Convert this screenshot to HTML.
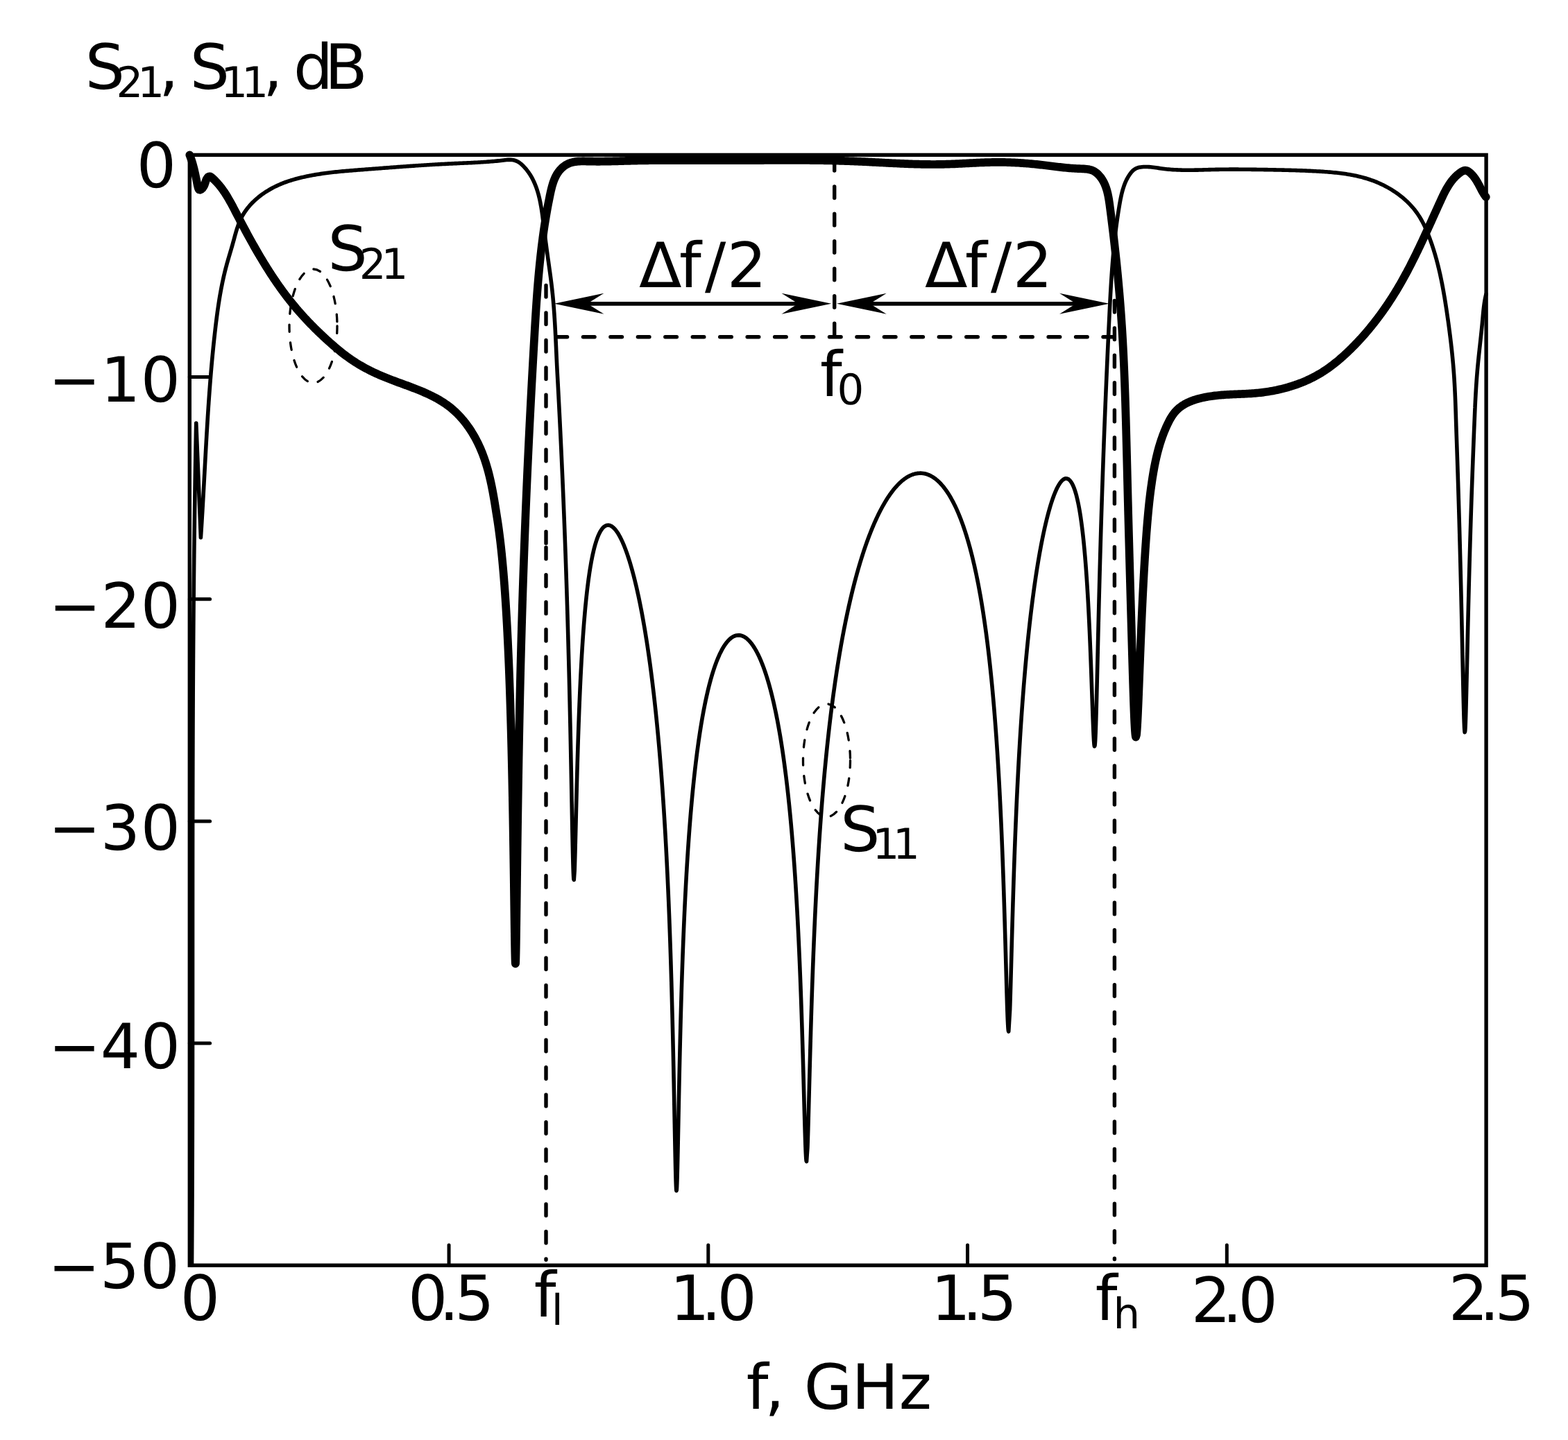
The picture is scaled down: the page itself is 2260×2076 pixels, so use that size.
<!DOCTYPE html>
<html lang="en">
<head>
<meta charset="utf-8">
<title>S21, S11 frequency response</title>
<style>
html,body{margin:0;padding:0;background:#fff;}
body{width:2260px;height:2076px;overflow:hidden;}
svg{display:block;}
</style>
</head>
<body>
<svg xmlns="http://www.w3.org/2000/svg" width="2260" height="2076" viewBox="0 0 2260 2076">
<rect width="2260" height="2076" fill="#fff"/>
<g fill="none" stroke="#000" stroke-linejoin="round" stroke-linecap="round">
<path stroke-width="5.6" d="M276.5,1824 L276.51,1822 L276.53,1820 L276.54,1818 L276.55,1816 L276.57,1814 L276.58,1812 L276.59,1810 L276.61,1808 L276.62,1806 L276.63,1804 L276.64,1802 L276.66,1800 L276.67,1798 L276.68,1796 L276.69,1794 L276.7,1792 L276.72,1790 L276.73,1788 L276.74,1786 L276.75,1784 L276.76,1782 L276.77,1780 L276.79,1778 L276.8,1776 L276.81,1774 L276.82,1772 L276.83,1770 L276.84,1768 L276.85,1766 L276.86,1764 L276.87,1762 L276.88,1760 L276.89,1758 L276.9,1756 L276.91,1754 L276.92,1752 L276.93,1750 L276.94,1748 L276.95,1746 L276.96,1744 L276.97,1742 L276.98,1740 L276.99,1738 L276.99,1736 L277,1734 L277.01,1732 L277.02,1730 L277.03,1728 L277.04,1726 L277.05,1724 L277.05,1722 L277.06,1720 L277.07,1718 L277.08,1716 L277.09,1714 L277.1,1712 L277.1,1710 L277.11,1708 L277.12,1706 L277.13,1704 L277.13,1702 L277.14,1700 L277.15,1698 L277.15,1696 L277.16,1694 L277.17,1692 L277.18,1690 L277.18,1688 L277.19,1686 L277.2,1684 L277.2,1682 L277.21,1680 L277.21,1678 L277.22,1676 L277.23,1674 L277.23,1672 L277.24,1670 L277.25,1668 L277.25,1666 L277.26,1664 L277.26,1662 L277.27,1660 L277.27,1658 L277.28,1656 L277.28,1654 L277.29,1652 L277.29,1650 L277.3,1648 L277.31,1646 L277.31,1644 L277.32,1642 L277.32,1640 L277.32,1638 L277.33,1636 L277.33,1634 L277.34,1632 L277.34,1630 L277.35,1628 L277.35,1626 L277.36,1624 L277.36,1622 L277.37,1620 L277.37,1618 L277.37,1616 L277.38,1614 L277.38,1612 L277.39,1610 L277.39,1608 L277.39,1606 L277.4,1604 L277.4,1602 L277.4,1600 L277.41,1598 L277.41,1596 L277.41,1594 L277.42,1592 L277.42,1590 L277.42,1588 L277.43,1586 L277.43,1584 L277.43,1582 L277.44,1580 L277.44,1578 L277.44,1576 L277.44,1574 L277.45,1572 L277.45,1570 L277.45,1568 L277.45,1566 L277.46,1564 L277.46,1562 L277.46,1560 L277.46,1558 L277.47,1556 L277.47,1554 L277.47,1552 L277.47,1550 L277.48,1548 L277.48,1546 L277.48,1544 L277.48,1542 L277.48,1540 L277.49,1538 L277.49,1536 L277.49,1534 L277.49,1532 L277.49,1530 L277.49,1528 L277.5,1526 L277.5,1524 L277.5,1522 L277.5,1520 L277.5,1518 L277.5,1516 L277.51,1514 L277.51,1512 L277.51,1510 L277.51,1508 L277.51,1506 L277.51,1504 L277.51,1502 L277.51,1500 L277.52,1498 L277.52,1496 L277.52,1494 L277.52,1492 L277.52,1490 L277.52,1488 L277.52,1485.99 L277.52,1483.99 L277.52,1481.99 L277.52,1479.99 L277.53,1477.99 L277.53,1475.99 L277.53,1473.99 L277.53,1471.99 L277.53,1469.99 L277.53,1467.99 L277.53,1465.99 L277.53,1463.99 L277.53,1461.99 L277.53,1459.99 L277.53,1457.99 L277.53,1455.99 L277.53,1453.99 L277.53,1451.99 L277.53,1449.99 L277.54,1447.99 L277.54,1445.99 L277.54,1443.99 L277.54,1441.99 L277.54,1439.99 L277.54,1437.99 L277.54,1435.99 L277.54,1433.99 L277.54,1431.99 L277.54,1429.99 L277.54,1427.99 L277.54,1425.99 L277.54,1423.99 L277.54,1421.99 L277.54,1419.99 L277.54,1417.99 L277.54,1415.99 L277.54,1413.99 L277.54,1411.99 L277.54,1409.99 L277.54,1407.99 L277.54,1405.99 L277.54,1403.99 L277.54,1401.99 L277.54,1399.99 L277.54,1397.99 L277.54,1395.99 L277.54,1393.99 L277.54,1391.99 L277.54,1389.99 L277.54,1387.99 L277.54,1385.99 L277.54,1383.99 L277.54,1381.99 L277.54,1379.99 L277.54,1377.99 L277.54,1375.99 L277.54,1373.99 L277.54,1371.99 L277.54,1369.99 L277.54,1367.99 L277.55,1365.99 L277.55,1363.99 L277.55,1361.99 L277.55,1359.99 L277.55,1357.99 L277.55,1355.99 L277.55,1353.99 L277.55,1351.99 L277.55,1349.99 L277.55,1347.99 L277.55,1345.99 L277.55,1343.99 L277.55,1341.99 L277.55,1339.99 L277.55,1337.99 L277.55,1335.99 L277.55,1333.99 L277.55,1331.99 L277.55,1329.99 L277.55,1327.99 L277.55,1325.99 L277.55,1323.99 L277.55,1321.99 L277.55,1319.99 L277.55,1317.99 L277.55,1315.99 L277.55,1313.99 L277.55,1311.99 L277.55,1309.99 L277.55,1307.99 L277.55,1305.99 L277.55,1303.99 L277.55,1301.99 L277.55,1299.99 L277.56,1297.99 L277.56,1295.99 L277.56,1293.99 L277.56,1291.99 L277.56,1289.99 L277.56,1287.99 L277.56,1285.99 L277.56,1283.99 L277.56,1281.99 L277.56,1279.99 L277.56,1277.99 L277.56,1275.99 L277.56,1273.99 L277.57,1271.98 L277.57,1269.98 L277.57,1267.98 L277.57,1265.98 L277.57,1263.98 L277.57,1261.98 L277.57,1259.98 L277.57,1257.98 L277.57,1255.98 L277.57,1253.98 L277.58,1251.98 L277.58,1249.98 L277.58,1247.98 L277.58,1245.98 L277.58,1243.98 L277.58,1241.98 L277.58,1239.98 L277.58,1237.98 L277.59,1235.98 L277.59,1233.98 L277.59,1231.98 L277.59,1229.98 L277.59,1227.98 L277.59,1225.98 L277.6,1223.98 L277.6,1221.98 L277.6,1219.98 L277.6,1217.98 L277.6,1215.98 L277.61,1213.98 L277.61,1211.98 L277.61,1209.98 L277.61,1207.98 L277.61,1205.98 L277.62,1203.98 L277.62,1201.98 L277.62,1199.98 L277.62,1197.98 L277.63,1195.98 L277.63,1193.98 L277.63,1191.98 L277.63,1189.98 L277.64,1187.98 L277.64,1185.98 L277.64,1183.98 L277.64,1181.98 L277.65,1179.98 L277.65,1177.98 L277.65,1175.98 L277.65,1173.98 L277.66,1171.98 L277.66,1169.98 L277.66,1167.98 L277.67,1165.98 L277.67,1163.98 L277.67,1161.98 L277.68,1159.98 L277.68,1157.98 L277.68,1155.98 L277.69,1153.98 L277.69,1151.98 L277.69,1149.98 L277.7,1147.98 L277.7,1145.98 L277.71,1143.98 L277.71,1141.98 L277.71,1139.98 L277.72,1137.98 L277.72,1135.98 L277.73,1133.98 L277.73,1131.98 L277.73,1129.98 L277.74,1127.98 L277.74,1125.98 L277.75,1123.98 L277.75,1121.98 L277.76,1119.98 L277.76,1117.98 L277.77,1115.98 L277.77,1113.98 L277.78,1111.98 L277.78,1109.98 L277.79,1107.98 L277.79,1105.98 L277.8,1103.98 L277.8,1101.98 L277.81,1099.98 L277.81,1097.98 L277.82,1095.98 L277.82,1093.98 L277.83,1091.98 L277.84,1089.98 L277.84,1087.98 L277.85,1085.98 L277.85,1083.98 L277.86,1081.98 L277.87,1079.98 L277.87,1077.98 L277.88,1075.98 L277.88,1073.98 L277.89,1071.98 L277.9,1069.98 L277.9,1067.98 L277.91,1065.98 L277.92,1063.98 L277.92,1061.98 L277.93,1059.98 L277.94,1057.98 L277.95,1055.98 L277.95,1053.98 L277.96,1051.98 L277.97,1049.98 L277.98,1047.98 L277.98,1045.98 L277.99,1043.98 L278,1041.98 L278.01,1039.98 L278.01,1037.98 L278.02,1035.98 L278.03,1033.98 L278.04,1031.98 L278.05,1029.98 L278.06,1027.98 L278.06,1025.98 L278.07,1023.98 L278.08,1021.98 L278.09,1019.98 L278.1,1017.98 L278.11,1015.98 L278.12,1013.98 L278.13,1011.98 L278.14,1009.98 L278.15,1007.98 L278.15,1005.98 L278.16,1003.98 L278.17,1001.98 L278.18,999.98 L278.19,997.98 L278.2,995.98 L278.21,993.98 L278.22,991.98 L278.23,989.98 L278.25,987.98 L278.26,985.98 L278.27,983.98 L278.28,981.98 L278.29,979.98 L278.3,977.98 L278.31,975.98 L278.32,973.98 L278.33,971.98 L278.34,969.98 L278.36,967.98 L278.37,965.98 L278.38,963.98 L278.39,961.98 L278.4,959.98 L278.42,957.98 L278.43,955.98 L278.44,953.98 L278.45,951.98 L278.46,949.98 L278.48,947.98 L278.49,945.98 L278.5,943.98 L278.52,941.98 L278.53,939.98 L278.54,937.98 L278.56,935.98 L278.57,933.98 L278.58,931.98 L278.6,929.98 L278.61,927.98 L278.63,925.98 L278.64,923.98 L278.65,921.98 L278.67,919.98 L278.68,917.98 L278.7,915.98 L278.71,913.98 L278.73,911.98 L278.74,909.98 L278.76,907.98 L278.77,905.98 L278.79,903.98 L278.8,901.98 L278.82,899.98 L278.83,897.98 L278.85,895.98 L278.87,893.98 L278.88,891.98 L278.9,889.98 L278.92,887.98 L278.93,885.98 L278.95,883.98 L278.97,881.98 L278.98,879.98 L279,877.98 L279.02,875.98 L279.03,873.98 L279.05,871.98 L279.07,869.98 L279.09,867.98 L279.11,865.98 L279.12,863.98 L279.14,861.98 L279.16,859.98 L279.18,857.98 L279.2,855.98 L279.22,853.98 L279.24,851.98 L279.25,849.98 L279.27,847.98 L279.29,845.98 L279.31,843.98 L279.33,841.98 L279.35,839.98 L279.37,837.98 L279.39,835.98 L279.41,833.98 L279.43,831.98 L279.45,829.98 L279.47,827.98 L279.49,825.98 L279.52,823.98 L279.54,821.98 L279.56,819.98 L279.58,817.98 L279.6,815.98 L279.62,813.98 L279.65,811.98 L279.67,809.98 L279.69,807.98 L279.71,805.98 L279.73,803.98 L279.76,801.98 L279.78,799.98 L279.8,797.98 L279.83,795.98 L279.85,793.98 L279.87,791.98 L279.9,789.98 L279.92,787.98 L279.94,785.98 L279.97,783.98 L279.99,781.98 L280.02,779.98 L280.04,777.98 L280.07,775.98 L280.09,773.98 L280.12,771.98 L280.14,769.98 L280.17,767.98 L280.19,765.98 L280.22,763.98 L280.24,761.98 L280.27,759.98 L280.3,757.98 L280.32,755.98 L280.35,753.98 L280.38,751.98 L280.4,749.98 L280.43,747.99 L280.46,745.99 L280.49,743.99 L280.51,741.99 L280.54,739.99 L280.57,737.99 L280.6,735.99 L280.63,733.99 L280.65,731.99 L280.68,729.99 L280.71,727.99 L280.74,725.99 L280.77,723.99 L280.8,721.99 L280.83,719.99 L280.86,717.99 L280.89,715.99 L280.92,713.99 L280.95,711.99 L280.98,709.99 L281.01,707.99 L281.04,705.99 L281.07,703.99 L281.1,701.99 L281.14,699.99 L281.17,697.99 L281.2,695.99 L281.23,693.99 L281.26,691.99 L281.3,689.99 L281.33,687.99 L281.36,685.99 L281.39,683.99 L281.43,681.99 L281.46,679.99 L281.49,677.99 L281.53,675.99 L281.56,673.99 L281.6,671.99 L281.63,669.99 L281.66,667.99 L281.7,665.99 L281.73,663.99 L281.77,661.99 L281.8,659.99 L281.84,657.99 L281.87,655.99 L281.91,653.99 L281.95,651.99 L281.98,649.99 L282.02,648 L282.06,646 L282.09,644 L282.13,642 L282.17,640 L282.2,638 L282.24,636 L282.28,634 L282.32,632 L282.36,630 L282.39,628 L282.43,626 L282.47,624 L282.51,622 L282.55,620 L282.59,618 L282.63,616 L282.67,614 L282.71,612 L282.75,610 L286,690 L289.4,775 L289.53,773 L289.66,771 L289.79,769 L289.92,767 L290.05,765 L290.18,763.01 L290.3,761.01 L290.43,759.01 L290.55,757.01 L290.68,755.01 L290.8,753.01 L290.92,751.01 L291.04,749.01 L291.16,747.01 L291.28,745.01 L291.4,743.02 L291.52,741.02 L291.64,739.02 L291.76,737.02 L291.87,735.02 L291.99,733.02 L292.1,731.02 L292.22,729.02 L292.33,727.02 L292.44,725.02 L292.56,723.03 L292.67,721.03 L292.78,719.03 L292.89,717.03 L293.01,715.03 L293.12,713.03 L293.23,711.03 L293.34,709.03 L293.45,707.04 L293.56,705.04 L293.67,703.04 L293.77,701.04 L293.88,699.04 L293.99,697.04 L294.1,695.04 L294.21,693.05 L294.32,691.05 L294.42,689.05 L294.53,687.05 L294.64,685.05 L294.75,683.05 L294.86,681.05 L294.96,679.06 L295.07,677.06 L295.18,675.06 L295.29,673.06 L295.4,671.06 L295.5,669.07 L295.61,667.07 L295.72,665.07 L295.83,663.07 L295.94,661.07 L296.05,659.07 L296.16,657.08 L296.27,655.08 L296.38,653.08 L296.49,651.08 L296.6,649.08 L296.71,647.09 L296.82,645.09 L296.93,643.09 L297.05,641.09 L297.16,639.1 L297.27,637.1 L297.39,635.1 L297.5,633.1 L297.62,631.11 L297.73,629.11 L297.85,627.11 L297.96,625.11 L298.08,623.12 L298.2,621.12 L298.32,619.12 L298.44,617.12 L298.56,615.13 L298.68,613.13 L298.8,611.13 L298.92,609.14 L299.05,607.14 L299.17,605.14 L299.3,603.15 L299.42,601.15 L299.55,599.15 L299.68,597.15 L299.8,595.16 L299.93,593.16 L300.07,591.17 L300.2,589.17 L300.33,587.17 L300.46,585.18 L300.6,583.18 L300.74,581.18 L300.87,579.19 L301.01,577.19 L301.15,575.19 L301.29,573.2 L301.43,571.2 L301.58,569.21 L301.72,567.21 L301.87,565.21 L302.02,563.22 L302.16,561.22 L302.32,559.23 L302.47,557.23 L302.62,555.24 L302.77,553.24 L302.93,551.25 L303.09,549.25 L303.25,547.25 L303.41,545.26 L303.57,543.26 L303.73,541.27 L303.9,539.27 L304.06,537.28 L304.23,535.28 L304.4,533.29 L304.57,531.29 L304.75,529.3 L304.92,527.31 L305.1,525.31 L305.28,523.32 L305.46,521.32 L305.64,519.33 L305.83,517.33 L306.01,515.34 L306.2,513.34 L306.39,511.35 L306.58,509.36 L306.78,507.36 L306.97,505.37 L307.17,503.37 L307.37,501.38 L307.57,499.39 L307.78,497.39 L307.98,495.4 L308.19,493.41 L308.4,491.41 L308.62,489.42 L308.83,487.43 L309.05,485.43 L309.27,483.44 L309.49,481.45 L309.71,479.46 L309.94,477.46 L310.17,475.47 L310.4,473.48 L310.63,471.49 L310.87,469.49 L311.11,467.5 L311.35,465.51 L311.6,463.52 L311.85,461.53 L312.1,459.54 L312.35,457.55 L312.61,455.56 L312.88,453.57 L313.14,451.58 L313.41,449.59 L313.69,447.61 L313.97,445.62 L314.26,443.64 L314.55,441.66 L314.84,439.67 L315.14,437.69 L315.45,435.71 L315.76,433.74 L316.08,431.76 L316.4,429.78 L316.73,427.81 L317.07,425.84 L317.41,423.87 L317.76,421.9 L318.11,419.93 L318.48,417.96 L318.85,416 L319.22,414.04 L319.61,412.08 L320,410.12 L320.4,408.16 L320.8,406.21 L321.22,404.26 L321.64,402.31 L322.07,400.36 L322.51,398.42 L322.96,396.48 L323.42,394.54 L323.88,392.6 L324.36,390.66 L324.84,388.73 L325.34,386.8 L325.84,384.88 L326.36,382.96 L326.88,381.04 L327.41,379.12 L327.95,377.2 L328.5,375.29 L329.05,373.37 L329.61,371.46 L330.18,369.55 L330.74,367.64 L331.31,365.72 L331.88,363.81 L332.44,361.89 L333.01,359.97 L333.57,358.04 L334.13,356.12 L334.69,354.19 L335.24,352.25 L335.78,350.31 L336.32,348.36 L336.85,346.41 L337.38,344.46 L337.91,342.5 L338.44,340.55 L338.98,338.6 L339.52,336.65 L340.08,334.71 L340.65,332.77 L341.24,330.84 L341.85,328.92 L342.49,327.02 L343.15,325.13 L343.83,323.25 L344.55,321.39 L345.3,319.55 L346.1,317.72 L346.93,315.92 L347.8,314.14 L348.72,312.39 L349.68,310.66 L350.68,308.96 L351.72,307.27 L352.81,305.62 L353.93,303.99 L355.09,302.38 L356.29,300.8 L357.52,299.24 L358.79,297.71 L360.09,296.2 L361.43,294.72 L362.8,293.26 L364.2,291.83 L365.63,290.43 L367.09,289.05 L368.57,287.69 L370.09,286.37 L371.62,285.06 L373.19,283.79 L374.78,282.54 L376.39,281.32 L378.02,280.12 L379.68,278.95 L381.35,277.81 L383.04,276.69 L384.75,275.6 L386.48,274.54 L388.23,273.5 L389.98,272.49 L391.76,271.51 L393.54,270.56 L395.34,269.63 L397.15,268.73 L398.97,267.86 L400.8,267.01 L402.63,266.2 L404.48,265.41 L406.33,264.65 L408.19,263.91 L410.05,263.19 L411.92,262.5 L413.8,261.84 L415.69,261.19 L417.58,260.57 L419.48,259.97 L421.39,259.38 L423.29,258.82 L425.21,258.28 L427.13,257.75 L429.05,257.24 L430.98,256.75 L432.91,256.27 L434.85,255.81 L436.79,255.36 L438.73,254.92 L440.68,254.5 L442.62,254.09 L444.58,253.69 L446.53,253.31 L448.49,252.94 L450.45,252.57 L452.41,252.22 L454.38,251.88 L456.34,251.55 L458.31,251.23 L460.28,250.93 L462.26,250.63 L464.24,250.33 L466.21,250.05 L468.2,249.78 L470.18,249.52 L472.16,249.26 L474.15,249.01 L476.14,248.77 L478.13,248.54 L480.12,248.31 L482.11,248.09 L484.1,247.87 L486.1,247.67 L488.09,247.46 L490.09,247.27 L492.09,247.07 L494.09,246.89 L496.09,246.7 L498.09,246.53 L500.09,246.35 L502.09,246.18 L504.1,246.01 L506.1,245.85 L508.1,245.68 L510.11,245.52 L512.11,245.37 L514.12,245.21 L516.12,245.05 L518.12,244.9 L520.13,244.75 L522.13,244.6 L524.14,244.44 L526.14,244.29 L528.14,244.14 L530.15,243.99 L532.15,243.83 L534.15,243.68 L536.15,243.53 L538.15,243.37 L540.16,243.22 L542.16,243.07 L544.16,242.92 L546.16,242.76 L548.16,242.61 L550.16,242.46 L552.16,242.31 L554.16,242.16 L556.16,242 L558.15,241.85 L560.15,241.7 L562.15,241.55 L564.15,241.4 L566.15,241.25 L568.14,241.1 L570.14,240.96 L572.14,240.81 L574.13,240.66 L576.13,240.52 L578.12,240.37 L580.12,240.23 L582.12,240.08 L584.11,239.94 L586.11,239.8 L588.1,239.66 L590.1,239.52 L592.09,239.38 L594.08,239.24 L596.08,239.1 L598.07,238.97 L600.06,238.83 L602.06,238.7 L604.05,238.56 L606.04,238.43 L608.04,238.3 L610.03,238.17 L612.02,238.05 L614.01,237.92 L616.01,237.8 L618,237.67 L619.99,237.55 L621.98,237.43 L623.97,237.31 L625.96,237.2 L627.96,237.08 L629.95,236.97 L631.94,236.86 L633.93,236.75 L635.92,236.64 L637.91,236.53 L639.9,236.43 L641.89,236.33 L643.88,236.23 L645.87,236.13 L647.86,236.03 L649.85,235.94 L651.84,235.84 L653.83,235.75 L655.82,235.66 L657.81,235.58 L659.8,235.49 L661.79,235.4 L663.78,235.32 L665.77,235.23 L667.76,235.14 L669.75,235.05 L671.75,234.97 L673.74,234.88 L675.73,234.78 L677.73,234.69 L679.72,234.59 L681.72,234.49 L683.72,234.39 L685.72,234.29 L687.72,234.18 L689.72,234.07 L691.72,233.95 L693.72,233.83 L695.73,233.7 L697.73,233.57 L699.74,233.43 L701.75,233.29 L703.76,233.14 L705.77,232.98 L707.79,232.82 L709.81,232.65 L711.82,232.48 L713.84,232.29 L715.87,232.1 L717.89,231.9 L719.92,231.69 L721.95,231.47 L723.98,231.24 L726.01,231 L728.04,230.77 L730.07,230.56 L732.09,230.4 L734.09,230.32 L736.07,230.34 L738.03,230.49 L739.95,230.79 L741.83,231.24 L743.67,231.85 L745.46,232.62 L747.18,233.55 L748.85,234.64 L750.45,235.86 L752,237.19 L753.48,238.6 L754.92,240.06 L756.3,241.56 L757.63,243.08 L758.92,244.63 L760.15,246.21 L761.34,247.81 L762.48,249.43 L763.58,251.08 L764.64,252.76 L765.65,254.45 L766.62,256.17 L767.55,257.91 L768.44,259.66 L769.29,261.44 L770.11,263.24 L770.89,265.05 L771.64,266.88 L772.35,268.73 L773.04,270.59 L773.69,272.47 L774.31,274.36 L774.9,276.26 L775.47,278.18 L776,280.11 L776.52,282.05 L777.01,284 L777.47,285.96 L777.92,287.93 L778.34,289.91 L778.75,291.9 L779.13,293.89 L779.5,295.89 L779.85,297.89 L780.19,299.9 L780.51,301.91 L780.82,303.93 L781.12,305.94 L781.41,307.96 L781.69,309.98 L781.96,312 L782.22,314.02 L782.48,316.04 L782.74,318.06 L782.99,320.07 L783.23,322.08 L783.48,324.08 L783.73,326.08 L783.97,328.08 L784.22,330.07 L784.47,332.05 L784.72,334.03 L784.96,336.01 L785.21,337.98 L785.47,339.95 L785.72,341.92 L785.97,343.89 L786.22,345.85 L786.48,347.81 L786.73,349.77 L786.99,351.73 L787.25,353.68 L787.51,355.64 L787.77,357.6 L788.03,359.55 L788.3,361.51 L788.56,363.47 L788.83,365.43 L789.1,367.39 L789.37,369.35 L789.64,371.31 L789.91,373.28 L790.19,375.25 L790.47,377.23 L790.74,379.2 L791.02,381.18 L791.3,383.16 L791.58,385.15 L791.86,387.13 L792.14,389.12 L792.42,391.11 L792.7,393.11 L792.97,395.1 L793.24,397.1 L793.51,399.09 L793.78,401.09 L794.04,403.09 L794.3,405.09 L794.55,407.09 L794.8,409.09 L795.04,411.09 L795.28,413.09 L795.51,415.09 L795.74,417.09 L795.96,419.09 L796.17,421.09 L796.38,423.09 L796.58,425.09 L796.78,427.09 L796.97,429.09 L797.16,431.08 L797.34,433.08 L797.52,435.08 L797.69,437.08 L797.86,439.08 L798.02,441.08 L798.18,443.07 L798.33,445.07 L798.48,447.07 L798.63,449.07 L798.78,451.06 L798.92,453.06 L799.05,455.06 L799.18,457.06 L799.31,459.05 L799.44,461.05 L799.56,463.05 L799.69,465.04 L799.8,467.04 L799.92,469.04 L800.03,471.03 L800.14,473.03 L800.25,475.03 L800.36,477.02 L800.46,479.02 L800.56,481.02 L800.66,483.01 L800.76,485.01 L800.86,487.01 L800.96,489 L801.05,491 L801.15,493 L801.24,494.99 L801.33,496.99 L801.43,498.99 L801.52,500.99 L801.61,502.98 L801.7,504.98 L801.79,506.98 L801.88,508.97 L801.97,510.97 L802.06,512.97 L802.15,514.96 L802.24,516.96 L802.34,518.96 L802.43,520.96 L802.52,522.95 L802.62,524.95 L802.71,526.95 L802.81,528.95 L802.91,530.95 L803.01,532.94 L803,532.94 L803.11,534.94 L803.22,536.94 L803.33,538.94 L803.44,540.94 L803.55,542.94 L803.66,544.94 L803.77,546.94 L803.87,548.94 L803.98,550.94 L804.09,552.94 L804.2,554.94 L804.3,556.94 L804.41,558.94 L804.52,560.94 L804.62,562.94 L804.73,564.94 L804.84,566.94 L804.94,568.94 L805.05,570.94 L805.15,572.94 L805.25,574.94 L805.36,576.94 L805.46,578.94 L805.57,580.94 L805.67,582.94 L805.77,584.94 L805.88,586.94 L805.98,588.94 L806.08,590.94 L806.18,592.94 L806.28,594.94 L806.39,596.94 L806.49,598.94 L806.59,600.94 L806.69,602.94 L806.79,604.94 L806.89,606.94 L806.99,608.94 L807.09,610.94 L807.19,612.95 L807.28,614.95 L807.38,616.95 L807.48,618.95 L807.58,620.95 L807.68,622.95 L807.77,624.95 L807.87,626.95 L807.97,628.95 L808.06,630.95 L808.16,632.95 L808.25,634.95 L808.35,636.95 L808.44,638.96 L808.54,640.96 L808.63,642.96 L808.73,644.96 L808.82,646.96 L808.92,648.96 L809.01,650.96 L809.1,652.96 L809.19,654.96 L809.29,656.96 L809.38,658.97 L809.47,660.97 L809.56,662.97 L809.65,664.97 L809.74,666.97 L809.83,668.97 L809.92,670.97 L810.01,672.97 L810.1,674.98 L810.19,676.98 L810.28,678.98 L810.37,680.98 L810.46,682.98 L810.55,684.98 L810.64,686.98 L810.72,688.99 L810.81,690.99 L810.9,692.99 L810.98,694.99 L811.07,696.99 L811.16,698.99 L811.24,701 L811.33,703 L811.41,705 L811.5,707 L811.58,709 L811.67,711 L811.75,713.01 L811.83,715.01 L811.92,717.01 L812,719.01 L812.08,721.01 L812.17,723.02 L812.25,725.02 L812.33,727.02 L812.41,729.02 L812.49,731.02 L812.57,733.03 L812.65,735.03 L812.73,737.03 L812.81,739.03 L812.89,741.03 L812.97,743.04 L813.05,745.04 L813.13,747.04 L813.21,749.04 L813.29,751.05 L813.36,753.05 L813.44,755.05 L813.52,757.05 L813.6,759.06 L813.67,761.06 L813.75,763.06 L813.83,765.06 L813.9,767.07 L813.98,769.07 L814.05,771.07 L814.13,773.07 L814.2,775.07 L814.28,777.08 L814.35,779.08 L814.42,781.08 L814.5,783.09 L814.57,785.09 L814.64,787.09 L814.72,789.09 L814.79,791.1 L814.86,793.1 L814.93,795.1 L815,797.1 L815.08,799.11 L815.15,801.11 L815.22,803.11 L815.29,805.12 L815.36,807.12 L815.43,809.12 L815.5,811.12 L815.57,813.13 L815.64,815.13 L815.7,817.13 L815.77,819.14 L815.84,821.14 L815.91,823.14 L815.98,825.14 L816.04,827.15 L816.11,829.15 L816.18,831.15 L816.24,833.16 L816.31,835.16 L816.38,837.16 L816.44,839.17 L816.51,841.17 L816.57,843.17 L816.64,845.17 L816.7,847.18 L816.77,849.18 L816.83,851.18 L816.89,853.19 L816.96,855.19 L817.02,857.19 L817.08,859.2 L817.15,861.2 L817.21,863.2 L817.27,865.21 L817.33,867.21 L817.39,869.21 L817.45,871.22 L817.52,873.22 L817.58,875.22 L817.64,877.23 L817.7,879.23 L817.76,881.23 L817.82,883.24 L817.88,885.24 L817.94,887.24 L818,889.25 L818.05,891.25 L818.11,893.25 L818.17,895.26 L818.23,897.26 L818.29,899.26 L818.34,901.27 L818.4,903.27 L818.46,905.27 L818.52,907.28 L818.57,909.28 L818.63,911.28 L818.68,913.29 L818.74,915.29 L818.8,917.3 L818.85,919.3 L818.91,921.3 L818.96,923.31 L819.02,925.31 L819.07,927.31 L819.12,929.32 L819.18,931.32 L819.23,933.32 L819.29,935.33 L819.34,937.33 L819.39,939.33 L819.44,941.34 L819.5,943.34 L819.55,945.35 L819.6,947.35 L819.65,949.35 L819.71,951.36 L819.76,953.36 L819.81,955.36 L819.86,957.37 L819.91,959.37 L819.96,961.37 L820.01,963.38 L820.06,965.38 L820.11,967.38 L820.16,969.39 L820.21,971.39 L820.26,973.4 L820.31,975.4 L820.36,977.4 L820.41,979.41 L820.46,981.41 L820.5,983.41 L820.55,985.42 L820.6,987.42 L820.65,989.42 L820.7,991.43 L820.74,993.43 L820.79,995.43 L820.84,997.44 L820.88,999.44 L820.93,1001.45 L820.98,1003.45 L821.02,1005.45 L821.07,1007.46 L821.11,1009.46 L821.16,1011.46 L821.21,1013.47 L821.25,1015.47 L821.3,1017.47 L821.34,1019.48 L821.39,1021.48 L821.43,1023.48 L821.47,1025.49 L821.52,1027.49 L821.56,1029.49 L821.61,1031.5 L821.65,1033.5 L821.69,1035.5 L821.74,1037.51 L821.78,1039.51 L821.82,1041.51 L821.87,1043.52 L821.91,1045.52 L821.95,1047.52 L822,1049.53 L822.04,1051.53 L822.08,1053.53 L822.12,1055.53 L822.16,1057.54 L822.21,1059.54 L822.25,1061.54 L822.29,1063.55 L822.33,1065.55 L822.37,1067.55 L822.41,1069.56 L822.45,1071.56 L822.49,1073.56 L822.53,1075.56 L822.57,1077.57 L822.61,1079.57 L822.66,1081.57 L822.7,1083.57 L822.74,1085.58 L822.78,1087.58 L822.81,1089.58 L822.85,1091.58 L822.89,1093.59 L822.93,1095.59 L822.97,1097.59 L823.01,1099.59 L823.05,1101.6 L823.09,1103.6 L823.13,1105.6 L823.17,1107.6 L823.21,1109.6 L823.25,1111.61 L823.28,1113.61 L823.32,1115.61 L823.36,1117.61 L823.4,1119.61 L823.44,1121.61 L823.48,1123.61 L823.51,1125.62 L823.55,1127.62 L823.59,1129.62 L823.63,1131.62 L823.67,1133.62 L823.7,1135.62 L823.74,1137.62 L823.78,1139.62 L823.82,1141.62 L823.86,1143.62 L823.89,1145.62 L823.93,1147.62 L823.97,1149.62 L824.01,1151.62 L824.04,1153.62 L824.08,1155.62 L824.12,1157.62 L824.16,1159.62 L824.19,1161.62 L824.23,1163.62 L824.27,1165.62 L824.31,1167.62 L824.34,1169.62 L824.38,1171.61 L824.42,1173.61 L824.46,1175.61 L824.5,1177.61 L824.53,1179.61 L824.57,1181.6 L824.61,1183.6 L824.65,1185.6 L824.69,1187.59 L824.73,1189.59 L824.76,1191.58 L824.8,1193.58 L824.84,1195.58 L824.88,1197.57 L824.92,1199.56 L824.96,1201.56 L825,1203.55 L825.04,1205.54 L825.08,1207.54 L825.12,1209.53 L825.16,1211.52 L825.2,1213.51 L825.25,1215.5 L825.29,1217.49 L825.33,1219.48 L825.37,1221.47 L825.42,1223.45 L825.46,1225.44 L825.51,1227.42 L825.55,1229.41 L825.6,1231.39 L825.65,1233.37 L825.69,1235.35 L825.74,1237.33 L825.79,1239.3 L825.84,1241.28 L825.9,1243.25 L825.95,1245.22 L826.01,1247.18 L826.06,1249.14 L826.12,1251.1 L826.19,1253.04 L826.25,1254.99 L826.32,1256.92 L826.4,1258.84 L826.48,1260.74 L826.57,1262.61 L826.68,1264.45 L826.8,1266.2 L826.96,1267.77 L827.25,1268.46 L828.1,1256.11 L828.18,1254.05 L828.26,1252 L828.33,1249.95 L828.4,1247.91 L828.46,1245.88 L828.52,1243.85 L828.58,1241.83 L828.64,1239.8 L828.7,1237.78 L828.76,1235.76 L828.81,1233.75 L828.87,1231.73 L828.92,1229.72 L828.98,1227.71 L829.03,1225.7 L829.08,1223.69 L829.13,1221.68 L829.18,1219.67 L829.23,1217.66 L829.29,1215.66 L829.34,1213.65 L829.38,1211.65 L829.43,1209.64 L829.48,1207.64 L829.53,1205.64 L829.58,1203.63 L829.63,1201.63 L829.68,1199.63 L829.73,1197.63 L829.78,1195.63 L829.82,1193.63 L829.87,1191.63 L829.92,1189.63 L829.97,1187.63 L830.02,1185.63 L830.06,1183.63 L830.11,1181.63 L830.16,1179.63 L830.21,1177.64 L830.26,1175.64 L830.31,1173.64 L830.35,1171.64 L830.4,1169.64 L830.45,1167.65 L830.5,1165.65 L830.55,1163.65 L830.6,1161.66 L830.65,1159.66 L830.7,1157.67 L830.75,1155.67 L830.8,1153.67 L830.85,1151.68 L830.9,1149.68 L830.95,1147.69 L831,1145.69 L831.05,1143.7 L831.1,1141.7 L831.15,1139.71 L831.2,1137.71 L831.25,1135.72 L831.31,1133.72 L831.36,1131.73 L831.41,1129.74 L831.46,1127.74 L831.52,1125.75 L831.57,1123.75 L831.62,1121.76 L831.68,1119.77 L831.73,1117.77 L831.79,1115.78 L831.84,1113.79 L831.9,1111.79 L831.95,1109.8 L832.01,1107.81 L832.06,1105.81 L832.12,1103.82 L832.18,1101.83 L832.24,1099.84 L832.29,1097.84 L832.35,1095.85 L832.41,1093.86 L832.47,1091.87 L832.53,1089.87 L832.59,1087.88 L832.65,1085.89 L832.71,1083.9 L832.77,1081.91 L832.83,1079.91 L832.89,1077.92 L832.95,1075.93 L833.02,1073.94 L833.08,1071.95 L833.14,1069.96 L833.21,1067.97 L833.27,1065.97 L833.34,1063.98 L833.4,1061.99 L833.47,1060 L833.54,1058.01 L833.6,1056.02 L833.67,1054.03 L833.74,1052.04 L833.81,1050.05 L833.88,1048.06 L833.95,1046.07 L834.02,1044.08 L834.09,1042.09 L834.16,1040.1 L834.24,1038.11 L834.31,1036.12 L834.38,1034.13 L834.46,1032.14 L834.53,1030.15 L834.61,1028.16 L834.69,1026.17 L834.76,1024.18 L834.84,1022.19 L834.92,1020.2 L835,1018.21 L835.08,1016.22 L835.16,1014.23 L835.24,1012.24 L835.32,1010.25 L835.41,1008.27 L835.49,1006.28 L835.57,1004.29 L835.66,1002.3 L835.75,1000.31 L835.83,998.32 L835.92,996.33 L836.01,994.35 L836.1,992.36 L836.19,990.37 L836.28,988.38 L836.38,986.39 L836.47,984.41 L836.56,982.42 L836.66,980.43 L836.76,978.44 L836.85,976.46 L836.95,974.47 L837.05,972.48 L837.15,970.5 L837.25,968.51 L837.36,966.52 L837.46,964.54 L837.56,962.55 L837.67,960.56 L837.78,958.58 L837.89,956.59 L838,954.61 L838.11,952.62 L838.22,950.64 L838.33,948.65 L838.45,946.67 L838.56,944.68 L838.68,942.7 L838.8,940.71 L838.92,938.73 L839.04,936.74 L839.17,934.76 L839.29,932.77 L839.42,930.79 L839.54,928.81 L839.67,926.82 L839.8,924.84 L839.94,922.86 L840.07,920.87 L840.21,918.89 L840.34,916.91 L840.48,914.93 L840.62,912.94 L840.77,910.96 L840.91,908.98 L841.06,907 L841.21,905.02 L841.36,903.04 L841.51,901.06 L841.67,899.08 L841.83,897.1 L841.98,895.12 L842.15,893.14 L842.31,891.16 L842.48,889.18 L842.65,887.2 L842.82,885.22 L842.99,883.25 L843.17,881.27 L843.35,879.29 L843.53,877.32 L843.71,875.34 L843.9,873.37 L844.09,871.39 L844.29,869.42 L844.48,867.44 L844.68,865.47 L844.89,863.5 L845.09,861.52 L845.3,859.55 L845.52,857.58 L845.73,855.61 L845.95,853.64 L846.18,851.67 L846.41,849.7 L846.64,847.73 L846.88,845.77 L847.12,843.8 L847.37,841.83 L847.62,839.87 L847.88,837.91 L848.14,835.94 L848.41,833.98 L848.68,832.02 L848.96,830.06 L849.24,828.1 L849.53,826.15 L849.83,824.19 L850.13,822.24 L850.44,820.28 L850.76,818.33 L851.09,816.39 L851.42,814.44 L851.76,812.49 L852.11,810.55 L852.47,808.61 L852.84,806.67 L853.22,804.74 L853.61,802.8 L854.01,800.88 L854.43,798.95 L854.86,797.03 L855.3,795.11 L855.75,793.2 L856.22,791.29 L856.71,789.39 L857.22,787.49 L857.74,785.6 L858.29,783.72 L858.86,781.85 L859.46,779.99 L860.08,778.14 L860.73,776.3 L861.42,774.48 L862.15,772.67 L862.92,770.89 L863.73,769.14 L864.61,767.42 L865.55,765.74 L866.56,764.11 L867.67,762.56 L868.88,761.09 L870.22,759.76 L871.72,758.6 L873.39,757.71 L875.24,757.18 L877.21,757.12 L879.2,757.57 L881.1,758.43 L882.84,759.59 L884.42,760.94 L885.88,762.43 L887.23,764 L888.49,765.64 L889.67,767.33 L890.78,769.05 L891.84,770.8 L892.85,772.58 L893.82,774.37 L894.75,776.19 L895.65,778.01 L896.51,779.85 L897.35,781.7 L898.17,783.56 L898.96,785.43 L899.72,787.3 L900.47,789.19 L901.2,791.07 L901.92,792.97 L902.61,794.87 L903.29,796.77 L903.96,798.68 L904.62,800.59 L905.26,802.5 L905.88,804.42 L906.5,806.34 L907.11,808.27 L907.7,810.19 L908.29,812.12 L908.87,814.06 L909.43,815.99 L909.99,817.93 L910.54,819.87 L911.08,821.81 L911.61,823.75 L912.14,825.69 L912.66,827.64 L913.17,829.59 L913.67,831.54 L914.17,833.49 L914.66,835.44 L915.15,837.39 L915.62,839.35 L916.1,841.3 L916.56,843.26 L917.03,845.22 L917.48,847.18 L917.93,849.14 L918.38,851.1 L918.82,853.06 L919.25,855.03 L919.68,856.99 L920.11,858.96 L920.53,860.92 L920.95,862.89 L921.36,864.86 L921.77,866.83 L922.17,868.8 L922.57,870.77 L922.96,872.74 L923.36,874.71 L923.74,876.68 L924.13,878.65 L924.51,880.63 L924.88,882.6 L925.26,884.58 L925.63,886.55 L925.99,888.53 L926.35,890.5 L926.71,892.48 L927.07,894.46 L927.42,896.44 L927.77,898.42 L928.11,900.39 L928.46,902.37 L928.8,904.35 L929.13,906.33 L929.47,908.32 L929.8,910.3 L930.13,912.28 L930.45,914.26 L930.77,916.24 L931.09,918.23 L931.41,920.21 L931.72,922.19 L932.04,924.18 L932.34,926.16 L932.65,928.15 L932.96,930.13 L933.26,932.12 L933.56,934.1 L933.85,936.09 L934.15,938.08 L934.44,940.06 L934.73,942.05 L935.01,944.04 L935.3,946.02 L935.58,948.01 L935.86,950 L936.14,951.99 L936.41,953.98 L936.69,955.97 L936.96,957.96 L937.23,959.95 L937.5,961.94 L937.76,963.93 L938.02,965.92 L938.29,967.91 L938.54,969.9 L938.8,971.89 L939.06,973.88 L939.31,975.87 L939.56,977.86 L939.81,979.86 L940.06,981.85 L940.3,983.84 L940.55,985.83 L940.79,987.83 L941.03,989.82 L941.27,991.81 L941.51,993.81 L941.74,995.8 L941.97,997.79 L942.21,999.79 L942.44,1001.78 L942.66,1003.78 L942.89,1005.77 L943.12,1007.77 L943.34,1009.76 L943.56,1011.75 L943.78,1013.75 L944,1015.75 L944.22,1017.74 L944.43,1019.74 L944.64,1021.73 L944.86,1023.73 L945.07,1025.72 L945.28,1027.72 L945.48,1029.72 L945.69,1031.71 L945.9,1033.71 L946.1,1035.71 L946.3,1037.7 L946.5,1039.7 L946.7,1041.7 L946.9,1043.7 L947.09,1045.69 L947.29,1047.69 L947.48,1049.69 L947.67,1051.69 L947.87,1053.68 L948.05,1055.68 L948.24,1057.68 L948.43,1059.68 L948.62,1061.68 L948.8,1063.68 L948.98,1065.67 L949.16,1067.67 L949.34,1069.67 L949.52,1071.67 L949.7,1073.67 L949.88,1075.67 L950.05,1077.67 L950.23,1079.67 L950.4,1081.67 L950.57,1083.67 L950.74,1085.67 L950.91,1087.67 L951.08,1089.67 L951.25,1091.67 L951.41,1093.67 L951.58,1095.67 L951.74,1097.67 L951.91,1099.67 L952.07,1101.67 L952.23,1103.67 L952.39,1105.67 L952.55,1107.67 L952.7,1109.67 L952.86,1111.67 L953.01,1113.67 L953.17,1115.67 L953.32,1117.67 L953.47,1119.67 L953.62,1121.67 L953.77,1123.67 L953.92,1125.68 L954.07,1127.68 L954.22,1129.68 L954.36,1131.68 L954.51,1133.68 L954.65,1135.68 L954.8,1137.69 L954.94,1139.69 L955.08,1141.69 L955.22,1143.69 L955.36,1145.69 L955.5,1147.69 L955.63,1149.7 L955.77,1151.7 L955.91,1153.7 L956.04,1155.7 L956.17,1157.71 L956.31,1159.71 L956.44,1161.71 L956.57,1163.71 L956.7,1165.71 L956.83,1167.72 L956.96,1169.72 L957.08,1171.72 L957.21,1173.73 L957.34,1175.73 L957.46,1177.73 L957.59,1179.73 L957.71,1181.74 L957.83,1183.74 L957.95,1185.74 L958.07,1187.75 L958.19,1189.75 L958.31,1191.75 L958.43,1193.75 L958.55,1195.76 L958.67,1197.76 L958.78,1199.76 L958.9,1201.77 L959.01,1203.77 L959.13,1205.77 L959.24,1207.78 L959.35,1209.78 L959.46,1211.79 L959.57,1213.79 L959.68,1215.79 L959.79,1217.8 L959.9,1219.8 L960.01,1221.8 L960.12,1223.81 L960.22,1225.81 L960.33,1227.81 L960.44,1229.82 L960.54,1231.82 L960.64,1233.83 L960.75,1235.83 L960.85,1237.83 L960.95,1239.84 L961.05,1241.84 L961.15,1243.85 L961.25,1245.85 L961.35,1247.85 L961.45,1249.86 L961.55,1251.86 L961.64,1253.87 L961.74,1255.87 L961.84,1257.88 L961.93,1259.88 L962.03,1261.88 L962.12,1263.89 L962.21,1265.89 L962.31,1267.9 L962.4,1269.9 L962.49,1271.91 L962.58,1273.91 L962.67,1275.92 L962.76,1277.92 L962.85,1279.92 L962.94,1281.93 L963.03,1283.93 L963.12,1285.94 L963.2,1287.94 L963.29,1289.95 L963.37,1291.95 L963.46,1293.96 L963.54,1295.96 L963.63,1297.97 L963.71,1299.97 L963.8,1301.98 L963.88,1303.98 L963.96,1305.99 L964.04,1307.99 L964.12,1309.99 L964.2,1312 L964.28,1314 L964.36,1316.01 L964.44,1318.01 L964.52,1320.02 L964.6,1322.02 L964.68,1324.03 L964.75,1326.03 L964.83,1328.04 L964.9,1330.04 L964.98,1332.05 L965.06,1334.05 L965.13,1336.06 L965.2,1338.06 L965.28,1340.07 L965.35,1342.07 L965.42,1344.08 L965.5,1346.08 L965.57,1348.09 L965.64,1350.09 L965.71,1352.1 L965.78,1354.1 L965.85,1356.11 L965.92,1358.11 L965.99,1360.12 L966.06,1362.12 L966.12,1364.13 L966.19,1366.13 L966.26,1368.14 L966.33,1370.14 L966.39,1372.15 L966.46,1374.15 L966.53,1376.16 L966.59,1378.17 L966.66,1380.17 L966.72,1382.18 L966.78,1384.18 L966.85,1386.19 L966.91,1388.19 L966.97,1390.2 L967.04,1392.2 L967.1,1394.21 L967.16,1396.21 L967.22,1398.22 L967.28,1400.22 L967.34,1402.23 L967.4,1404.23 L967.46,1406.24 L967.52,1408.24 L967.58,1410.25 L967.64,1412.25 L967.7,1414.26 L967.76,1416.26 L967.82,1418.27 L967.87,1420.27 L967.93,1422.28 L967.99,1424.28 L968.04,1426.29 L968.1,1428.29 L968.16,1430.3 L968.21,1432.3 L968.27,1434.31 L968.32,1436.31 L968.38,1438.32 L968.43,1440.32 L968.48,1442.33 L968.54,1444.33 L968.59,1446.34 L968.64,1448.34 L968.7,1450.35 L968.75,1452.35 L968.8,1454.36 L968.85,1456.36 L968.9,1458.37 L968.95,1460.37 L969.01,1462.38 L969.06,1464.38 L969.11,1466.39 L969.16,1468.39 L969.21,1470.4 L969.26,1472.4 L969.3,1474.41 L969.35,1476.41 L969.4,1478.42 L969.45,1480.42 L969.5,1482.43 L969.55,1484.43 L969.59,1486.44 L969.64,1488.44 L969.69,1490.45 L969.74,1492.45 L969.78,1494.46 L969.83,1496.46 L969.88,1498.46 L969.92,1500.47 L969.97,1502.47 L970.01,1504.48 L970.06,1506.48 L970.1,1508.49 L970.15,1510.49 L970.19,1512.5 L970.24,1514.5 L970.28,1516.5 L970.33,1518.51 L970.37,1520.51 L970.41,1522.52 L970.46,1524.52 L970.5,1526.52 L970.54,1528.53 L970.59,1530.53 L970.63,1532.54 L970.67,1534.54 L970.71,1536.54 L970.76,1538.55 L970.8,1540.55 L970.84,1542.56 L970.88,1544.56 L970.92,1546.56 L970.96,1548.57 L971,1550.57 L971.04,1552.57 L971.09,1554.58 L971.13,1556.58 L971.17,1558.58 L971.21,1560.59 L971.25,1562.59 L971.29,1564.59 L971.33,1566.6 L971.37,1568.6 L971.41,1570.6 L971.45,1572.6 L971.49,1574.61 L971.52,1576.61 L971.56,1578.61 L971.6,1580.61 L971.64,1582.62 L971.68,1584.62 L971.72,1586.62 L971.76,1588.62 L971.8,1590.62 L971.84,1592.63 L971.87,1594.63 L971.91,1596.63 L971.95,1598.63 L971.99,1600.63 L972.03,1602.63 L972.06,1604.63 L972.1,1606.63 L972.14,1608.63 L972.18,1610.63 L972.22,1612.63 L972.25,1614.63 L972.29,1616.63 L972.33,1618.63 L972.37,1620.63 L972.41,1622.63 L972.44,1624.63 L972.48,1626.63 L972.52,1628.63 L972.56,1630.63 L972.6,1632.63 L972.63,1634.62 L972.67,1636.62 L972.71,1638.62 L972.75,1640.62 L972.79,1642.61 L972.83,1644.61 L972.86,1646.61 L972.9,1648.6 L972.94,1650.6 L972.98,1652.59 L973.02,1654.59 L973.06,1656.58 L973.1,1658.57 L973.14,1660.56 L973.18,1662.56 L973.22,1664.55 L973.26,1666.54 L973.3,1668.53 L973.35,1670.52 L973.39,1672.51 L973.43,1674.49 L973.47,1676.48 L973.52,1678.46 L973.56,1680.45 L973.61,1682.43 L973.65,1684.41 L973.7,1686.39 L973.75,1688.37 L973.8,1690.34 L973.85,1692.31 L973.9,1694.28 L973.95,1696.25 L974.01,1698.21 L974.07,1700.16 L974.13,1702.11 L974.19,1704.05 L974.26,1705.99 L974.33,1707.9 L974.41,1709.8 L974.5,1711.67 L974.6,1713.49 L974.72,1715.21 L974.89,1716.65 L975.27,1715.88 L975.48,1713.04 L975.6,1710.81 L975.69,1708.66 L975.78,1706.56 L975.85,1704.47 L975.92,1702.41 L975.98,1700.35 L976.05,1698.31 L976.1,1696.27 L976.16,1694.23 L976.21,1692.2 L976.27,1690.17 L976.32,1688.14 L976.37,1686.12 L976.42,1684.1 L976.47,1682.08 L976.51,1680.07 L976.56,1678.05 L976.6,1676.04 L976.65,1674.02 L976.69,1672.01 L976.74,1670 L976.78,1667.99 L976.82,1665.98 L976.86,1663.98 L976.91,1661.97 L976.95,1659.96 L976.99,1657.95 L977.03,1655.95 L977.07,1653.94 L977.11,1651.94 L977.15,1649.94 L977.19,1647.93 L977.23,1645.93 L977.27,1643.93 L977.31,1641.92 L977.35,1639.92 L977.39,1637.92 L977.43,1635.92 L977.47,1633.92 L977.51,1631.92 L977.55,1629.92 L977.59,1627.92 L977.63,1625.92 L977.67,1623.92 L977.71,1621.92 L977.75,1619.92 L977.79,1617.92 L977.83,1615.92 L977.86,1613.92 L977.9,1611.92 L977.94,1609.92 L977.98,1607.92 L978.02,1605.93 L978.06,1603.93 L978.1,1601.93 L978.14,1599.93 L978.18,1597.94 L978.22,1595.94 L978.26,1593.94 L978.3,1591.94 L978.34,1589.95 L978.38,1587.95 L978.42,1585.95 L978.46,1583.96 L978.5,1581.96 L978.54,1579.96 L978.59,1577.97 L978.63,1575.97 L978.67,1573.97 L978.71,1571.98 L978.75,1569.98 L978.79,1567.99 L978.83,1565.99 L978.88,1564 L978.92,1562 L978.96,1560 L979,1558.01 L979.05,1556.01 L979.09,1554.02 L979.13,1552.02 L979.17,1550.03 L979.22,1548.03 L979.26,1546.04 L979.3,1544.04 L979.35,1542.05 L979.39,1540.05 L979.44,1538.06 L979.48,1536.06 L979.53,1534.07 L979.57,1532.07 L979.62,1530.08 L979.66,1528.09 L979.71,1526.09 L979.75,1524.1 L979.8,1522.1 L979.85,1520.11 L979.89,1518.11 L979.94,1516.12 L979.99,1514.13 L980.03,1512.13 L980.08,1510.14 L980.13,1508.14 L980.18,1506.15 L980.23,1504.16 L980.28,1502.16 L980.32,1500.17 L980.37,1498.17 L980.42,1496.18 L980.47,1494.19 L980.52,1492.19 L980.57,1490.2 L980.62,1488.21 L980.68,1486.21 L980.73,1484.22 L980.78,1482.23 L980.83,1480.23 L980.88,1478.24 L980.93,1476.25 L980.99,1474.25 L981.04,1472.26 L981.09,1470.27 L981.15,1468.27 L981.2,1466.28 L981.26,1464.29 L981.31,1462.29 L981.37,1460.3 L981.42,1458.31 L981.48,1456.32 L981.53,1454.32 L981.59,1452.33 L981.65,1450.34 L981.71,1448.34 L981.76,1446.35 L981.82,1444.36 L981.88,1442.37 L981.94,1440.37 L982,1438.38 L982.06,1436.39 L982.12,1434.4 L982.18,1432.4 L982.24,1430.41 L982.3,1428.42 L982.36,1426.43 L982.42,1424.43 L982.49,1422.44 L982.55,1420.45 L982.61,1418.46 L982.68,1416.47 L982.74,1414.47 L982.8,1412.48 L982.87,1410.49 L982.93,1408.5 L983,1406.5 L983.07,1404.51 L983.13,1402.52 L983.2,1400.53 L983.27,1398.54 L983.34,1396.54 L983.41,1394.55 L983.48,1392.56 L983.54,1390.57 L983.62,1388.58 L983.69,1386.59 L983.76,1384.59 L983.83,1382.6 L983.9,1380.61 L983.97,1378.62 L984.05,1376.63 L984.12,1374.64 L984.19,1372.65 L984.27,1370.65 L984.34,1368.66 L984.42,1366.67 L984.5,1364.68 L984.57,1362.69 L984.65,1360.7 L984.73,1358.71 L984.81,1356.71 L984.89,1354.72 L984.97,1352.73 L985.05,1350.74 L985.13,1348.75 L985.21,1346.76 L985.29,1344.77 L985.38,1342.78 L985.46,1340.79 L985.54,1338.8 L985.63,1336.81 L985.71,1334.81 L985.8,1332.82 L985.89,1330.83 L985.97,1328.84 L986.06,1326.85 L986.15,1324.86 L986.24,1322.87 L986.33,1320.88 L986.42,1318.89 L986.51,1316.9 L986.6,1314.91 L986.7,1312.92 L986.79,1310.93 L986.88,1308.94 L986.98,1306.95 L987.07,1304.96 L987.17,1302.97 L987.27,1300.98 L987.37,1298.99 L987.46,1297 L987.56,1295.01 L987.66,1293.02 L987.77,1291.03 L987.87,1289.04 L987.97,1287.05 L988.07,1285.06 L988.18,1283.07 L988.28,1281.08 L988.39,1279.09 L988.49,1277.1 L988.6,1275.12 L988.71,1273.13 L988.82,1271.14 L988.93,1269.15 L989.04,1267.16 L989.15,1265.17 L989.27,1263.18 L989.38,1261.19 L989.49,1259.2 L989.61,1257.22 L989.73,1255.23 L989.84,1253.24 L989.96,1251.25 L990.08,1249.26 L990.2,1247.27 L990.32,1245.29 L990.44,1243.3 L990.57,1241.31 L990.69,1239.32 L990.82,1237.33 L990.94,1235.35 L991.07,1233.36 L991.2,1231.37 L991.33,1229.38 L991.46,1227.4 L991.59,1225.41 L991.72,1223.42 L991.86,1221.44 L991.99,1219.45 L992.13,1217.46 L992.27,1215.47 L992.41,1213.49 L992.55,1211.5 L992.69,1209.51 L992.83,1207.53 L992.97,1205.54 L993.12,1203.56 L993.26,1201.57 L993.41,1199.58 L993.56,1197.6 L993.71,1195.61 L993.86,1193.63 L994.01,1191.64 L994.17,1189.66 L994.32,1187.67 L994.48,1185.69 L994.63,1183.7 L994.79,1181.72 L994.95,1179.73 L995.12,1177.75 L995.28,1175.76 L995.44,1173.78 L995.61,1171.79 L995.78,1169.81 L995.95,1167.83 L996.12,1165.84 L996.29,1163.86 L996.47,1161.88 L996.64,1159.89 L996.82,1157.91 L997,1155.93 L997.18,1153.94 L997.36,1151.96 L997.54,1149.98 L997.73,1148 L997.92,1146.02 L998.11,1144.03 L998.3,1142.05 L998.49,1140.07 L998.69,1138.09 L998.88,1136.11 L999.08,1134.13 L999.28,1132.15 L999.48,1130.17 L999.69,1128.19 L999.89,1126.21 L1000.1,1124.23 L1000.31,1122.25 L1000.52,1120.27 L1000.74,1118.29 L1000.95,1116.32 L1001.17,1114.34 L1001.39,1112.36 L1001.62,1110.38 L1001.84,1108.41 L1002.07,1106.43 L1002.3,1104.45 L1002.53,1102.48 L1002.77,1100.5 L1003,1098.52 L1003.24,1096.55 L1003.49,1094.57 L1003.73,1092.6 L1003.98,1090.63 L1004.23,1088.65 L1004.48,1086.68 L1004.73,1084.71 L1004.99,1082.73 L1005.25,1080.76 L1005.52,1078.79 L1005.78,1076.82 L1006.05,1074.85 L1006.33,1072.88 L1006.6,1070.91 L1006.88,1068.94 L1007.16,1066.97 L1007.45,1065 L1007.73,1063.04 L1008.03,1061.07 L1008.32,1059.1 L1008.62,1057.14 L1008.92,1055.17 L1009.23,1053.21 L1009.54,1051.24 L1009.85,1049.28 L1010.16,1047.32 L1010.49,1045.35 L1010.81,1043.39 L1011.14,1041.43 L1011.47,1039.47 L1011.81,1037.52 L1012.15,1035.56 L1012.49,1033.6 L1012.84,1031.64 L1013.2,1029.69 L1013.56,1027.74 L1013.92,1025.78 L1014.29,1023.83 L1014.66,1021.88 L1015.04,1019.93 L1015.43,1017.98 L1015.82,1016.03 L1016.21,1014.09 L1016.61,1012.14 L1017.02,1010.2 L1017.43,1008.26 L1017.85,1006.32 L1018.28,1004.38 L1018.71,1002.44 L1019.15,1000.51 L1019.59,998.57 L1020.04,996.64 L1020.5,994.71 L1020.97,992.78 L1021.45,990.86 L1021.93,988.93 L1022.42,987.01 L1022.92,985.09 L1023.43,983.18 L1023.95,981.26 L1024.47,979.35 L1025.01,977.45 L1025.56,975.54 L1026.11,973.64 L1026.68,971.75 L1027.26,969.85 L1027.85,967.96 L1028.46,966.08 L1029.08,964.2 L1029.71,962.32 L1030.35,960.46 L1031.01,958.59 L1031.69,956.73 L1032.38,954.88 L1033.09,953.04 L1033.81,951.21 L1034.56,949.38 L1035.33,947.56 L1036.12,945.76 L1036.93,943.96 L1037.76,942.18 L1038.63,940.41 L1039.52,938.65 L1040.44,936.92 L1041.39,935.2 L1042.38,933.5 L1043.41,931.83 L1044.47,930.19 L1045.59,928.58 L1046.75,927.01 L1047.96,925.48 L1049.24,924 L1050.58,922.59 L1051.99,921.25 L1053.48,920 L1055.05,918.85 L1056.72,917.84 L1058.47,917 L1060.32,916.34 L1062.24,915.92 L1064.21,915.75 L1066.21,915.85 L1068.2,916.23 L1070.14,916.85 L1072,917.7 L1073.78,918.73 L1075.46,919.91 L1077.05,921.2 L1078.56,922.59 L1080,924.06 L1081.36,925.59 L1082.66,927.17 L1083.9,928.8 L1085.08,930.46 L1086.22,932.15 L1087.32,933.87 L1088.37,935.61 L1089.39,937.38 L1090.37,939.15 L1091.33,940.95 L1092.25,942.76 L1093.14,944.58 L1094.01,946.41 L1094.86,948.25 L1095.68,950.1 L1096.49,951.96 L1097.27,953.83 L1098.03,955.71 L1098.78,957.59 L1099.51,959.47 L1100.22,961.37 L1100.91,963.26 L1101.6,965.17 L1102.27,967.07 L1102.92,968.98 L1103.56,970.9 L1104.19,972.82 L1104.81,974.74 L1105.42,976.66 L1106.01,978.59 L1106.6,980.52 L1107.17,982.46 L1107.74,984.39 L1108.29,986.33 L1108.84,988.27 L1109.38,990.21 L1109.91,992.16 L1110.43,994.11 L1110.94,996.06 L1111.45,998.01 L1111.94,999.96 L1112.43,1001.91 L1112.92,1003.87 L1113.39,1005.83 L1113.86,1007.79 L1114.32,1009.75 L1114.78,1011.71 L1115.23,1013.67 L1115.67,1015.64 L1116.11,1017.6 L1116.54,1019.57 L1116.97,1021.53 L1117.39,1023.5 L1117.8,1025.47 L1118.21,1027.44 L1118.62,1029.41 L1119.02,1031.39 L1119.41,1033.36 L1119.8,1035.34 L1120.19,1037.31 L1120.57,1039.29 L1120.94,1041.26 L1121.31,1043.24 L1121.68,1045.22 L1122.04,1047.2 L1122.4,1049.18 L1122.76,1051.16 L1123.11,1053.14 L1123.45,1055.12 L1123.79,1057.1 L1124.13,1059.08 L1124.47,1061.07 L1124.8,1063.05 L1125.13,1065.03 L1125.45,1067.02 L1125.77,1069 L1126.09,1070.99 L1126.4,1072.98 L1126.71,1074.96 L1127.02,1076.95 L1127.32,1078.94 L1127.62,1080.93 L1127.92,1082.91 L1128.21,1084.9 L1128.5,1086.89 L1128.79,1088.88 L1129.08,1090.87 L1129.36,1092.86 L1129.64,1094.85 L1129.91,1096.84 L1130.19,1098.83 L1130.46,1100.83 L1130.73,1102.82 L1130.99,1104.81 L1131.26,1106.8 L1131.52,1108.8 L1131.77,1110.79 L1132.03,1112.78 L1132.28,1114.78 L1132.53,1116.77 L1132.78,1118.76 L1133.03,1120.76 L1133.27,1122.75 L1133.51,1124.75 L1133.75,1126.74 L1133.99,1128.74 L1134.22,1130.73 L1134.46,1132.73 L1134.69,1134.73 L1134.91,1136.72 L1135.14,1138.72 L1135.36,1140.72 L1135.59,1142.71 L1135.81,1144.71 L1136.02,1146.71 L1136.24,1148.7 L1136.45,1150.7 L1136.66,1152.7 L1136.87,1154.7 L1137.08,1156.7 L1137.29,1158.69 L1137.49,1160.69 L1137.7,1162.69 L1137.9,1164.69 L1138.1,1166.69 L1138.29,1168.69 L1138.49,1170.69 L1138.68,1172.69 L1138.88,1174.69 L1139.07,1176.69 L1139.26,1178.69 L1139.44,1180.69 L1139.63,1182.69 L1139.81,1184.69 L1140,1186.69 L1140.18,1188.69 L1140.36,1190.69 L1140.53,1192.69 L1140.71,1194.69 L1140.89,1196.69 L1141.06,1198.69 L1141.23,1200.69 L1141.4,1202.69 L1141.57,1204.69 L1141.74,1206.69 L1141.9,1208.7 L1142.07,1210.7 L1142.23,1212.7 L1142.4,1214.7 L1142.56,1216.7 L1142.72,1218.7 L1142.87,1220.71 L1143.03,1222.71 L1143.19,1224.71 L1143.34,1226.71 L1143.49,1228.72 L1143.65,1230.72 L1143.8,1232.72 L1143.95,1234.72 L1144.1,1236.73 L1144.24,1238.73 L1144.39,1240.73 L1144.53,1242.73 L1144.68,1244.74 L1144.82,1246.74 L1144.96,1248.74 L1145.1,1250.75 L1145.24,1252.75 L1145.38,1254.75 L1145.51,1256.75 L1145.65,1258.76 L1145.79,1260.76 L1145.92,1262.76 L1146.05,1264.77 L1146.18,1266.77 L1146.31,1268.78 L1146.44,1270.78 L1146.57,1272.78 L1146.7,1274.79 L1146.83,1276.79 L1146.95,1278.79 L1147.08,1280.8 L1147.2,1282.8 L1147.32,1284.81 L1147.44,1286.81 L1147.57,1288.81 L1147.69,1290.82 L1147.8,1292.82 L1147.92,1294.83 L1148.04,1296.83 L1148.16,1298.83 L1148.27,1300.84 L1148.39,1302.84 L1148.5,1304.85 L1148.61,1306.85 L1148.73,1308.85 L1148.84,1310.86 L1148.95,1312.86 L1149.06,1314.87 L1149.17,1316.87 L1149.27,1318.88 L1149.38,1320.88 L1149.49,1322.89 L1149.59,1324.89 L1149.7,1326.9 L1149.8,1328.9 L1149.91,1330.9 L1150.01,1332.91 L1150.11,1334.91 L1150.21,1336.92 L1150.31,1338.92 L1150.41,1340.93 L1150.51,1342.93 L1150.61,1344.94 L1150.71,1346.94 L1150.8,1348.95 L1150.9,1350.95 L1151,1352.96 L1151.09,1354.96 L1151.18,1356.97 L1151.28,1358.97 L1151.37,1360.98 L1151.46,1362.98 L1151.55,1364.99 L1151.65,1366.99 L1151.74,1369 L1151.83,1371 L1151.91,1373.01 L1152,1375.01 L1152.09,1377.02 L1152.18,1379.02 L1152.27,1381.02 L1152.35,1383.03 L1152.44,1385.03 L1152.52,1387.04 L1152.61,1389.04 L1152.69,1391.05 L1152.77,1393.05 L1152.86,1395.06 L1152.94,1397.06 L1153.02,1399.07 L1153.1,1401.07 L1153.18,1403.08 L1153.26,1405.08 L1153.34,1407.09 L1153.42,1409.09 L1153.5,1411.1 L1153.58,1413.1 L1153.65,1415.11 L1153.73,1417.11 L1153.81,1419.12 L1153.88,1421.12 L1153.96,1423.13 L1154.03,1425.13 L1154.11,1427.14 L1154.18,1429.14 L1154.26,1431.15 L1154.33,1433.15 L1154.4,1435.16 L1154.47,1437.16 L1154.55,1439.17 L1154.62,1441.17 L1154.69,1443.18 L1154.76,1445.18 L1154.83,1447.19 L1154.9,1449.19 L1154.97,1451.2 L1155.04,1453.2 L1155.11,1455.2 L1155.17,1457.21 L1155.24,1459.21 L1155.31,1461.22 L1155.38,1463.22 L1155.44,1465.23 L1155.51,1467.23 L1155.57,1469.24 L1155.64,1471.24 L1155.7,1473.24 L1155.77,1475.25 L1155.83,1477.25 L1155.9,1479.26 L1155.96,1481.26 L1156.03,1483.27 L1156.09,1485.27 L1156.15,1487.27 L1156.21,1489.28 L1156.28,1491.28 L1156.34,1493.29 L1156.4,1495.29 L1156.46,1497.29 L1156.52,1499.3 L1156.58,1501.3 L1156.64,1503.31 L1156.7,1505.31 L1156.76,1507.31 L1156.82,1509.32 L1156.88,1511.32 L1156.94,1513.32 L1157,1515.33 L1157.06,1517.33 L1157.12,1519.33 L1157.17,1521.34 L1157.23,1523.34 L1157.29,1525.34 L1157.35,1527.35 L1157.4,1529.35 L1157.46,1531.35 L1157.52,1533.35 L1157.57,1535.36 L1157.63,1537.36 L1157.69,1539.36 L1157.74,1541.36 L1157.8,1543.37 L1157.85,1545.37 L1157.91,1547.37 L1157.97,1549.37 L1158.02,1551.37 L1158.08,1553.38 L1158.13,1555.38 L1158.19,1557.38 L1158.24,1559.38 L1158.29,1561.38 L1158.35,1563.38 L1158.4,1565.38 L1158.46,1567.38 L1158.51,1569.38 L1158.57,1571.38 L1158.62,1573.38 L1158.67,1575.38 L1158.73,1577.38 L1158.78,1579.38 L1158.84,1581.38 L1158.89,1583.38 L1158.94,1585.38 L1159,1587.38 L1159.05,1589.38 L1159.11,1591.38 L1159.16,1593.37 L1159.22,1595.37 L1159.27,1597.37 L1159.32,1599.37 L1159.38,1601.36 L1159.43,1603.36 L1159.49,1605.36 L1159.54,1607.35 L1159.6,1609.35 L1159.65,1611.34 L1159.71,1613.33 L1159.77,1615.33 L1159.82,1617.32 L1159.88,1619.31 L1159.94,1621.31 L1159.99,1623.3 L1160.05,1625.29 L1160.11,1627.28 L1160.17,1629.26 L1160.23,1631.25 L1160.29,1633.24 L1160.35,1635.22 L1160.41,1637.21 L1160.48,1639.19 L1160.54,1641.17 L1160.61,1643.15 L1160.67,1645.13 L1160.74,1647.11 L1160.81,1649.08 L1160.88,1651.05 L1160.95,1653.02 L1161.03,1654.98 L1161.11,1656.94 L1161.19,1658.89 L1161.28,1660.83 L1161.37,1662.77 L1161.47,1664.69 L1161.57,1666.6 L1161.69,1668.48 L1161.82,1670.32 L1161.98,1672.08 L1162.18,1673.67 L1162.52,1674.48 L1163.88,1655.09 L1163.96,1653.05 L1164.04,1651.02 L1164.11,1648.99 L1164.18,1646.96 L1164.25,1644.94 L1164.32,1642.92 L1164.38,1640.9 L1164.44,1638.88 L1164.51,1636.86 L1164.57,1634.85 L1164.63,1632.83 L1164.69,1630.82 L1164.75,1628.81 L1164.81,1626.8 L1164.86,1624.79 L1164.92,1622.78 L1164.98,1620.77 L1165.03,1618.76 L1165.09,1616.76 L1165.14,1614.75 L1165.2,1612.75 L1165.25,1610.74 L1165.31,1608.74 L1165.36,1606.73 L1165.41,1604.73 L1165.47,1602.72 L1165.52,1600.72 L1165.57,1598.72 L1165.63,1596.72 L1165.68,1594.72 L1165.73,1592.71 L1165.78,1590.71 L1165.84,1588.71 L1165.89,1586.71 L1165.94,1584.71 L1165.99,1582.71 L1166.05,1580.71 L1166.1,1578.71 L1166.15,1576.71 L1166.2,1574.71 L1166.25,1572.71 L1166.31,1570.71 L1166.36,1568.71 L1166.41,1566.72 L1166.46,1564.72 L1166.51,1562.72 L1166.57,1560.72 L1166.62,1558.72 L1166.67,1556.73 L1166.72,1554.73 L1166.78,1552.73 L1166.83,1550.73 L1166.88,1548.74 L1166.93,1546.74 L1166.99,1544.74 L1167.04,1542.74 L1167.09,1540.75 L1167.15,1538.75 L1167.2,1536.75 L1167.25,1534.76 L1167.31,1532.76 L1167.36,1530.76 L1167.41,1528.77 L1167.47,1526.77 L1167.52,1524.78 L1167.58,1522.78 L1167.63,1520.78 L1167.69,1518.79 L1167.74,1516.79 L1167.8,1514.8 L1167.85,1512.8 L1167.91,1510.81 L1167.96,1508.81 L1168.02,1506.81 L1168.08,1504.82 L1168.13,1502.82 L1168.19,1500.83 L1168.25,1498.83 L1168.3,1496.84 L1168.36,1494.84 L1168.42,1492.85 L1168.48,1490.85 L1168.54,1488.86 L1168.59,1486.86 L1168.65,1484.87 L1168.71,1482.87 L1168.77,1480.88 L1168.83,1478.89 L1168.89,1476.89 L1168.95,1474.9 L1169.01,1472.9 L1169.07,1470.91 L1169.13,1468.91 L1169.19,1466.92 L1169.25,1464.93 L1169.32,1462.93 L1169.38,1460.94 L1169.44,1458.94 L1169.5,1456.95 L1169.57,1454.95 L1169.63,1452.96 L1169.69,1450.97 L1169.76,1448.97 L1169.82,1446.98 L1169.89,1444.99 L1169.95,1442.99 L1170.02,1441 L1170.08,1439 L1170.15,1437.01 L1170.21,1435.02 L1170.28,1433.02 L1170.35,1431.03 L1170.41,1429.04 L1170.48,1427.04 L1170.55,1425.05 L1170.62,1423.06 L1170.69,1421.06 L1170.76,1419.07 L1170.83,1417.08 L1170.9,1415.08 L1170.97,1413.09 L1171.04,1411.1 L1171.11,1409.1 L1171.18,1407.11 L1171.25,1405.12 L1171.33,1403.12 L1171.4,1401.13 L1171.47,1399.14 L1171.55,1397.15 L1171.62,1395.15 L1171.69,1393.16 L1171.77,1391.17 L1171.84,1389.17 L1171.92,1387.18 L1172,1385.19 L1172.07,1383.2 L1172.15,1381.2 L1172.23,1379.21 L1172.31,1377.22 L1172.38,1375.23 L1172.46,1373.23 L1172.54,1371.24 L1172.62,1369.25 L1172.7,1367.26 L1172.78,1365.26 L1172.87,1363.27 L1172.95,1361.28 L1173.03,1359.29 L1173.11,1357.29 L1173.2,1355.3 L1173.28,1353.31 L1173.36,1351.32 L1173.45,1349.33 L1173.53,1347.33 L1173.62,1345.34 L1173.71,1343.35 L1173.79,1341.36 L1173.88,1339.37 L1173.97,1337.37 L1174.06,1335.38 L1174.15,1333.39 L1174.24,1331.4 L1174.33,1329.41 L1174.42,1327.42 L1174.51,1325.42 L1174.6,1323.43 L1174.69,1321.44 L1174.79,1319.45 L1174.88,1317.46 L1174.98,1315.47 L1175.07,1313.47 L1175.17,1311.48 L1175.26,1309.49 L1175.36,1307.5 L1175.46,1305.51 L1175.55,1303.52 L1175.65,1301.53 L1175.75,1299.53 L1175.85,1297.54 L1175.95,1295.55 L1176.05,1293.56 L1176.15,1291.57 L1176.26,1289.58 L1176.36,1287.59 L1176.46,1285.6 L1176.57,1283.61 L1176.67,1281.62 L1176.78,1279.62 L1176.89,1277.63 L1176.99,1275.64 L1177.1,1273.65 L1177.21,1271.66 L1177.32,1269.67 L1177.43,1267.68 L1177.54,1265.69 L1177.65,1263.7 L1177.76,1261.71 L1177.87,1259.72 L1177.99,1257.73 L1178.1,1255.74 L1178.22,1253.75 L1178.33,1251.76 L1178.45,1249.77 L1178.56,1247.78 L1178.68,1245.79 L1178.8,1243.8 L1178.92,1241.81 L1179.04,1239.82 L1179.16,1237.83 L1179.28,1235.84 L1179.41,1233.85 L1179.53,1231.86 L1179.65,1229.87 L1179.78,1227.88 L1179.9,1225.89 L1180.03,1223.9 L1180.16,1221.91 L1180.29,1219.92 L1180.41,1217.93 L1180.54,1215.94 L1180.67,1213.95 L1180.81,1211.96 L1180.94,1209.97 L1181.07,1207.99 L1181.21,1206 L1181.34,1204.01 L1181.48,1202.02 L1181.61,1200.03 L1181.75,1198.04 L1181.89,1196.05 L1182.03,1194.06 L1182.17,1192.08 L1182.31,1190.09 L1182.45,1188.1 L1182.6,1186.11 L1182.74,1184.12 L1182.89,1182.13 L1183.03,1180.15 L1183.18,1178.16 L1183.33,1176.17 L1183.48,1174.18 L1183.63,1172.19 L1183.78,1170.21 L1183.93,1168.22 L1184.08,1166.23 L1184.24,1164.24 L1184.39,1162.26 L1184.55,1160.27 L1184.7,1158.28 L1184.86,1156.3 L1185.02,1154.31 L1185.18,1152.32 L1185.34,1150.33 L1185.51,1148.35 L1185.67,1146.36 L1185.83,1144.37 L1186,1142.39 L1186.17,1140.4 L1186.33,1138.42 L1186.5,1136.43 L1186.67,1134.44 L1186.84,1132.46 L1187.02,1130.47 L1187.19,1128.49 L1187.36,1126.5 L1187.54,1124.51 L1187.72,1122.53 L1187.9,1120.54 L1188.08,1118.56 L1188.26,1116.57 L1188.44,1114.59 L1188.62,1112.6 L1188.8,1110.62 L1188.99,1108.63 L1189.18,1106.65 L1189.36,1104.66 L1189.55,1102.68 L1189.74,1100.7 L1189.94,1098.71 L1190.13,1096.73 L1190.32,1094.74 L1190.52,1092.76 L1190.72,1090.78 L1190.91,1088.79 L1191.11,1086.81 L1191.32,1084.83 L1191.52,1082.84 L1191.72,1080.86 L1191.93,1078.88 L1192.13,1076.9 L1192.34,1074.91 L1192.55,1072.93 L1192.76,1070.95 L1192.97,1068.97 L1193.19,1066.99 L1193.4,1065 L1193.62,1063.02 L1193.84,1061.04 L1194.06,1059.06 L1194.28,1057.08 L1194.5,1055.1 L1194.72,1053.12 L1194.95,1051.14 L1195.18,1049.16 L1195.4,1047.18 L1195.63,1045.2 L1195.87,1043.22 L1196.1,1041.24 L1196.33,1039.26 L1196.57,1037.28 L1196.81,1035.3 L1197.05,1033.32 L1197.29,1031.34 L1197.53,1029.37 L1197.78,1027.39 L1198.03,1025.41 L1198.27,1023.43 L1198.52,1021.46 L1198.77,1019.48 L1199.03,1017.5 L1199.28,1015.52 L1199.54,1013.55 L1199.8,1011.57 L1200.06,1009.6 L1200.32,1007.62 L1200.59,1005.64 L1200.85,1003.67 L1201.12,1001.69 L1201.39,999.72 L1201.66,997.75 L1201.93,995.77 L1202.21,993.8 L1202.49,991.82 L1202.77,989.85 L1203.05,987.88 L1203.33,985.9 L1203.62,983.93 L1203.9,981.96 L1204.19,979.99 L1204.48,978.02 L1204.78,976.05 L1205.07,974.07 L1205.37,972.1 L1205.67,970.13 L1205.97,968.16 L1206.27,966.19 L1206.58,964.22 L1206.89,962.26 L1207.2,960.29 L1207.51,958.32 L1207.83,956.35 L1208.14,954.38 L1208.46,952.42 L1208.79,950.45 L1209.11,948.48 L1209.44,946.52 L1209.77,944.55 L1210.1,942.59 L1210.43,940.62 L1210.77,938.66 L1211.11,936.7 L1211.45,934.73 L1211.79,932.77 L1212.14,930.81 L1212.49,928.85 L1212.84,926.88 L1213.19,924.92 L1213.55,922.96 L1213.91,921 L1214.27,919.04 L1214.63,917.08 L1215,915.13 L1215.37,913.17 L1215.74,911.21 L1216.12,909.25 L1216.5,907.3 L1216.88,905.34 L1217.26,903.39 L1217.65,901.43 L1218.04,899.48 L1218.44,897.53 L1218.83,895.57 L1219.23,893.62 L1219.63,891.67 L1220.04,889.72 L1220.45,887.77 L1220.86,885.82 L1221.28,883.87 L1221.69,881.93 L1222.12,879.98 L1222.54,878.03 L1222.97,876.09 L1223.4,874.14 L1223.84,872.2 L1224.28,870.26 L1224.72,868.31 L1225.17,866.37 L1225.61,864.43 L1226.07,862.49 L1226.53,860.55 L1226.99,858.62 L1227.45,856.68 L1227.92,854.74 L1228.39,852.81 L1228.87,850.88 L1229.35,848.94 L1229.83,847.01 L1230.32,845.08 L1230.82,843.15 L1231.31,841.22 L1231.81,839.29 L1232.32,837.37 L1232.83,835.44 L1233.35,833.52 L1233.86,831.6 L1234.39,829.68 L1234.92,827.76 L1235.45,825.84 L1235.99,823.92 L1236.53,822.01 L1237.08,820.09 L1237.63,818.18 L1238.19,816.27 L1238.75,814.36 L1239.32,812.45 L1239.9,810.55 L1240.48,808.64 L1241.06,806.74 L1241.65,804.84 L1242.25,802.94 L1242.85,801.04 L1243.46,799.15 L1244.07,797.25 L1244.69,795.36 L1245.32,793.47 L1245.95,791.59 L1246.59,789.7 L1247.23,787.82 L1247.89,785.94 L1248.55,784.07 L1249.21,782.19 L1249.89,780.32 L1250.57,778.45 L1251.25,776.58 L1251.95,774.72 L1252.65,772.86 L1253.36,771 L1254.08,769.15 L1254.81,767.3 L1255.55,765.45 L1256.29,763.61 L1257.05,761.77 L1257.81,759.93 L1258.58,758.1 L1259.36,756.27 L1260.15,754.45 L1260.95,752.63 L1261.76,750.81 L1262.58,749.01 L1263.42,747.2 L1264.26,745.4 L1265.11,743.61 L1265.98,741.82 L1266.86,740.04 L1267.75,738.26 L1268.65,736.5 L1269.57,734.74 L1270.5,732.98 L1271.44,731.23 L1272.4,729.5 L1273.37,727.77 L1274.36,726.05 L1275.37,724.34 L1276.39,722.63 L1277.42,720.94 L1278.48,719.26 L1279.55,717.6 L1280.64,715.94 L1281.76,714.3 L1282.89,712.68 L1284.04,711.07 L1285.22,709.47 L1286.41,707.89 L1287.64,706.34 L1288.88,704.8 L1290.16,703.28 L1291.46,701.79 L1292.78,700.33 L1294.14,698.89 L1295.53,697.48 L1296.95,696.1 L1298.4,694.76 L1299.89,693.46 L1301.41,692.2 L1302.98,690.99 L1304.57,689.83 L1306.21,688.73 L1307.89,687.69 L1309.61,686.71 L1311.37,685.81 L1313.17,684.99 L1315.01,684.26 L1316.89,683.63 L1318.8,683.1 L1320.74,682.68 L1322.71,682.39 L1324.7,682.21 L1326.69,682.17 L1328.69,682.25 L1330.69,682.47 L1332.67,682.82 L1334.62,683.3 L1336.55,683.89 L1338.44,684.6 L1340.3,685.42 L1342.1,686.34 L1343.86,687.34 L1345.58,688.43 L1347.24,689.59 L1348.86,690.82 L1350.43,692.11 L1351.95,693.45 L1353.43,694.84 L1354.86,696.27 L1356.25,697.75 L1357.61,699.26 L1358.92,700.8 L1360.2,702.38 L1361.45,703.97 L1362.66,705.6 L1363.84,707.25 L1364.99,708.91 L1366.11,710.6 L1367.21,712.3 L1368.28,714.02 L1369.32,715.75 L1370.34,717.5 L1371.34,719.26 L1372.31,721.03 L1373.27,722.81 L1374.2,724.61 L1375.11,726.41 L1376.01,728.22 L1376.89,730.04 L1377.75,731.87 L1378.59,733.7 L1379.42,735.54 L1380.23,737.39 L1381.03,739.24 L1381.81,741.1 L1382.58,742.97 L1383.33,744.84 L1384.08,746.72 L1384.8,748.6 L1385.52,750.48 L1386.23,752.37 L1386.92,754.27 L1387.6,756.16 L1388.28,758.06 L1388.94,759.97 L1389.59,761.87 L1390.23,763.79 L1390.86,765.7 L1391.48,767.62 L1392.09,769.54 L1392.7,771.46 L1393.29,773.38 L1393.88,775.31 L1394.46,777.24 L1395.03,779.17 L1395.59,781.1 L1396.14,783.04 L1396.69,784.98 L1397.23,786.92 L1397.76,788.86 L1398.29,790.8 L1398.8,792.75 L1399.32,794.7 L1399.82,796.64 L1400.32,798.59 L1400.81,800.55 L1401.3,802.5 L1401.78,804.45 L1402.25,806.41 L1402.72,808.37 L1403.18,810.32 L1403.64,812.28 L1404.09,814.24 L1404.54,816.21 L1404.98,818.17 L1405.41,820.13 L1405.84,822.1 L1406.27,824.06 L1406.69,826.03 L1407.1,828 L1407.52,829.97 L1407.92,831.94 L1408.32,833.91 L1408.72,835.88 L1409.11,837.85 L1409.5,839.83 L1409.89,841.8 L1410.27,843.78 L1410.64,845.75 L1411.02,847.73 L1411.38,849.7 L1411.75,851.68 L1412.11,853.66 L1412.46,855.64 L1412.82,857.62 L1413.17,859.6 L1413.51,861.58 L1413.85,863.56 L1414.19,865.54 L1414.53,867.52 L1414.86,869.51 L1415.19,871.49 L1415.51,873.47 L1415.83,875.46 L1416.15,877.44 L1416.46,879.43 L1416.78,881.41 L1417.09,883.4 L1417.39,885.38 L1417.69,887.37 L1417.99,889.36 L1418.29,891.35 L1418.58,893.33 L1418.88,895.32 L1419.16,897.31 L1419.45,899.3 L1419.73,901.29 L1420.01,903.28 L1420.29,905.27 L1420.57,907.26 L1420.84,909.25 L1421.11,911.24 L1421.38,913.23 L1421.64,915.23 L1421.9,917.22 L1422.16,919.21 L1422.42,921.2 L1422.68,923.2 L1422.93,925.19 L1423.18,927.18 L1423.43,929.18 L1423.67,931.17 L1423.92,933.17 L1424.16,935.16 L1424.4,937.15 L1424.64,939.15 L1424.87,941.14 L1425.1,943.14 L1425.33,945.14 L1425.56,947.13 L1425.79,949.13 L1426.02,951.12 L1426.24,953.12 L1426.46,955.12 L1426.68,957.11 L1426.9,959.11 L1427.11,961.11 L1427.32,963.1 L1427.54,965.1 L1427.75,967.1 L1427.95,969.1 L1428.16,971.1 L1428.36,973.09 L1428.57,975.09 L1428.77,977.09 L1428.97,979.09 L1429.16,981.09 L1429.36,983.09 L1429.55,985.09 L1429.75,987.08 L1429.94,989.08 L1430.13,991.08 L1430.32,993.08 L1430.5,995.08 L1430.69,997.08 L1430.87,999.08 L1431.05,1001.08 L1431.23,1003.08 L1431.41,1005.08 L1431.59,1007.08 L1431.76,1009.08 L1431.94,1011.08 L1432.11,1013.09 L1432.28,1015.09 L1432.45,1017.09 L1432.62,1019.09 L1432.79,1021.09 L1432.95,1023.09 L1433.12,1025.09 L1433.28,1027.09 L1433.44,1029.1 L1433.6,1031.1 L1433.76,1033.1 L1433.92,1035.1 L1434.08,1037.1 L1434.23,1039.1 L1434.39,1041.11 L1434.54,1043.11 L1434.69,1045.11 L1434.85,1047.11 L1434.99,1049.11 L1435.14,1051.12 L1435.29,1053.12 L1435.44,1055.12 L1435.58,1057.12 L1435.73,1059.13 L1435.87,1061.13 L1436.01,1063.13 L1436.15,1065.14 L1436.29,1067.14 L1436.43,1069.14 L1436.57,1071.14 L1436.7,1073.15 L1436.84,1075.15 L1436.97,1077.15 L1437.1,1079.16 L1437.24,1081.16 L1437.37,1083.16 L1437.5,1085.17 L1437.63,1087.17 L1437.75,1089.17 L1437.88,1091.18 L1438.01,1093.18 L1438.13,1095.19 L1438.26,1097.19 L1438.38,1099.19 L1438.5,1101.2 L1438.63,1103.2 L1438.75,1105.2 L1438.87,1107.21 L1438.98,1109.21 L1439.1,1111.22 L1439.22,1113.22 L1439.34,1115.22 L1439.45,1117.23 L1439.57,1119.23 L1439.68,1121.24 L1439.79,1123.24 L1439.9,1125.24 L1440.02,1127.25 L1440.13,1129.25 L1440.24,1131.26 L1440.35,1133.26 L1440.45,1135.27 L1440.56,1137.27 L1440.67,1139.27 L1440.77,1141.28 L1440.88,1143.28 L1440.98,1145.29 L1441.09,1147.29 L1441.19,1149.3 L1441.29,1151.3 L1441.39,1153.31 L1441.49,1155.31 L1441.59,1157.31 L1441.69,1159.32 L1441.79,1161.32 L1441.89,1163.33 L1441.98,1165.33 L1442.08,1167.34 L1442.18,1169.34 L1442.27,1171.35 L1442.37,1173.35 L1442.46,1175.36 L1442.55,1177.36 L1442.65,1179.37 L1442.74,1181.37 L1442.83,1183.38 L1442.92,1185.38 L1443.01,1187.38 L1443.1,1189.39 L1443.19,1191.39 L1443.28,1193.4 L1443.36,1195.4 L1443.45,1197.41 L1443.54,1199.41 L1443.62,1201.42 L1443.71,1203.42 L1443.79,1205.43 L1443.88,1207.43 L1443.96,1209.44 L1444.05,1211.44 L1444.13,1213.45 L1444.21,1215.45 L1444.29,1217.46 L1444.37,1219.46 L1444.45,1221.47 L1444.53,1223.47 L1444.61,1225.48 L1444.69,1227.48 L1444.77,1229.49 L1444.85,1231.49 L1444.93,1233.49 L1445,1235.5 L1445.08,1237.5 L1445.16,1239.51 L1445.23,1241.51 L1445.31,1243.52 L1445.38,1245.52 L1445.45,1247.53 L1445.53,1249.53 L1445.6,1251.54 L1445.67,1253.54 L1445.75,1255.55 L1445.82,1257.55 L1445.89,1259.56 L1445.96,1261.56 L1446.03,1263.56 L1446.1,1265.57 L1446.17,1267.57 L1446.24,1269.58 L1446.31,1271.58 L1446.38,1273.59 L1446.45,1275.59 L1446.52,1277.6 L1446.59,1279.6 L1446.65,1281.6 L1446.72,1283.61 L1446.79,1285.61 L1446.85,1287.62 L1446.92,1289.62 L1446.98,1291.63 L1447.05,1293.63 L1447.11,1295.63 L1447.18,1297.64 L1447.24,1299.64 L1447.31,1301.65 L1447.37,1303.65 L1447.43,1305.65 L1447.5,1307.66 L1447.56,1309.66 L1447.62,1311.66 L1447.68,1313.67 L1447.74,1315.67 L1447.81,1317.68 L1447.87,1319.68 L1447.93,1321.68 L1447.99,1323.69 L1448.05,1325.69 L1448.11,1327.69 L1448.17,1329.7 L1448.23,1331.7 L1448.29,1333.7 L1448.35,1335.7 L1448.41,1337.71 L1448.47,1339.71 L1448.52,1341.71 L1448.58,1343.72 L1448.64,1345.72 L1448.7,1347.72 L1448.76,1349.72 L1448.81,1351.73 L1448.87,1353.73 L1448.93,1355.73 L1448.99,1357.73 L1449.04,1359.73 L1449.1,1361.74 L1449.16,1363.74 L1449.21,1365.74 L1449.27,1367.74 L1449.32,1369.74 L1449.38,1371.74 L1449.44,1373.74 L1449.49,1375.75 L1449.55,1377.75 L1449.6,1379.75 L1449.66,1381.75 L1449.71,1383.75 L1449.77,1385.75 L1449.83,1387.75 L1449.88,1389.75 L1449.94,1391.75 L1449.99,1393.75 L1450.05,1395.75 L1450.1,1397.74 L1450.16,1399.74 L1450.21,1401.74 L1450.27,1403.74 L1450.32,1405.74 L1450.38,1407.73 L1450.44,1409.73 L1450.49,1411.73 L1450.55,1413.72 L1450.6,1415.72 L1450.66,1417.72 L1450.72,1419.71 L1450.77,1421.71 L1450.83,1423.7 L1450.89,1425.7 L1450.94,1427.69 L1451,1429.68 L1451.06,1431.67 L1451.12,1433.67 L1451.18,1435.66 L1451.24,1437.65 L1451.3,1439.64 L1451.36,1441.63 L1451.42,1443.61 L1451.48,1445.6 L1451.54,1447.59 L1451.61,1449.57 L1451.67,1451.55 L1451.74,1453.53 L1451.81,1455.51 L1451.87,1457.49 L1451.94,1459.47 L1452.02,1461.44 L1452.09,1463.41 L1452.16,1465.38 L1452.24,1467.34 L1452.32,1469.3 L1452.41,1471.25 L1452.5,1473.19 L1452.59,1475.13 L1452.69,1477.05 L1452.8,1478.96 L1452.92,1480.84 L1453.05,1482.69 L1453.21,1484.46 L1453.41,1486.06 L1453.74,1487 L1455.63,1455.47 L1455.69,1453.45 L1455.76,1451.44 L1455.83,1449.42 L1455.89,1447.41 L1455.95,1445.39 L1456.01,1443.38 L1456.07,1441.37 L1456.13,1439.36 L1456.19,1437.35 L1456.25,1435.34 L1456.31,1433.33 L1456.37,1431.32 L1456.43,1429.32 L1456.48,1427.31 L1456.54,1425.31 L1456.6,1423.3 L1456.65,1421.3 L1456.71,1419.29 L1456.76,1417.29 L1456.82,1415.29 L1456.87,1413.28 L1456.93,1411.28 L1456.98,1409.28 L1457.04,1407.28 L1457.09,1405.28 L1457.15,1403.27 L1457.2,1401.27 L1457.25,1399.27 L1457.31,1397.27 L1457.36,1395.27 L1457.42,1393.27 L1457.47,1391.27 L1457.52,1389.27 L1457.58,1387.27 L1457.63,1385.27 L1457.68,1383.28 L1457.74,1381.28 L1457.79,1379.28 L1457.85,1377.28 L1457.9,1375.28 L1457.95,1373.28 L1458.01,1371.29 L1458.06,1369.29 L1458.12,1367.29 L1458.17,1365.29 L1458.23,1363.3 L1458.28,1361.3 L1458.33,1359.3 L1458.39,1357.3 L1458.44,1355.31 L1458.5,1353.31 L1458.55,1351.31 L1458.61,1349.32 L1458.66,1347.32 L1458.72,1345.33 L1458.78,1343.33 L1458.83,1341.33 L1458.89,1339.34 L1458.94,1337.34 L1459,1335.35 L1459.06,1333.35 L1459.11,1331.35 L1459.17,1329.36 L1459.23,1327.36 L1459.29,1325.37 L1459.34,1323.37 L1459.4,1321.38 L1459.46,1319.38 L1459.52,1317.39 L1459.58,1315.39 L1459.64,1313.4 L1459.7,1311.4 L1459.75,1309.41 L1459.81,1307.41 L1459.87,1305.42 L1459.93,1303.42 L1459.99,1301.43 L1460.06,1299.43 L1460.12,1297.44 L1460.18,1295.44 L1460.24,1293.45 L1460.3,1291.45 L1460.36,1289.46 L1460.42,1287.47 L1460.49,1285.47 L1460.55,1283.48 L1460.61,1281.48 L1460.68,1279.49 L1460.74,1277.49 L1460.81,1275.5 L1460.87,1273.51 L1460.93,1271.51 L1461,1269.52 L1461.07,1267.53 L1461.13,1265.53 L1461.2,1263.54 L1461.26,1261.54 L1461.33,1259.55 L1461.4,1257.56 L1461.47,1255.56 L1461.53,1253.57 L1461.6,1251.58 L1461.67,1249.58 L1461.74,1247.59 L1461.81,1245.6 L1461.88,1243.6 L1461.95,1241.61 L1462.02,1239.62 L1462.09,1237.62 L1462.16,1235.63 L1462.23,1233.64 L1462.3,1231.64 L1462.38,1229.65 L1462.45,1227.66 L1462.52,1225.67 L1462.6,1223.67 L1462.67,1221.68 L1462.75,1219.69 L1462.82,1217.69 L1462.9,1215.7 L1462.97,1213.71 L1463.05,1211.72 L1463.13,1209.72 L1463.2,1207.73 L1463.28,1205.74 L1463.36,1203.75 L1463.44,1201.75 L1463.52,1199.76 L1463.6,1197.77 L1463.68,1195.78 L1463.76,1193.78 L1463.84,1191.79 L1463.92,1189.8 L1464,1187.81 L1464.08,1185.81 L1464.17,1183.82 L1464.25,1181.83 L1464.34,1179.84 L1464.42,1177.85 L1464.51,1175.85 L1464.59,1173.86 L1464.68,1171.87 L1464.76,1169.88 L1464.85,1167.89 L1464.94,1165.89 L1465.03,1163.9 L1465.12,1161.91 L1465.21,1159.92 L1465.3,1157.93 L1465.39,1155.94 L1465.48,1153.94 L1465.57,1151.95 L1465.66,1149.96 L1465.75,1147.97 L1465.85,1145.98 L1465.94,1143.99 L1466.04,1141.99 L1466.13,1140 L1466.23,1138.01 L1466.32,1136.02 L1466.42,1134.03 L1466.52,1132.04 L1466.62,1130.05 L1466.72,1128.06 L1466.82,1126.06 L1466.92,1124.07 L1467.02,1122.08 L1467.12,1120.09 L1467.22,1118.1 L1467.32,1116.11 L1467.43,1114.12 L1467.53,1112.13 L1467.64,1110.14 L1467.74,1108.15 L1467.85,1106.16 L1467.96,1104.17 L1468.06,1102.18 L1468.17,1100.18 L1468.28,1098.19 L1468.39,1096.2 L1468.5,1094.21 L1468.61,1092.22 L1468.72,1090.23 L1468.84,1088.24 L1468.95,1086.25 L1469.07,1084.26 L1469.18,1082.27 L1469.3,1080.28 L1469.41,1078.29 L1469.53,1076.3 L1469.65,1074.31 L1469.77,1072.32 L1469.89,1070.33 L1470.01,1068.34 L1470.13,1066.35 L1470.25,1064.37 L1470.37,1062.38 L1470.5,1060.39 L1470.62,1058.4 L1470.75,1056.41 L1470.88,1054.42 L1471,1052.43 L1471.13,1050.44 L1471.26,1048.45 L1471.39,1046.46 L1471.52,1044.47 L1471.65,1042.48 L1471.78,1040.5 L1471.92,1038.51 L1472.05,1036.52 L1472.19,1034.53 L1472.32,1032.54 L1472.46,1030.55 L1472.6,1028.56 L1472.74,1026.58 L1472.88,1024.59 L1473.02,1022.6 L1473.16,1020.61 L1473.31,1018.62 L1473.45,1016.64 L1473.59,1014.65 L1473.74,1012.66 L1473.89,1010.67 L1474.04,1008.69 L1474.18,1006.7 L1474.33,1004.71 L1474.49,1002.72 L1474.64,1000.74 L1474.79,998.75 L1474.95,996.76 L1475.1,994.78 L1475.26,992.79 L1475.42,990.8 L1475.57,988.82 L1475.73,986.83 L1475.9,984.84 L1476.06,982.86 L1476.22,980.87 L1476.39,978.88 L1476.55,976.9 L1476.72,974.91 L1476.89,972.93 L1477.06,970.94 L1477.23,968.96 L1477.4,966.97 L1477.57,964.98 L1477.75,963 L1477.92,961.01 L1478.1,959.03 L1478.28,957.04 L1478.46,955.06 L1478.64,953.08 L1478.82,951.09 L1479,949.11 L1479.19,947.12 L1479.37,945.14 L1479.56,943.16 L1479.75,941.17 L1479.94,939.19 L1480.13,937.2 L1480.32,935.22 L1480.52,933.24 L1480.71,931.26 L1480.91,929.27 L1481.11,927.29 L1481.31,925.31 L1481.51,923.33 L1481.72,921.34 L1481.92,919.36 L1482.13,917.38 L1482.34,915.4 L1482.55,913.42 L1482.76,911.44 L1482.97,909.45 L1483.18,907.47 L1483.4,905.49 L1483.62,903.51 L1483.84,901.53 L1484.06,899.55 L1484.28,897.57 L1484.51,895.59 L1484.73,893.61 L1484.96,891.64 L1485.19,889.66 L1485.42,887.68 L1485.66,885.7 L1485.89,883.72 L1486.13,881.74 L1486.37,879.77 L1486.61,877.79 L1486.85,875.81 L1487.1,873.84 L1487.35,871.86 L1487.6,869.88 L1487.85,867.91 L1488.1,865.93 L1488.36,863.96 L1488.61,861.98 L1488.87,860.01 L1489.14,858.03 L1489.4,856.06 L1489.67,854.08 L1489.93,852.11 L1490.21,850.14 L1490.48,848.17 L1490.76,846.19 L1491.03,844.22 L1491.31,842.25 L1491.6,840.28 L1491.88,838.31 L1492.17,836.34 L1492.46,834.37 L1492.75,832.4 L1493.05,830.43 L1493.35,828.46 L1493.65,826.5 L1493.95,824.53 L1494.26,822.56 L1494.57,820.59 L1494.88,818.63 L1495.2,816.66 L1495.52,814.7 L1495.84,812.73 L1496.17,810.77 L1496.5,808.81 L1496.83,806.85 L1497.16,804.88 L1497.5,802.92 L1497.84,800.96 L1498.19,799 L1498.54,797.05 L1498.89,795.09 L1499.25,793.13 L1499.61,791.17 L1499.97,789.22 L1500.34,787.26 L1500.71,785.31 L1501.09,783.36 L1501.47,781.41 L1501.85,779.46 L1502.24,777.51 L1502.64,775.56 L1503.04,773.61 L1503.44,771.66 L1503.85,769.72 L1504.26,767.77 L1504.68,765.83 L1505.11,763.89 L1505.54,761.95 L1505.97,760.01 L1506.42,758.08 L1506.87,756.14 L1507.32,754.21 L1507.78,752.28 L1508.25,750.35 L1508.73,748.43 L1509.21,746.5 L1509.7,744.58 L1510.2,742.66 L1510.71,740.74 L1511.23,738.83 L1511.75,736.92 L1512.29,735.01 L1512.83,733.11 L1513.39,731.21 L1513.96,729.31 L1514.54,727.42 L1515.13,725.53 L1515.73,723.65 L1516.35,721.77 L1516.99,719.9 L1517.64,718.04 L1518.31,716.18 L1519,714.34 L1519.71,712.5 L1520.44,710.68 L1521.2,708.86 L1521.98,707.07 L1522.8,705.29 L1523.65,703.52 L1524.54,701.79 L1525.48,700.08 L1526.47,698.41 L1527.52,696.79 L1528.64,695.23 L1529.86,693.75 L1531.19,692.39 L1532.67,691.21 L1534.32,690.3 L1536.16,689.84 L1538.16,690.01 L1540.08,690.91 L1541.75,692.3 L1543.16,693.95 L1544.36,695.72 L1545.41,697.57 L1546.34,699.45 L1547.18,701.36 L1547.96,703.3 L1548.67,705.24 L1549.34,707.2 L1549.96,709.16 L1550.55,711.13 L1551.11,713.11 L1551.64,715.09 L1552.14,717.08 L1552.62,719.06 L1553.08,721.05 L1553.52,723.04 L1553.94,725.04 L1554.35,727.03 L1554.74,729.03 L1555.12,731.03 L1555.49,733.03 L1555.85,735.03 L1556.19,737.03 L1556.53,739.03 L1556.85,741.03 L1557.17,743.04 L1557.47,745.04 L1557.77,747.04 L1558.06,749.05 L1558.35,751.05 L1558.63,753.06 L1558.9,755.06 L1559.16,757.07 L1559.42,759.08 L1559.67,761.08 L1559.92,763.09 L1560.16,765.1 L1560.4,767.1 L1560.63,769.11 L1560.86,771.12 L1561.08,773.13 L1561.3,775.13 L1561.51,777.14 L1561.72,779.15 L1561.93,781.16 L1562.13,783.17 L1562.33,785.17 L1562.52,787.18 L1562.71,789.19 L1562.9,791.2 L1563.09,793.21 L1563.27,795.22 L1563.45,797.22 L1563.62,799.23 L1563.8,801.24 L1563.97,803.25 L1564.13,805.26 L1564.3,807.27 L1564.46,809.28 L1564.62,811.28 L1564.78,813.29 L1564.94,815.3 L1565.09,817.31 L1565.24,819.32 L1565.39,821.33 L1565.54,823.34 L1565.68,825.35 L1565.82,827.35 L1565.96,829.36 L1566.1,831.37 L1566.24,833.38 L1566.38,835.39 L1566.51,837.4 L1566.64,839.41 L1566.77,841.41 L1566.9,843.42 L1567.03,845.43 L1567.15,847.44 L1567.28,849.45 L1567.4,851.46 L1567.52,853.47 L1567.64,855.47 L1567.76,857.48 L1567.87,859.49 L1567.99,861.5 L1568.1,863.51 L1568.21,865.51 L1568.33,867.52 L1568.44,869.53 L1568.55,871.54 L1568.65,873.55 L1568.76,875.55 L1568.87,877.56 L1568.97,879.57 L1569.07,881.58 L1569.18,883.59 L1569.28,885.59 L1569.38,887.6 L1569.48,889.61 L1569.57,891.62 L1569.67,893.62 L1569.77,895.63 L1569.86,897.64 L1569.96,899.64 L1570.05,901.65 L1570.14,903.66 L1570.24,905.67 L1570.33,907.67 L1570.42,909.68 L1570.51,911.69 L1570.6,913.69 L1570.68,915.7 L1570.77,917.71 L1570.86,919.71 L1570.94,921.72 L1571.03,923.72 L1571.11,925.73 L1571.2,927.74 L1571.28,929.74 L1571.36,931.75 L1571.44,933.75 L1571.53,935.76 L1571.61,937.77 L1571.69,939.77 L1571.77,941.78 L1571.84,943.78 L1571.92,945.79 L1572,947.79 L1572.08,949.8 L1572.15,951.8 L1572.23,953.81 L1572.31,955.81 L1572.38,957.82 L1572.46,959.82 L1572.53,961.82 L1572.61,963.83 L1572.68,965.83 L1572.75,967.83 L1572.83,969.84 L1572.9,971.84 L1572.97,973.84 L1573.04,975.85 L1573.12,977.85 L1573.19,979.85 L1573.26,981.85 L1573.33,983.86 L1573.4,985.86 L1573.47,987.86 L1573.54,989.86 L1573.61,991.86 L1573.68,993.86 L1573.75,995.86 L1573.82,997.86 L1573.89,999.86 L1573.96,1001.86 L1574.03,1003.86 L1574.1,1005.86 L1574.17,1007.86 L1574.24,1009.86 L1574.31,1011.86 L1574.38,1013.85 L1574.45,1015.85 L1574.52,1017.85 L1574.59,1019.84 L1574.66,1021.84 L1574.73,1023.83 L1574.8,1025.82 L1574.87,1027.82 L1574.95,1029.81 L1575.02,1031.8 L1575.09,1033.79 L1575.16,1035.78 L1575.24,1037.77 L1575.31,1039.75 L1575.39,1041.74 L1575.47,1043.72 L1575.55,1045.7 L1575.63,1047.68 L1575.71,1049.66 L1575.79,1051.64 L1575.87,1053.61 L1575.96,1055.58 L1576.05,1057.54 L1576.14,1059.5 L1576.24,1061.45 L1576.34,1063.4 L1576.45,1065.33 L1576.56,1067.25 L1576.69,1069.15 L1576.83,1071.02 L1576.98,1072.84 L1577.17,1074.56 L1577.44,1075.97 L1578.04,1074.69 L1578.31,1072.08 L1578.47,1069.85 L1578.6,1067.71 L1578.72,1065.6 L1578.82,1063.52 L1578.92,1061.45 L1579,1059.39 L1579.09,1057.34 L1579.17,1055.3 L1579.25,1053.26 L1579.32,1051.22 L1579.39,1049.19 L1579.46,1047.16 L1579.53,1045.14 L1579.59,1043.12 L1579.65,1041.09 L1579.72,1039.07 L1579.78,1037.06 L1579.84,1035.04 L1579.9,1033.02 L1579.95,1031.01 L1580.01,1029 L1580.07,1026.98 L1580.12,1024.97 L1580.18,1022.96 L1580.23,1020.95 L1580.29,1018.94 L1580.34,1016.93 L1580.39,1014.93 L1580.44,1012.92 L1580.5,1010.91 L1580.55,1008.91 L1580.6,1006.9 L1580.65,1004.89 L1580.7,1002.89 L1580.75,1000.88 L1580.8,998.88 L1580.85,996.88 L1580.9,994.87 L1580.95,992.87 L1581,990.86 L1581.05,988.86 L1581.1,986.86 L1581.14,984.86 L1581.19,982.85 L1581.24,980.85 L1581.29,978.85 L1581.34,976.85 L1581.38,974.85 L1581.43,972.85 L1581.48,970.85 L1581.53,968.84 L1581.57,966.84 L1581.62,964.84 L1581.67,962.84 L1581.72,960.84 L1581.76,958.84 L1581.81,956.84 L1581.86,954.84 L1581.91,952.84 L1581.95,950.84 L1582,948.84 L1582.05,946.85 L1582.1,944.85 L1582.14,942.85 L1582.19,940.85 L1582.24,938.85 L1582.29,936.85 L1582.33,934.85 L1582.38,932.85 L1582.43,930.86 L1582.48,928.86 L1582.52,926.86 L1582.57,924.86 L1582.62,922.86 L1582.67,920.86 L1582.71,918.87 L1582.76,916.87 L1582.81,914.87 L1582.86,912.87 L1582.91,910.87 L1582.96,908.88 L1583,906.88 L1583.05,904.88 L1583.1,902.88 L1583.15,900.89 L1583.2,898.89 L1583.25,896.89 L1583.3,894.9 L1583.34,892.9 L1583.39,890.9 L1583.44,888.9 L1583.49,886.91 L1583.54,884.91 L1583.59,882.91 L1583.64,880.92 L1583.69,878.92 L1583.74,876.92 L1583.79,874.93 L1583.84,872.93 L1583.89,870.93 L1583.94,868.94 L1583.99,866.94 L1584.04,864.94 L1584.09,862.95 L1584.15,860.95 L1584.2,858.95 L1584.25,856.96 L1584.3,854.96 L1584.35,852.96 L1584.4,850.97 L1584.45,848.97 L1584.51,846.97 L1584.56,844.98 L1584.61,842.98 L1584.66,840.99 L1584.72,838.99 L1584.77,836.99 L1584.82,835 L1584.88,833 L1584.93,831 L1584.98,829.01 L1585.04,827.01 L1585.09,825.02 L1585.14,823.02 L1585.2,821.02 L1585.25,819.03 L1585.31,817.03 L1585.36,815.04 L1585.42,813.04 L1585.47,811.04 L1585.53,809.05 L1585.58,807.05 L1585.64,805.06 L1585.7,803.06 L1585.75,801.06 L1585.81,799.07 L1585.86,797.07 L1585.92,795.08 L1585.98,793.08 L1586.03,791.09 L1586.09,789.09 L1586.15,787.09 L1586.21,785.1 L1586.26,783.1 L1586.32,781.11 L1586.38,779.11 L1586.44,777.12 L1586.5,775.12 L1586.56,773.12 L1586.62,771.13 L1586.67,769.13 L1586.73,767.14 L1586.79,765.14 L1586.85,763.15 L1586.91,761.15 L1586.97,759.16 L1587.03,757.16 L1587.1,755.16 L1587.16,753.17 L1587.22,751.17 L1587.28,749.18 L1587.34,747.18 L1587.4,745.19 L1587.46,743.19 L1587.53,741.2 L1587.59,739.2 L1587.65,737.2 L1587.71,735.21 L1587.78,733.21 L1587.84,731.22 L1587.9,729.22 L1587.97,727.23 L1588.03,725.23 L1588.1,723.24 L1588.16,721.24 L1588.23,719.25 L1588.29,717.25 L1588.36,715.25 L1588.42,713.26 L1588.49,711.26 L1588.55,709.27 L1588.62,707.27 L1588.68,705.28 L1588.75,703.28 L1588.82,701.29 L1588.89,699.29 L1588.95,697.3 L1589.02,695.3 L1589.09,693.31 L1589.16,691.31 L1589.22,689.31 L1589.29,687.32 L1589.36,685.32 L1589.43,683.33 L1589.5,681.33 L1589.57,679.34 L1589.64,677.34 L1589.71,675.35 L1589.78,673.35 L1589.85,671.36 L1589.92,669.36 L1589.99,667.37 L1590.06,665.37 L1590.13,663.38 L1590.2,661.38 L1590.28,659.39 L1590.35,657.39 L1590.42,655.39 L1590.49,653.4 L1590.57,651.4 L1590.64,649.41 L1590.71,647.41 L1590.79,645.42 L1590.86,643.42 L1590.93,641.43 L1591.01,639.43 L1591.08,637.44 L1591.16,635.44 L1591.23,633.45 L1591.31,631.45 L1591.38,629.46 L1591.46,627.46 L1591.53,625.47 L1591.61,623.47 L1591.69,621.48 L1591.76,619.48 L1591.84,617.48 L1591.92,615.49 L1592,613.49 L1592.07,611.5 L1592.15,609.5 L1592.23,607.51 L1592.31,605.51 L1592.39,603.52 L1592.47,601.52 L1592.55,599.53 L1592.63,597.53 L1592.71,595.54 L1592.79,593.54 L1592.87,591.55 L1592.95,589.55 L1593.03,587.56 L1593.11,585.56 L1593.19,583.57 L1593.27,581.57 L1593.35,579.58 L1593.44,577.58 L1593.52,575.59 L1593.6,573.59 L1593.68,571.59 L1593.77,569.6 L1593.85,567.6 L1593.94,565.61 L1594.02,563.61 L1594.1,561.62 L1594.19,559.62 L1594.27,557.63 L1594.36,555.63 L1594.44,553.64 L1594.53,551.64 L1594.61,549.65 L1594.7,547.65 L1594.79,545.66 L1594.87,543.66 L1594.96,541.67 L1595.05,539.67 L1595.13,537.68 L1595.22,535.68 L1595.31,533.69 L1595.4,531.69 L1595.49,529.7 L1595.57,527.7 L1595.66,525.71 L1595.75,523.71 L1595.84,521.71 L1595.93,519.72 L1596.02,517.72 L1596.11,515.73 L1596.2,513.73 L1596.29,511.74 L1596.38,509.74 L1596.47,507.75 L1596.56,505.75 L1596.66,503.76 L1596.75,501.76 L1596.84,499.77 L1596.93,497.77 L1597.02,495.78 L1597.12,493.78 L1597.21,491.79 L1597.3,489.79 L1597.4,487.8 L1597.49,485.8 L1597.59,483.81 L1597.68,481.81 L1597.77,479.82 L1597.87,477.82 L1597.96,475.83 L1598.06,473.83 L1598.15,471.84 L1598.25,469.84 L1598.35,467.85 L1598.44,465.85 L1598.54,463.85 L1598.64,461.86 L1598.73,459.86 L1598.83,457.87 L1598.93,455.87 L1599.03,453.88 L1599.12,451.88 L1599.22,449.89 L1599.32,447.89 L1599.42,445.9 L1599.52,443.9 L1599.62,441.91 L1599.72,439.91 L1599.82,437.92 L1599.91,435.92 L1600,434.23 L1600,434.23 L1600.11,432.23 L1600.22,430.23 L1600.32,428.23 L1600.43,426.23 L1600.54,424.24 L1600.65,422.24 L1600.77,420.24 L1600.88,418.25 L1601,416.25 L1601.11,414.25 L1601.23,412.26 L1601.36,410.26 L1601.48,408.26 L1601.6,406.27 L1601.73,404.27 L1601.86,402.28 L1601.99,400.28 L1602.12,398.29 L1602.26,396.29 L1602.39,394.3 L1602.53,392.31 L1602.68,390.31 L1602.82,388.32 L1602.97,386.33 L1603.12,384.34 L1603.27,382.34 L1603.42,380.35 L1603.58,378.36 L1603.74,376.37 L1603.9,374.38 L1604.07,372.39 L1604.24,370.4 L1604.41,368.41 L1604.59,366.42 L1604.76,364.44 L1604.94,362.45 L1605.13,360.46 L1605.32,358.47 L1605.51,356.49 L1605.7,354.5 L1605.9,352.52 L1606.1,350.53 L1606.31,348.55 L1606.52,346.56 L1606.73,344.58 L1606.95,342.59 L1607.18,340.61 L1607.4,338.62 L1607.63,336.64 L1607.87,334.65 L1608.11,332.67 L1608.35,330.68 L1608.6,328.69 L1608.86,326.71 L1609.12,324.72 L1609.38,322.73 L1609.65,320.75 L1609.92,318.76 L1610.2,316.77 L1610.49,314.78 L1610.78,312.79 L1611.07,310.8 L1611.38,308.81 L1611.68,306.82 L1612,304.82 L1612.32,302.83 L1612.64,300.83 L1612.97,298.84 L1613.31,296.84 L1613.66,294.84 L1614.01,292.84 L1614.37,290.84 L1614.74,288.85 L1615.12,286.85 L1615.52,284.87 L1615.94,282.88 L1616.38,280.91 L1616.84,278.94 L1617.33,276.99 L1617.85,275.04 L1618.4,273.11 L1618.98,271.2 L1619.6,269.3 L1620.25,267.42 L1620.94,265.56 L1621.68,263.72 L1622.46,261.9 L1623.29,260.1 L1624.17,258.33 L1625.1,256.59 L1626.08,254.87 L1627.13,253.19 L1628.23,251.53 L1629.39,249.91 L1630.63,248.36 L1631.95,246.89 L1633.36,245.54 L1634.87,244.32 L1636.5,243.28 L1638.24,242.43 L1640.09,241.78 L1642.03,241.29 L1644.01,240.94 L1646.01,240.7 L1648.02,240.54 L1650.03,240.45 L1652.04,240.45 L1654.05,240.5 L1656.07,240.61 L1658.09,240.78 L1660.11,240.98 L1662.13,241.22 L1664.15,241.48 L1666.18,241.77 L1668.2,242.07 L1670.22,242.37 L1672.24,242.67 L1674.26,242.95 L1676.28,243.23 L1678.3,243.48 L1680.31,243.71 L1682.32,243.92 L1684.34,244.11 L1686.35,244.29 L1688.36,244.45 L1690.36,244.59 L1692.37,244.71 L1694.37,244.82 L1696.38,244.92 L1698.38,245 L1700.38,245.07 L1702.38,245.13 L1704.38,245.18 L1706.38,245.21 L1708.38,245.23 L1710.37,245.25 L1712.37,245.25 L1714.37,245.25 L1716.36,245.23 L1718.36,245.22 L1720.35,245.19 L1722.34,245.16 L1724.34,245.12 L1726.33,245.08 L1728.32,245.03 L1730.32,244.98 L1732.31,244.93 L1734.3,244.88 L1736.3,244.82 L1738.29,244.77 L1740.28,244.71 L1742.28,244.66 L1744.27,244.6 L1746.26,244.55 L1748.26,244.5 L1750.25,244.45 L1752.25,244.41 L1754.25,244.37 L1756.24,244.34 L1758.24,244.3 L1760.24,244.28 L1762.24,244.25 L1764.24,244.23 L1766.23,244.21 L1768.23,244.2 L1770.23,244.18 L1772.23,244.17 L1774.24,244.17 L1776.24,244.16 L1778.24,244.16 L1780.24,244.16 L1782.24,244.17 L1784.24,244.17 L1786.25,244.18 L1788.25,244.19 L1790.25,244.2 L1792.25,244.22 L1794.26,244.23 L1796.26,244.25 L1798.26,244.27 L1800.27,244.29 L1802.27,244.31 L1804.27,244.34 L1806.27,244.36 L1808.28,244.39 L1810.28,244.42 L1812.28,244.45 L1814.29,244.48 L1816.29,244.51 L1818.29,244.54 L1820.29,244.57 L1822.3,244.61 L1824.3,244.64 L1826.3,244.67 L1828.3,244.71 L1830.3,244.74 L1832.3,244.78 L1834.31,244.81 L1836.31,244.85 L1838.31,244.89 L1840.31,244.93 L1842.31,244.97 L1844.31,245.01 L1846.31,245.05 L1848.31,245.1 L1850.31,245.14 L1852.31,245.19 L1854.31,245.24 L1856.31,245.29 L1858.31,245.34 L1860.31,245.4 L1862.31,245.45 L1864.31,245.51 L1866.3,245.57 L1868.3,245.64 L1870.3,245.7 L1872.3,245.77 L1874.3,245.84 L1876.3,245.92 L1878.3,245.99 L1880.3,246.07 L1882.3,246.15 L1884.3,246.24 L1886.3,246.33 L1888.3,246.42 L1890.3,246.52 L1892.3,246.61 L1894.3,246.72 L1896.3,246.82 L1898.31,246.93 L1900.31,247.04 L1902.31,247.16 L1904.31,247.28 L1906.31,247.41 L1908.31,247.54 L1910.31,247.68 L1912.31,247.83 L1914.31,247.98 L1916.31,248.14 L1918.31,248.31 L1920.3,248.48 L1922.3,248.67 L1924.29,248.87 L1926.28,249.07 L1928.27,249.29 L1930.26,249.52 L1932.24,249.76 L1934.22,250.01 L1936.2,250.28 L1938.18,250.56 L1940.16,250.85 L1942.13,251.16 L1944.1,251.48 L1946.06,251.82 L1948.02,252.18 L1949.98,252.55 L1951.94,252.94 L1953.89,253.34 L1955.84,253.77 L1957.78,254.21 L1959.72,254.67 L1961.65,255.16 L1963.58,255.66 L1965.5,256.18 L1967.42,256.73 L1969.33,257.3 L1971.24,257.89 L1973.15,258.5 L1975.04,259.14 L1976.94,259.8 L1978.82,260.48 L1980.7,261.19 L1982.57,261.93 L1984.44,262.68 L1986.29,263.47 L1988.14,264.28 L1989.98,265.11 L1991.81,265.97 L1993.63,266.85 L1995.43,267.75 L1997.23,268.68 L1999.01,269.64 L2000.78,270.61 L2002.54,271.62 L2004.28,272.64 L2006.01,273.69 L2007.72,274.76 L2009.41,275.86 L2011.09,276.98 L2012.75,278.12 L2014.4,279.29 L2016.02,280.48 L2017.63,281.69 L2019.21,282.93 L2020.78,284.18 L2022.32,285.47 L2023.85,286.77 L2025.35,288.1 L2026.83,289.45 L2028.28,290.82 L2029.71,292.22 L2031.12,293.63 L2032.5,295.07 L2033.85,296.53 L2035.18,298.02 L2036.49,299.53 L2037.76,301.05 L2039,302.6 L2040.22,304.18 L2041.41,305.77 L2042.57,307.39 L2043.69,309.02 L2044.79,310.68 L2045.86,312.36 L2046.9,314.05 L2047.91,315.77 L2048.9,317.5 L2049.87,319.25 L2050.8,321.01 L2051.72,322.79 L2052.61,324.58 L2053.48,326.38 L2054.33,328.2 L2055.16,330.03 L2055.97,331.86 L2056.76,333.71 L2057.53,335.57 L2058.29,337.43 L2059.03,339.3 L2059.76,341.18 L2060.47,343.06 L2061.16,344.95 L2061.85,346.84 L2062.52,348.73 L2063.18,350.63 L2063.83,352.53 L2064.47,354.43 L2065.1,356.33 L2065.71,358.24 L2066.32,360.15 L2066.91,362.07 L2067.49,363.98 L2068.07,365.9 L2068.63,367.82 L2069.18,369.74 L2069.73,371.67 L2070.26,373.6 L2070.78,375.53 L2071.3,377.46 L2071.8,379.4 L2072.3,381.33 L2072.78,383.27 L2073.26,385.22 L2073.73,387.16 L2074.19,389.1 L2074.65,391.05 L2075.09,393 L2075.53,394.95 L2075.96,396.9 L2076.38,398.86 L2076.8,400.82 L2077.21,402.77 L2077.61,404.73 L2078.01,406.69 L2078.4,408.66 L2078.78,410.62 L2079.15,412.58 L2079.53,414.55 L2079.89,416.52 L2080.25,418.49 L2080.6,420.45 L2080.95,422.43 L2081.3,424.4 L2081.63,426.37 L2081.97,428.34 L2082.3,430.32 L2082.62,432.29 L2082.95,434.27 L2083.26,436.25 L2083.58,438.22 L2083.89,440.2 L2084.19,442.18 L2084.5,444.16 L2084.8,446.14 L2085.09,448.12 L2085.39,450.1 L2085.68,452.08 L2085.97,454.06 L2086.26,456.04 L2086.54,458.02 L2086.83,460 L2087.11,461.98 L2087.39,463.96 L2087.66,465.95 L2087.93,467.93 L2088.2,469.91 L2088.47,471.89 L2088.74,473.88 L2089,475.86 L2089.26,477.84 L2089.52,479.83 L2089.77,481.81 L2090.02,483.8 L2090.27,485.78 L2090.51,487.77 L2090.75,489.75 L2090.99,491.74 L2091.22,493.73 L2091.46,495.71 L2091.68,497.7 L2091.91,499.69 L2092.13,501.68 L2092.35,503.67 L2092.56,505.66 L2092.77,507.65 L2092.98,509.64 L2093.18,511.63 L2093.38,513.62 L2093.57,515.61 L2093.76,517.6 L2093.95,519.6 L2094.13,521.59 L2094.31,523.58 L2094.49,525.58 L2094.66,527.57 L2094.82,529.57 L2094.98,531.56 L2095.14,533.56 L2095.29,535.55 L2095.44,537.55 L2095.59,539.54 L2095.73,541.54 L2095.86,543.54 L2095.99,545.53 L2096.12,547.53 L2096.24,549.53 L2096.36,551.53 L2096.47,553.52 L2096.59,555.52 L2096.69,557.52 L2096.8,559.52 L2096.9,561.52 L2096.99,563.52 L2097.09,565.51 L2097.18,567.51 L2097.27,569.51 L2097.36,571.51 L2097.44,573.51 L2097.52,575.51 L2097.6,577.51 L2097.68,579.51 L2097.75,581.51 L2097.83,583.51 L2097.9,585.51 L2097.97,587.51 L2098.04,589.51 L2098.1,591.51 L2098.17,593.51 L2098.24,595.51 L2098.3,597.51 L2098.37,599.51 L2098.43,601.51 L2098.49,603.51 L2098.56,605.51 L2098.62,607.51 L2098.68,609.51 L2098.75,611.51 L2098.81,613.51 L2098.88,615.51 L2098.94,617.51 L2099.01,619.51 L2099,619.51 L2099.07,621.51 L2099.14,623.51 L2099.21,625.51 L2099.28,627.51 L2099.35,629.52 L2099.42,631.52 L2099.49,633.52 L2099.56,635.52 L2099.63,637.52 L2099.7,639.52 L2099.77,641.53 L2099.84,643.53 L2099.91,645.53 L2099.98,647.53 L2100.04,649.53 L2100.11,651.53 L2100.18,653.54 L2100.25,655.54 L2100.31,657.54 L2100.38,659.54 L2100.45,661.54 L2100.52,663.55 L2100.58,665.55 L2100.65,667.55 L2100.71,669.55 L2100.78,671.55 L2100.85,673.56 L2100.91,675.56 L2100.98,677.56 L2101.04,679.56 L2101.11,681.56 L2101.17,683.57 L2101.24,685.57 L2101.3,687.57 L2101.36,689.57 L2101.43,691.58 L2101.49,693.58 L2101.56,695.58 L2101.62,697.58 L2101.68,699.59 L2101.74,701.59 L2101.81,703.59 L2101.87,705.59 L2101.93,707.6 L2101.99,709.6 L2102.05,711.6 L2102.12,713.6 L2102.18,715.61 L2102.24,717.61 L2102.3,719.61 L2102.36,721.61 L2102.42,723.62 L2102.48,725.62 L2102.54,727.62 L2102.6,729.63 L2102.66,731.63 L2102.72,733.63 L2102.78,735.63 L2102.84,737.64 L2102.9,739.64 L2102.95,741.64 L2103.01,743.64 L2103.07,745.65 L2103.13,747.65 L2103.19,749.65 L2103.24,751.66 L2103.3,753.66 L2103.36,755.66 L2103.41,757.67 L2103.47,759.67 L2103.53,761.67 L2103.58,763.67 L2103.64,765.68 L2103.69,767.68 L2103.75,769.68 L2103.8,771.69 L2103.86,773.69 L2103.91,775.69 L2103.97,777.7 L2104.02,779.7 L2104.08,781.7 L2104.13,783.7 L2104.19,785.71 L2104.24,787.71 L2104.29,789.71 L2104.35,791.72 L2104.4,793.72 L2104.45,795.72 L2104.5,797.73 L2104.56,799.73 L2104.61,801.73 L2104.66,803.74 L2104.71,805.74 L2104.76,807.74 L2104.81,809.74 L2104.87,811.75 L2104.92,813.75 L2104.97,815.75 L2105.02,817.76 L2105.07,819.76 L2105.12,821.76 L2105.17,823.77 L2105.22,825.77 L2105.27,827.77 L2105.32,829.78 L2105.37,831.78 L2105.42,833.78 L2105.47,835.78 L2105.51,837.79 L2105.56,839.79 L2105.61,841.79 L2105.66,843.8 L2105.71,845.8 L2105.76,847.8 L2105.8,849.81 L2105.85,851.81 L2105.9,853.81 L2105.95,855.81 L2105.99,857.82 L2106.04,859.82 L2106.09,861.82 L2106.13,863.83 L2106.18,865.83 L2106.23,867.83 L2106.27,869.83 L2106.32,871.84 L2106.36,873.84 L2106.41,875.84 L2106.46,877.84 L2106.5,879.85 L2106.55,881.85 L2106.59,883.85 L2106.64,885.85 L2106.68,887.86 L2106.73,889.86 L2106.77,891.86 L2106.82,893.86 L2106.86,895.86 L2106.9,897.87 L2106.95,899.87 L2106.99,901.87 L2107.04,903.87 L2107.08,905.87 L2107.12,907.88 L2107.17,909.88 L2107.21,911.88 L2107.25,913.88 L2107.3,915.88 L2107.34,917.88 L2107.39,919.88 L2107.43,921.89 L2107.47,923.89 L2107.51,925.89 L2107.56,927.89 L2107.6,929.89 L2107.64,931.89 L2107.69,933.89 L2107.73,935.89 L2107.77,937.89 L2107.81,939.89 L2107.86,941.89 L2107.9,943.89 L2107.94,945.89 L2107.98,947.89 L2108.03,949.89 L2108.07,951.89 L2108.11,953.89 L2108.16,955.89 L2108.2,957.89 L2108.24,959.89 L2108.28,961.89 L2108.33,963.88 L2108.37,965.88 L2108.41,967.88 L2108.46,969.88 L2108.5,971.87 L2108.54,973.87 L2108.58,975.87 L2108.63,977.86 L2108.67,979.86 L2108.72,981.86 L2108.76,983.85 L2108.8,985.85 L2108.85,987.84 L2108.89,989.84 L2108.94,991.83 L2108.98,993.82 L2109.03,995.82 L2109.07,997.81 L2109.12,999.8 L2109.16,1001.79 L2109.21,1003.78 L2109.26,1005.77 L2109.31,1007.76 L2109.35,1009.75 L2109.4,1011.74 L2109.45,1013.72 L2109.5,1015.71 L2109.55,1017.69 L2109.6,1019.68 L2109.66,1021.66 L2109.71,1023.64 L2109.76,1025.61 L2109.82,1027.59 L2109.87,1029.56 L2109.93,1031.53 L2109.99,1033.5 L2110.05,1035.47 L2110.12,1037.43 L2110.19,1039.38 L2110.26,1041.33 L2110.33,1043.27 L2110.41,1045.2 L2110.49,1047.11 L2110.58,1049.01 L2110.69,1050.87 L2110.81,1052.68 L2110.95,1054.38 L2111.16,1055.77 L2111.67,1054.01 L2111.86,1051.54 L2111.99,1049.34 L2112.09,1047.21 L2112.19,1045.11 L2112.27,1043.03 L2112.35,1040.97 L2112.42,1038.92 L2112.5,1036.87 L2112.56,1034.83 L2112.63,1032.8 L2112.69,1030.77 L2112.75,1028.74 L2112.81,1026.71 L2112.87,1024.69 L2112.92,1022.67 L2112.98,1020.65 L2113.03,1018.64 L2113.09,1016.62 L2113.14,1014.61 L2113.19,1012.59 L2113.24,1010.58 L2113.29,1008.57 L2113.34,1006.56 L2113.39,1004.55 L2113.44,1002.54 L2113.49,1000.54 L2113.54,998.53 L2113.58,996.52 L2113.63,994.52 L2113.68,992.51 L2113.72,990.51 L2113.77,988.5 L2113.82,986.5 L2113.86,984.5 L2113.91,982.49 L2113.96,980.49 L2114,978.49 L2114.05,976.49 L2114.09,974.48 L2114.14,972.48 L2114.18,970.48 L2114.23,968.48 L2114.27,966.48 L2114.32,964.48 L2114.36,962.48 L2114.41,960.48 L2114.45,958.48 L2114.5,956.48 L2114.54,954.48 L2114.59,952.48 L2114.63,950.48 L2114.68,948.48 L2114.72,946.48 L2114.77,944.49 L2114.81,942.49 L2114.86,940.49 L2114.9,938.49 L2114.95,936.49 L2114.99,934.49 L2115.04,932.5 L2115.08,930.5 L2115.13,928.5 L2115.17,926.5 L2115.22,924.51 L2115.27,922.51 L2115.31,920.51 L2115.36,918.51 L2115.4,916.52 L2115.45,914.52 L2115.5,912.52 L2115.54,910.53 L2115.59,908.53 L2115.64,906.53 L2115.68,904.54 L2115.73,902.54 L2115.78,900.54 L2115.82,898.55 L2115.87,896.55 L2115.92,894.56 L2115.97,892.56 L2116.01,890.56 L2116.06,888.57 L2116.11,886.57 L2116.16,884.57 L2116.21,882.58 L2116.26,880.58 L2116.31,878.59 L2116.35,876.59 L2116.4,874.6 L2116.45,872.6 L2116.5,870.6 L2116.55,868.61 L2116.6,866.61 L2116.65,864.62 L2116.7,862.62 L2116.75,860.63 L2116.8,858.63 L2116.85,856.64 L2116.91,854.64 L2116.96,852.64 L2117.01,850.65 L2117.06,848.65 L2117.11,846.66 L2117.16,844.66 L2117.22,842.67 L2117.27,840.67 L2117.32,838.68 L2117.37,836.68 L2117.43,834.69 L2117.48,832.69 L2117.53,830.7 L2117.59,828.7 L2117.64,826.71 L2117.7,824.71 L2117.75,822.72 L2117.81,820.72 L2117.86,818.73 L2117.92,816.73 L2117.97,814.74 L2118.03,812.74 L2118.08,810.75 L2118.14,808.75 L2118.2,806.76 L2118.25,804.76 L2118.31,802.77 L2118.37,800.77 L2118.43,798.78 L2118.48,796.78 L2118.54,794.79 L2118.6,792.79 L2118.66,790.8 L2118.72,788.8 L2118.78,786.81 L2118.83,784.82 L2118.89,782.82 L2118.95,780.83 L2119.01,778.83 L2119.07,776.84 L2119.13,774.84 L2119.2,772.85 L2119.26,770.85 L2119.32,768.86 L2119.38,766.86 L2119.44,764.87 L2119.5,762.87 L2119.57,760.88 L2119.63,758.88 L2119.69,756.89 L2119.75,754.89 L2119.82,752.9 L2119.88,750.9 L2119.95,748.91 L2120.01,746.91 L2120.07,744.92 L2120.14,742.92 L2120.2,740.93 L2120.27,738.94 L2120.33,736.94 L2120.4,734.95 L2120.47,732.95 L2120.53,730.96 L2120.6,728.96 L2120.67,726.97 L2120.73,724.97 L2120.8,722.98 L2120.87,720.98 L2120.94,718.99 L2121.01,716.99 L2121.07,715 L2121.14,713 L2121.21,711.01 L2121.28,709.01 L2121.35,707.02 L2121.42,705.02 L2121.49,703.03 L2121.56,701.03 L2121.63,699.04 L2121.7,697.04 L2121.78,695.05 L2121.85,693.05 L2121.92,691.06 L2121.99,689.06 L2122.06,687.07 L2122.14,685.07 L2122.21,683.08 L2122.28,681.08 L2122.35,679.09 L2122.43,677.09 L2122.5,675.1 L2122.58,673.1 L2122.65,671.11 L2122.73,669.11 L2122.8,667.12 L2122.88,665.12 L2122.95,663.13 L2123.03,661.13 L2123.1,659.14 L2123.18,657.14 L2123.26,655.15 L2123.33,653.15 L2123.41,651.16 L2123.49,649.16 L2123.56,647.16 L2123.64,645.17 L2123.72,643.17 L2123.8,641.18 L2123.88,639.18 L2123.96,637.19 L2124.03,635.19 L2124.11,633.2 L2124.19,631.2 L2124.27,629.21 L2124.35,627.21 L2124.43,625.21 L2124.51,623.22 L2124.59,621.22 L2124.67,619.23 L2124.76,617.23 L2124.84,615.24 L2124.92,613.24 L2125,611.25 L2125.08,609.25 L2125.16,607.25 L2125.25,605.26 L2125.33,603.26 L2125.41,601.27 L2125.5,599.27 L2125.58,597.28 L2125.66,595.28 L2125.75,593.28 L2125.83,591.29 L2125.91,589.29 L2126,587.3 L2126,587.23 L2126.01,587.23 L2126.1,585.23 L2126.2,583.23 L2126.3,581.24 L2126.39,579.24 L2126.49,577.24 L2126.6,575.24 L2126.7,573.24 L2126.81,571.24 L2126.92,569.24 L2127.03,567.25 L2127.15,565.25 L2127.27,563.25 L2127.39,561.25 L2127.51,559.25 L2127.64,557.26 L2127.77,555.26 L2127.9,553.26 L2128.04,551.27 L2128.18,549.27 L2128.32,547.28 L2128.47,545.28 L2128.62,543.28 L2128.78,541.29 L2128.94,539.29 L2129.1,537.3 L2129.27,535.3 L2129.44,533.31 L2129.62,531.32 L2129.8,529.32 L2129.99,527.33 L2130.17,525.34 L2130.37,523.34 L2130.56,521.35 L2130.76,519.36 L2130.97,517.37 L2131.17,515.37 L2131.38,513.38 L2131.59,511.39 L2131.8,509.4 L2132.02,507.41 L2132.23,505.42 L2132.45,503.42 L2132.67,501.43 L2132.89,499.44 L2133.11,497.45 L2133.32,495.46 L2133.54,493.47 L2133.76,491.48 L2133.98,489.48 L2134.19,487.49 L2134.41,485.5 L2134.62,483.51 L2134.83,481.52 L2135.04,479.52 L2135.25,477.53 L2135.46,475.54 L2135.66,473.55 L2135.86,471.55 L2136.05,469.56 L2136.25,467.57 L2136.44,465.57 L2136.62,463.58 L2136.8,461.58 L2136.98,459.59 L2137.15,457.59 L2137.33,455.6 L2137.51,453.61 L2137.7,451.61 L2137.89,449.62 L2138.09,447.63 L2138.3,445.64 L2138.53,443.66 L2138.77,441.68 L2139.03,439.7 L2139.31,437.72 L2139.62,435.75 L2139.94,433.78 L2140.29,431.81 L2140.67,429.85 L2141.08,427.9 L2141.52,425.95 L2142,424"/>
<path stroke-width="11.7" d="M273.3,223.4 L274.08,225.4 L274.81,227.37 L275.5,229.31 L276.15,231.24 L276.77,233.15 L277.35,235.04 L277.9,236.92 L278.43,238.8 L278.93,240.67 L279.41,242.54 L279.87,244.42 L280.32,246.3 L280.75,248.19 L281.17,250.09 L281.59,252.01 L282.01,253.95 L282.42,255.92 L282.83,257.91 L283.25,259.92 L283.68,261.98 L284.12,264.06 L284.57,266.19 L285.04,268.36 L285.55,270.53 L286.2,272.39 L287.12,273.59 L288.41,273.79 L289.99,273.03 L291.52,271.7 L292.83,270.08 L293.93,268.26 L294.83,266.32 L295.54,264.36 L296.13,262.41 L296.74,260.47 L297.54,258.54 L298.68,256.62 L300.11,255.02 L301.69,254.25 L303.29,254.58 L304.88,255.65 L306.43,257.01 L307.94,258.41 L309.41,259.83 L310.85,261.28 L312.25,262.76 L313.61,264.25 L314.93,265.77 L316.23,267.31 L317.49,268.87 L318.72,270.44 L319.92,272.04 L321.1,273.65 L322.25,275.28 L323.38,276.93 L324.48,278.59 L325.56,280.27 L326.62,281.95 L327.66,283.65 L328.68,285.37 L329.69,287.09 L330.69,288.82 L331.67,290.56 L332.63,292.31 L333.59,294.07 L334.54,295.83 L335.48,297.6 L336.42,299.37 L337.35,301.14 L338.27,302.92 L339.2,304.7 L340.12,306.48 L341.05,308.26 L341.97,310.04 L342.9,311.82 L343.83,313.6 L344.76,315.38 L345.7,317.16 L346.63,318.94 L347.57,320.72 L348.51,322.49 L349.45,324.27 L350.39,326.04 L351.33,327.82 L352.28,329.59 L353.23,331.36 L354.18,333.13 L355.14,334.9 L356.09,336.67 L357.05,338.43 L358.01,340.2 L358.98,341.96 L359.95,343.72 L360.92,345.48 L361.89,347.24 L362.87,349 L363.85,350.75 L364.83,352.5 L365.82,354.25 L366.81,356 L367.8,357.75 L368.8,359.49 L369.8,361.23 L370.81,362.97 L371.82,364.7 L372.83,366.44 L373.84,368.17 L374.87,369.9 L375.89,371.62 L376.92,373.34 L377.95,375.06 L378.99,376.78 L380.03,378.49 L381.08,380.2 L382.13,381.91 L383.19,383.61 L384.25,385.31 L385.31,387.01 L386.38,388.7 L387.46,390.39 L388.54,392.07 L389.63,393.76 L390.72,395.43 L391.81,397.11 L392.92,398.78 L394.02,400.45 L395.14,402.11 L396.25,403.77 L397.38,405.42 L398.51,407.07 L399.64,408.71 L400.79,410.35 L401.93,411.99 L403.09,413.62 L404.25,415.25 L405.41,416.87 L406.59,418.49 L407.77,420.1 L408.95,421.71 L410.14,423.31 L411.34,424.9 L412.55,426.5 L413.76,428.08 L414.98,429.66 L416.21,431.24 L417.44,432.81 L418.68,434.37 L419.93,435.93 L421.18,437.49 L422.45,439.03 L423.72,440.58 L424.99,442.11 L426.28,443.64 L427.57,445.17 L428.87,446.68 L430.18,448.2 L431.49,449.7 L432.82,451.2 L434.15,452.7 L435.48,454.19 L436.82,455.67 L438.17,457.15 L439.53,458.62 L440.9,460.09 L442.27,461.55 L443.64,463.01 L445.03,464.46 L446.42,465.9 L447.81,467.34 L449.22,468.78 L450.63,470.2 L452.04,471.63 L453.46,473.05 L454.89,474.46 L456.32,475.87 L457.76,477.27 L459.21,478.67 L460.66,480.07 L462.11,481.46 L463.58,482.84 L465.04,484.22 L466.52,485.6 L467.99,486.97 L469.48,488.33 L470.96,489.69 L472.46,491.05 L473.96,492.4 L475.46,493.75 L476.97,495.09 L478.48,496.43 L480,497.76 L481.52,499.09 L483.05,500.4 L484.59,501.71 L486.13,503.01 L487.68,504.3 L489.23,505.58 L490.79,506.85 L492.36,508.1 L493.94,509.35 L495.52,510.58 L497.12,511.79 L498.72,512.99 L500.32,514.18 L501.94,515.34 L503.57,516.5 L505.2,517.63 L506.84,518.75 L508.49,519.86 L510.15,520.94 L511.82,522.02 L513.5,523.08 L515.18,524.12 L516.87,525.15 L518.57,526.16 L520.28,527.16 L522,528.15 L523.72,529.12 L525.46,530.07 L527.2,531.02 L528.95,531.95 L530.71,532.87 L532.48,533.77 L534.25,534.66 L536.03,535.54 L537.82,536.41 L539.62,537.26 L541.43,538.11 L543.24,538.94 L545.07,539.76 L546.9,540.56 L548.74,541.36 L550.58,542.15 L552.44,542.92 L554.3,543.69 L556.17,544.44 L558.04,545.19 L559.92,545.93 L561.81,546.66 L563.7,547.39 L565.59,548.11 L567.49,548.82 L569.39,549.53 L571.3,550.24 L573.2,550.94 L575.11,551.65 L577.02,552.35 L578.93,553.05 L580.84,553.75 L582.75,554.45 L584.66,555.15 L586.57,555.85 L588.47,556.56 L590.38,557.27 L592.28,557.98 L594.18,558.7 L596.07,559.43 L597.96,560.16 L599.85,560.89 L601.73,561.64 L603.61,562.39 L605.47,563.15 L607.34,563.93 L609.19,564.71 L611.04,565.5 L612.88,566.31 L614.71,567.12 L616.53,567.95 L618.34,568.8 L620.15,569.66 L621.94,570.53 L623.72,571.42 L625.49,572.33 L627.25,573.25 L628.99,574.2 L630.72,575.16 L632.44,576.14 L634.14,577.14 L635.83,578.16 L637.51,579.2 L639.16,580.27 L640.81,581.36 L642.43,582.47 L644.04,583.61 L645.63,584.77 L647.21,585.95 L648.76,587.17 L650.3,588.41 L651.82,589.68 L653.31,590.97 L654.79,592.29 L656.25,593.64 L657.69,595.01 L659.11,596.41 L660.51,597.83 L661.89,599.27 L663.25,600.73 L664.59,602.22 L665.91,603.73 L667.22,605.26 L668.5,606.81 L669.76,608.37 L671,609.96 L672.22,611.56 L673.42,613.19 L674.6,614.83 L675.76,616.48 L676.9,618.15 L678.02,619.84 L679.12,621.54 L680.2,623.25 L681.26,624.98 L682.3,626.72 L683.32,628.47 L684.32,630.23 L685.29,632.01 L686.25,633.79 L687.18,635.58 L688.1,637.38 L688.99,639.19 L689.86,641.01 L690.71,642.84 L691.54,644.67 L692.36,646.5 L693.15,648.35 L693.92,650.2 L694.67,652.06 L695.41,653.92 L696.12,655.79 L696.82,657.67 L697.51,659.55 L698.17,661.43 L698.82,663.33 L699.45,665.22 L700.07,667.13 L700.67,669.04 L701.25,670.95 L701.83,672.86 L702.38,674.79 L702.93,676.71 L703.46,678.64 L703.98,680.58 L704.48,682.52 L704.97,684.46 L705.45,686.4 L705.92,688.35 L706.38,690.3 L706.83,692.26 L707.27,694.22 L707.69,696.18 L708.11,698.14 L708.52,700.11 L708.92,702.08 L709.31,704.05 L709.7,706.02 L710.07,708 L710.44,709.97 L710.8,711.95 L711.16,713.93 L711.51,715.91 L711.86,717.9 L712.19,719.88 L712.53,721.86 L712.86,723.85 L713.19,725.83 L713.51,727.82 L713.83,729.8 L714.14,731.79 L714.46,733.78 L714.77,735.76 L715.08,737.75 L715.39,739.73 L715.7,741.72 L716.01,743.7 L716,743.7 L716.32,745.7 L716.64,747.69 L716.96,749.68 L717.26,751.68 L717.56,753.68 L717.86,755.67 L718.15,757.67 L718.43,759.67 L718.71,761.67 L718.99,763.67 L719.26,765.67 L719.52,767.67 L719.78,769.67 L720.04,771.67 L720.29,773.67 L720.54,775.67 L720.78,777.67 L721.02,779.67 L721.26,781.68 L721.49,783.68 L721.72,785.68 L721.94,787.69 L722.16,789.69 L722.38,791.69 L722.59,793.7 L722.8,795.7 L723.01,797.71 L723.22,799.71 L723.42,801.71 L723.62,803.72 L723.81,805.72 L724.01,807.73 L724.2,809.73 L724.38,811.74 L724.57,813.75 L724.75,815.75 L724.93,817.76 L725.11,819.76 L725.28,821.77 L725.46,823.77 L725.63,825.78 L725.8,827.79 L725.96,829.79 L726.13,831.8 L726.29,833.81 L726.45,835.81 L726.6,837.82 L726.76,839.82 L726.91,841.83 L727.07,843.84 L727.22,845.84 L727.36,847.85 L727.51,849.86 L727.66,851.87 L727.8,853.87 L727.94,855.88 L728.08,857.89 L728.22,859.89 L728.35,861.9 L728.49,863.91 L728.62,865.91 L728.75,867.92 L728.88,869.93 L729.01,871.94 L729.14,873.94 L729.26,875.95 L729.39,877.96 L729.51,879.96 L729.63,881.97 L729.75,883.98 L729.87,885.99 L729.99,887.99 L730.11,890 L730.22,892.01 L730.34,894.02 L730.45,896.02 L730.56,898.03 L730.67,900.04 L730.78,902.05 L730.89,904.05 L730.99,906.06 L731.1,908.07 L731.21,910.08 L731.31,912.08 L731.41,914.09 L731.51,916.1 L731.61,918.11 L731.71,920.11 L731.81,922.12 L731.91,924.13 L732.01,926.14 L732.1,928.15 L732.2,930.15 L732.29,932.16 L732.38,934.17 L732.48,936.18 L732.57,938.18 L732.66,940.19 L732.75,942.2 L732.84,944.21 L732.92,946.21 L733.01,948.22 L733.1,950.23 L733.18,952.24 L733.27,954.24 L733.35,956.25 L733.43,958.26 L733.51,960.27 L733.6,962.27 L733.68,964.28 L733.76,966.29 L733.84,968.3 L733.91,970.31 L733.99,972.31 L734.07,974.32 L734.14,976.33 L734.22,978.34 L734.3,980.34 L734.37,982.35 L734.44,984.36 L734.52,986.37 L734.59,988.37 L734.66,990.38 L734.73,992.39 L734.8,994.4 L734.87,996.4 L734.94,998.41 L735.01,1000.42 L735.08,1002.43 L735.14,1004.43 L735.21,1006.44 L735.28,1008.45 L735.34,1010.46 L735.41,1012.46 L735.47,1014.47 L735.54,1016.48 L735.6,1018.49 L735.66,1020.49 L735.73,1022.5 L735.79,1024.51 L735.85,1026.52 L735.91,1028.52 L735.97,1030.53 L736.03,1032.54 L736.09,1034.55 L736.15,1036.55 L736.21,1038.56 L736.26,1040.57 L736.32,1042.58 L736.38,1044.58 L736.43,1046.59 L736.49,1048.6 L736.55,1050.61 L736.6,1052.61 L736.66,1054.62 L736.71,1056.63 L736.76,1058.63 L736.82,1060.64 L736.87,1062.65 L736.92,1064.66 L736.98,1066.66 L737.03,1068.67 L737.08,1070.68 L737.13,1072.68 L737.18,1074.69 L737.23,1076.7 L737.28,1078.71 L737.33,1080.71 L737.38,1082.72 L737.43,1084.73 L737.47,1086.73 L737.52,1088.74 L737.57,1090.75 L737.62,1092.76 L737.66,1094.76 L737.71,1096.77 L737.76,1098.78 L737.8,1100.78 L737.85,1102.79 L737.89,1104.8 L737.94,1106.8 L737.98,1108.81 L738.03,1110.82 L738.07,1112.82 L738.11,1114.83 L738.16,1116.84 L738.2,1118.84 L738.24,1120.85 L738.28,1122.86 L738.33,1124.86 L738.37,1126.87 L738.41,1128.88 L738.45,1130.88 L738.49,1132.89 L738.53,1134.9 L738.57,1136.9 L738.61,1138.91 L738.65,1140.92 L738.69,1142.92 L738.73,1144.93 L738.77,1146.94 L738.81,1148.94 L738.85,1150.95 L738.88,1152.96 L738.92,1154.96 L738.96,1156.97 L739,1158.97 L739.03,1160.98 L739.07,1162.99 L739.11,1164.99 L739.14,1167 L739.18,1169 L739.22,1171.01 L739.25,1173.02 L739.29,1175.02 L739.32,1177.03 L739.36,1179.03 L739.39,1181.04 L739.43,1183.05 L739.46,1185.05 L739.49,1187.06 L739.53,1189.06 L739.56,1191.07 L739.6,1193.07 L739.63,1195.08 L739.66,1197.09 L739.7,1199.09 L739.73,1201.1 L739.76,1203.1 L739.79,1205.11 L739.83,1207.11 L739.86,1209.12 L739.89,1211.12 L739.92,1213.13 L739.95,1215.13 L739.98,1217.14 L740.02,1219.14 L740.05,1221.15 L740.08,1223.15 L740.11,1225.16 L740.14,1227.16 L740.17,1229.17 L740.2,1231.17 L740.23,1233.17 L740.26,1235.18 L740.29,1237.18 L740.32,1239.19 L740.35,1241.19 L740.38,1243.19 L740.41,1245.2 L740.44,1247.2 L740.47,1249.21 L740.5,1251.21 L740.53,1253.21 L740.55,1255.22 L740.58,1257.22 L740.61,1259.22 L740.64,1261.23 L740.67,1263.23 L740.7,1265.23 L740.73,1267.24 L740.75,1269.24 L740.78,1271.24 L740.81,1273.24 L740.84,1275.24 L740.87,1277.25 L740.89,1279.25 L740.92,1281.25 L740.95,1283.25 L740.98,1285.25 L741,1287.26 L741.03,1289.26 L741.06,1291.26 L741.09,1293.26 L741.11,1295.26 L741.14,1297.26 L741.17,1299.26 L741.2,1301.26 L741.22,1303.26 L741.25,1305.26 L741.28,1307.26 L741.31,1309.26 L741.33,1311.25 L741.36,1313.25 L741.39,1315.25 L741.42,1317.25 L741.45,1319.25 L741.47,1321.24 L741.5,1323.24 L741.53,1325.23 L741.56,1327.23 L741.59,1329.22 L741.61,1331.22 L741.64,1333.21 L741.67,1335.21 L741.7,1337.2 L741.73,1339.19 L741.76,1341.18 L741.79,1343.17 L741.82,1345.16 L741.85,1347.15 L741.88,1349.14 L741.91,1351.13 L741.94,1353.11 L741.97,1355.09 L742.01,1357.08 L742.04,1359.06 L742.07,1361.04 L742.11,1363.01 L742.14,1364.99 L742.18,1366.96 L742.21,1368.92 L742.25,1370.89 L742.29,1372.85 L742.34,1374.8 L742.38,1376.74 L742.43,1378.68 L742.48,1380.6 L742.53,1382.5 L742.59,1384.37 L742.66,1386.2 L742.74,1387.93 L742.85,1389.41 L743.09,1389.07 L743.27,1385.81 L743.34,1383.57 L743.41,1381.42 L743.46,1379.32 L743.51,1377.23 L743.56,1375.16 L743.6,1373.11 L743.64,1371.06 L743.68,1369.01 L743.72,1366.98 L743.75,1364.94 L743.79,1362.91 L743.82,1360.89 L743.85,1358.86 L743.88,1356.84 L743.92,1354.82 L743.95,1352.8 L743.98,1350.79 L744.01,1348.77 L744.04,1346.76 L744.06,1344.74 L744.09,1342.73 L744.12,1340.72 L744.15,1338.71 L744.18,1336.7 L744.2,1334.69 L744.23,1332.68 L744.26,1330.68 L744.28,1328.67 L744.31,1326.66 L744.34,1324.66 L744.36,1322.65 L744.39,1320.65 L744.41,1318.64 L744.44,1316.64 L744.46,1314.63 L744.49,1312.63 L744.51,1310.63 L744.54,1308.62 L744.57,1306.62 L744.59,1304.62 L744.62,1302.62 L744.64,1300.62 L744.67,1298.62 L744.69,1296.61 L744.72,1294.61 L744.74,1292.61 L744.77,1290.61 L744.79,1288.61 L744.82,1286.61 L744.84,1284.61 L744.86,1282.61 L744.89,1280.61 L744.91,1278.61 L744.94,1276.61 L744.96,1274.62 L744.99,1272.62 L745.01,1270.62 L745.04,1268.62 L745.06,1266.62 L745.09,1264.62 L745.11,1262.62 L745.14,1260.63 L745.16,1258.63 L745.19,1256.63 L745.22,1254.63 L745.24,1252.63 L745.27,1250.64 L745.29,1248.64 L745.32,1246.64 L745.34,1244.64 L745.37,1242.65 L745.39,1240.65 L745.42,1238.65 L745.45,1236.66 L745.47,1234.66 L745.5,1232.66 L745.52,1230.67 L745.55,1228.67 L745.58,1226.67 L745.6,1224.68 L745.63,1222.68 L745.65,1220.68 L745.68,1218.69 L745.71,1216.69 L745.73,1214.69 L745.76,1212.7 L745.79,1210.7 L745.82,1208.7 L745.84,1206.71 L745.87,1204.71 L745.9,1202.72 L745.92,1200.72 L745.95,1198.72 L745.98,1196.73 L746.01,1194.73 L746.04,1192.74 L746.06,1190.74 L746.09,1188.75 L746.12,1186.75 L746.15,1184.75 L746.18,1182.76 L746.21,1180.76 L746.23,1178.77 L746.26,1176.77 L746.29,1174.78 L746.32,1172.78 L746.35,1170.79 L746.38,1168.79 L746.41,1166.8 L746.44,1164.8 L746.47,1162.8 L746.5,1160.81 L746.53,1158.81 L746.56,1156.82 L746.59,1154.82 L746.62,1152.83 L746.65,1150.83 L746.68,1148.84 L746.71,1146.84 L746.74,1144.85 L746.77,1142.85 L746.8,1140.86 L746.84,1138.86 L746.87,1136.87 L746.9,1134.87 L746.93,1132.88 L746.96,1130.88 L747,1128.89 L747.03,1126.89 L747.06,1124.9 L747.09,1122.9 L747.13,1120.91 L747.16,1118.92 L747.19,1116.92 L747.23,1114.93 L747.26,1112.93 L747.29,1110.94 L747.33,1108.94 L747.36,1106.95 L747.4,1104.95 L747.43,1102.96 L747.46,1100.96 L747.5,1098.97 L747.53,1096.97 L747.57,1094.98 L747.6,1092.98 L747.64,1090.99 L747.68,1089 L747.71,1087 L747.75,1085.01 L747.78,1083.01 L747.82,1081.02 L747.86,1079.02 L747.89,1077.03 L747.93,1075.03 L747.97,1073.04 L748,1071.05 L748.04,1069.05 L748.08,1067.06 L748.12,1065.06 L748.16,1063.07 L748.19,1061.07 L748.23,1059.08 L748.27,1057.08 L748.31,1055.09 L748.35,1053.1 L748.39,1051.1 L748.43,1049.11 L748.47,1047.11 L748.51,1045.12 L748.55,1043.12 L748.59,1041.13 L748.63,1039.14 L748.67,1037.14 L748.71,1035.15 L748.75,1033.15 L748.79,1031.16 L748.83,1029.16 L748.88,1027.17 L748.92,1025.17 L748.96,1023.18 L749,1021.19 L749.05,1019.19 L749.09,1017.2 L749.13,1015.2 L749.18,1013.21 L749.22,1011.21 L749.26,1009.22 L749.31,1007.23 L749.35,1005.23 L749.4,1003.24 L749.44,1001.24 L749.49,999.25 L749.53,997.25 L749.58,995.26 L749.62,993.27 L749.67,991.27 L749.72,989.28 L749.76,987.28 L749.81,985.29 L749.86,983.29 L749.9,981.3 L749.95,979.31 L750,977.31 L750.05,975.32 L750.09,973.32 L750.14,971.33 L750.19,969.33 L750.24,967.34 L750.29,965.35 L750.34,963.35 L750.39,961.36 L750.44,959.36 L750.49,957.37 L750.54,955.37 L750.59,953.38 L750.64,951.39 L750.69,949.39 L750.74,947.4 L750.8,945.4 L750.85,943.41 L750.9,941.41 L750.95,939.42 L751,937.43 L751.06,935.43 L751.11,933.44 L751.16,931.44 L751.22,929.45 L751.27,927.45 L751.33,925.46 L751.38,923.47 L751.44,921.47 L751.49,919.48 L751.55,917.48 L751.6,915.49 L751.66,913.49 L751.72,911.5 L751.77,909.51 L751.83,907.51 L751.89,905.52 L751.94,903.52 L752,901.53 L752.06,899.53 L752.12,897.54 L752.18,895.54 L752.23,893.55 L752.29,891.56 L752.35,889.56 L752.41,887.57 L752.47,885.57 L752.53,883.58 L752.59,881.58 L752.65,879.59 L752.71,877.59 L752.78,875.6 L752.84,873.61 L752.9,871.61 L752.96,869.62 L753.02,867.62 L753.09,865.63 L753.15,863.63 L753.21,861.64 L753.28,859.64 L753.34,857.65 L753.4,855.66 L753.47,853.66 L753.53,851.67 L753.6,849.67 L753.66,847.68 L753.73,845.68 L753.8,843.69 L753.86,841.69 L753.93,839.7 L753.99,837.7 L754.06,835.71 L754.13,833.71 L754.2,831.72 L754.26,829.73 L754.33,827.73 L754.4,825.74 L754.47,823.74 L754.54,821.75 L754.61,819.75 L754.68,817.76 L754.75,815.76 L754.82,813.77 L754.89,811.77 L754.96,809.78 L755.03,807.78 L755.1,805.79 L755.17,803.79 L755.24,801.8 L755.32,799.8 L755.39,797.81 L755.46,795.81 L755.53,793.82 L755.61,791.82 L755.68,789.83 L755.75,787.83 L755.83,785.84 L755.9,783.84 L755.98,781.85 L756.05,779.85 L756.13,777.86 L756.2,775.86 L756.28,773.87 L756.35,771.87 L756.43,769.88 L756.5,767.88 L756.58,765.89 L756.66,763.89 L756.74,761.9 L756.81,759.9 L756.89,757.91 L756.97,755.91 L757.05,753.92 L757.13,751.92 L757.2,749.93 L757.28,747.93 L757.36,745.94 L757.44,743.94 L757.52,741.95 L757.6,739.95 L757.68,737.96 L757.76,735.96 L757.84,733.96 L757.92,731.97 L758,730.08 L758,730.07 L758.09,728.07 L758.17,726.07 L758.25,724.07 L758.34,722.07 L758.42,720.07 L758.5,718.07 L758.59,716.07 L758.67,714.07 L758.76,712.07 L758.84,710.07 L758.93,708.07 L759.02,706.06 L759.1,704.06 L759.19,702.06 L759.28,700.06 L759.36,698.06 L759.45,696.06 L759.54,694.06 L759.63,692.06 L759.72,690.06 L759.8,688.06 L759.89,686.05 L759.98,684.05 L760.07,682.05 L760.16,680.05 L760.25,678.05 L760.34,676.05 L760.43,674.05 L760.53,672.05 L760.62,670.05 L760.71,668.04 L760.8,666.04 L760.89,664.04 L760.99,662.04 L761.08,660.04 L761.17,658.04 L761.27,656.04 L761.36,654.04 L761.45,652.04 L761.55,650.04 L761.64,648.03 L761.74,646.03 L761.83,644.03 L761.93,642.03 L762.02,640.03 L762.12,638.03 L762.22,636.03 L762.31,634.03 L762.41,632.03 L762.51,630.03 L762.61,628.03 L762.7,626.03 L762.8,624.03 L762.9,622.03 L763,620.03 L763.1,618.03 L763.2,616.03 L763.3,614.03 L763.39,612.03 L763.49,610.03 L763.59,608.03 L763.7,606.03 L763.8,604.03 L763.9,602.03 L764,600.03 L764.1,598.03 L764.2,596.03 L764.3,594.03 L764.41,592.03 L764.51,590.03 L764.61,588.03 L764.71,586.03 L764.82,584.03 L764.92,582.03 L765.02,580.03 L765.13,578.04 L765.23,576.04 L765.34,574.04 L765.44,572.04 L765.55,570.04 L765.65,568.04 L765.76,566.05 L765.86,564.05 L765.97,562.05 L766.08,560.05 L766.18,558.05 L766.29,556.06 L766.4,554.06 L766.5,552.06 L766.61,550.06 L766.72,548.07 L766.83,546.07 L766.93,544.07 L767.04,542.08 L767.15,540.08 L767.26,538.08 L767.37,536.09 L767.48,534.09 L767.59,532.09 L767.7,530.1 L767.81,528.1 L767.92,526.11 L768.03,524.11 L768.14,522.11 L768.25,520.12 L768.36,518.12 L768.47,516.13 L768.58,514.13 L768.7,512.14 L768.81,510.14 L768.92,508.15 L769.03,506.16 L769.15,504.16 L769.26,502.17 L769.37,500.17 L769.49,498.18 L769.6,496.19 L769.71,494.19 L769.83,492.2 L769.94,490.21 L770.06,488.21 L770.17,486.22 L770.29,484.23 L770.4,482.24 L770.52,480.24 L770.63,478.25 L770.75,476.26 L770.87,474.27 L770.98,472.28 L771.1,470.29 L771.22,468.29 L771.34,466.3 L771.46,464.31 L771.58,462.32 L771.7,460.33 L771.83,458.34 L771.95,456.35 L772.07,454.36 L772.2,452.37 L772.33,450.38 L772.46,448.39 L772.58,446.4 L772.72,444.41 L772.85,442.42 L772.98,440.43 L773.12,438.44 L773.25,436.45 L773.39,434.46 L773.53,432.47 L773.67,430.48 L773.81,428.49 L773.96,426.5 L774.1,424.51 L774.25,422.52 L774.4,420.53 L774.56,418.54 L774.71,416.55 L774.87,414.56 L775.02,412.57 L775.19,410.58 L775.35,408.59 L775.51,406.61 L775.68,404.62 L775.85,402.63 L776.02,400.64 L776.2,398.65 L776.37,396.66 L776.55,394.67 L776.74,392.68 L776.92,390.69 L777.11,388.7 L777.3,386.71 L777.49,384.72 L777.69,382.73 L777.89,380.74 L778.09,378.75 L778.3,376.76 L778.51,374.77 L778.72,372.78 L778.93,370.79 L779.15,368.8 L779.37,366.8 L779.6,364.81 L779.82,362.82 L780.06,360.83 L780.29,358.84 L780.53,356.85 L780.77,354.86 L781.02,352.87 L781.27,350.87 L781.52,348.88 L781.78,346.89 L782.04,344.9 L782.31,342.9 L782.58,340.91 L782.85,338.92 L783.13,336.93 L783.41,334.93 L783.69,332.94 L783.98,330.95 L784.28,328.95 L784.58,326.96 L784.88,324.96 L785.19,322.97 L785.5,320.98 L785.82,318.98 L786.14,316.99 L786.46,314.99 L786.79,312.99 L787.13,311 L787.47,309 L787.82,307.01 L788.17,305.01 L788.52,303.01 L788.88,301.02 L789.25,299.02 L789.62,297.02 L789.99,295.02 L790.37,293.02 L790.76,291.03 L791.15,289.03 L791.55,287.03 L791.95,285.03 L792.36,283.03 L792.77,281.03 L793.19,279.03 L793.62,277.03 L794.07,275.05 L794.53,273.07 L795.02,271.1 L795.53,269.14 L796.07,267.21 L796.64,265.29 L797.25,263.39 L797.9,261.52 L798.59,259.68 L799.33,257.87 L800.12,256.09 L800.96,254.35 L801.86,252.65 L802.82,250.98 L803.85,249.36 L804.95,247.79 L806.11,246.27 L807.36,244.79 L808.68,243.38 L810.08,242.02 L811.57,240.72 L813.14,239.49 L814.78,238.35 L816.48,237.31 L818.22,236.38 L820.01,235.57 L821.84,234.88 L823.71,234.29 L825.6,233.8 L827.53,233.41 L829.48,233.09 L831.46,232.85 L833.45,232.67 L835.47,232.56 L837.5,232.49 L839.54,232.46 L841.59,232.46 L843.65,232.49 L845.71,232.54 L847.78,232.59 L849.84,232.64 L851.89,232.68 L853.94,232.72 L855.98,232.75 L858.02,232.76 L860.06,232.78 L862.09,232.78 L864.11,232.78 L866.13,232.77 L868.15,232.75 L870.16,232.73 L872.17,232.71 L874.18,232.68 L876.18,232.64 L878.19,232.6 L880.19,232.56 L882.18,232.51 L884.18,232.46 L886.17,232.41 L888.16,232.36 L890.15,232.3 L892.14,232.25 L894.12,232.19 L896.11,232.13 L898.1,232.07 L900.08,232.02 L902.07,231.96 L904.05,231.9 L906.04,231.85 L908.02,231.8 L910.01,231.74 L912,231.7 L913.98,231.65 L915.97,231.61 L917.96,231.56 L919.95,231.52 L921.94,231.49 L923.93,231.45 L925.92,231.42 L927.92,231.38 L929.91,231.35 L931.9,231.33 L933.9,231.3 L935.89,231.27 L937.89,231.25 L939.88,231.23 L941.88,231.21 L943.87,231.19 L945.87,231.17 L947.87,231.16 L949.87,231.14 L951.87,231.13 L953.86,231.12 L955.86,231.1 L957.86,231.1 L959.86,231.09 L961.86,231.08 L963.86,231.07 L965.87,231.07 L967.87,231.06 L969.87,231.06 L971.87,231.06 L973.87,231.06 L975.88,231.06 L977.88,231.06 L979.88,231.06 L981.89,231.06 L983.89,231.06 L985.89,231.07 L987.9,231.07 L989.9,231.07 L991.91,231.08 L993.91,231.08 L995.92,231.09 L997.92,231.09 L999.93,231.1 L1001.93,231.11 L1003.94,231.11 L1005.94,231.12 L1007.95,231.12 L1009.96,231.13 L1011.96,231.14 L1013.97,231.15 L1015.97,231.15 L1017.98,231.16 L1019.98,231.17 L1021.99,231.17 L1024,231.18 L1026,231.18 L1028.01,231.19 L1030.01,231.19 L1032.02,231.2 L1034.03,231.2 L1036.03,231.21 L1038.04,231.21 L1040.04,231.21 L1042.05,231.22 L1044.05,231.22 L1046.06,231.22 L1048.06,231.22 L1050.07,231.22 L1052.07,231.22 L1054.08,231.21 L1056.08,231.21 L1058.09,231.21 L1060.09,231.2 L1062.09,231.2 L1064.1,231.19 L1066.1,231.18 L1068.1,231.18 L1070.11,231.17 L1072.11,231.16 L1074.11,231.15 L1076.11,231.15 L1078.12,231.14 L1080.12,231.13 L1082.12,231.12 L1084.12,231.11 L1086.12,231.1 L1088.13,231.09 L1090.13,231.08 L1092.13,231.07 L1094.13,231.06 L1096.13,231.05 L1098.13,231.04 L1100.13,231.03 L1102.13,231.02 L1104.14,231.01 L1106.14,231 L1108.14,230.99 L1110.14,230.98 L1112.14,230.98 L1114.14,230.97 L1116.14,230.96 L1118.14,230.95 L1120.14,230.95 L1122.14,230.94 L1124.14,230.93 L1126.14,230.93 L1128.14,230.93 L1130.14,230.92 L1132.14,230.92 L1134.14,230.92 L1136.14,230.92 L1138.13,230.91 L1140.13,230.92 L1142.13,230.92 L1144.13,230.92 L1146.13,230.92 L1148.13,230.93 L1150.13,230.93 L1152.13,230.94 L1154.13,230.95 L1156.13,230.95 L1158.13,230.96 L1160.13,230.98 L1162.12,230.99 L1164.12,231 L1166.12,231.02 L1168.12,231.03 L1170.12,231.05 L1172.12,231.07 L1174.12,231.09 L1176.12,231.12 L1178.11,231.14 L1180.11,231.17 L1182.11,231.19 L1184.11,231.22 L1186.11,231.25 L1188.11,231.29 L1190.11,231.32 L1192.11,231.36 L1194.11,231.4 L1196.1,231.44 L1198.1,231.48 L1200.1,231.53 L1202.1,231.57 L1204.1,231.62 L1206.1,231.67 L1208.1,231.73 L1210.1,231.78 L1212.1,231.84 L1214.1,231.9 L1216.1,231.96 L1218.1,232.03 L1220.09,232.09 L1222.09,232.16 L1224.09,232.23 L1226.09,232.31 L1228.09,232.39 L1230.09,232.47 L1232.09,232.55 L1234.09,232.63 L1236.09,232.72 L1238.09,232.81 L1240.09,232.9 L1242.09,233 L1244.09,233.09 L1246.09,233.19 L1248.09,233.28 L1250.09,233.38 L1252.1,233.48 L1254.1,233.59 L1256.1,233.69 L1258.1,233.79 L1260.1,233.89 L1262.1,234 L1264.1,234.1 L1266.1,234.21 L1268.1,234.31 L1270.1,234.42 L1272.1,234.52 L1274.1,234.63 L1276.1,234.73 L1278.1,234.83 L1280.1,234.94 L1282.11,235.04 L1284.11,235.14 L1286.11,235.24 L1288.11,235.34 L1290.11,235.43 L1292.11,235.53 L1294.11,235.62 L1296.11,235.71 L1298.11,235.8 L1300.11,235.89 L1302.11,235.97 L1304.11,236.06 L1306.11,236.14 L1308.11,236.21 L1310.12,236.29 L1312.12,236.36 L1314.12,236.43 L1316.12,236.49 L1318.12,236.55 L1320.12,236.61 L1322.12,236.67 L1324.12,236.72 L1326.12,236.76 L1328.12,236.81 L1330.12,236.84 L1332.12,236.88 L1334.12,236.91 L1336.12,236.93 L1338.12,236.95 L1340.12,236.97 L1342.12,236.98 L1344.11,236.98 L1346.11,236.98 L1348.11,236.98 L1350.11,236.97 L1352.11,236.95 L1354.11,236.93 L1356.11,236.9 L1358.11,236.86 L1360.11,236.82 L1362.1,236.77 L1364.1,236.72 L1366.1,236.66 L1368.1,236.59 L1370.1,236.52 L1372.1,236.44 L1374.09,236.36 L1376.09,236.28 L1378.09,236.19 L1380.09,236.1 L1382.08,236 L1384.08,235.9 L1386.08,235.81 L1388.08,235.7 L1390.08,235.6 L1392.07,235.5 L1394.07,235.4 L1396.07,235.29 L1398.07,235.19 L1400.07,235.09 L1402.07,234.99 L1404.07,234.89 L1406.06,234.79 L1408.06,234.7 L1410.06,234.61 L1412.06,234.52 L1414.06,234.44 L1416.06,234.36 L1418.06,234.28 L1420.06,234.21 L1422.06,234.15 L1424.07,234.09 L1426.07,234.04 L1428.07,233.99 L1430.07,233.95 L1432.07,233.92 L1434.08,233.9 L1436.08,233.88 L1438.08,233.87 L1440.09,233.88 L1442.09,233.89 L1444.1,233.91 L1446.1,233.94 L1448.11,233.97 L1450.11,234.02 L1452.12,234.07 L1454.12,234.13 L1456.12,234.2 L1458.13,234.28 L1460.13,234.36 L1462.13,234.46 L1464.14,234.56 L1466.14,234.67 L1468.14,234.78 L1470.14,234.91 L1472.14,235.04 L1474.14,235.17 L1476.13,235.32 L1478.13,235.47 L1480.12,235.63 L1482.12,235.79 L1484.11,235.97 L1486.1,236.14 L1488.09,236.33 L1490.07,236.52 L1492.06,236.72 L1494.04,236.92 L1496.03,237.13 L1498.01,237.35 L1499.98,237.57 L1501.96,237.8 L1503.93,238.03 L1505.91,238.27 L1507.88,238.51 L1509.85,238.75 L1511.82,239 L1513.79,239.24 L1515.76,239.49 L1517.74,239.73 L1519.71,239.98 L1521.68,240.22 L1523.66,240.45 L1525.64,240.69 L1527.62,240.92 L1529.6,241.14 L1531.59,241.36 L1533.58,241.57 L1535.58,241.77 L1537.58,241.97 L1539.58,242.15 L1541.59,242.33 L1543.6,242.49 L1545.62,242.64 L1547.65,242.78 L1549.68,242.9 L1551.72,243.01 L1553.77,243.11 L1555.83,243.19 L1557.88,243.26 L1559.94,243.33 L1561.99,243.43 L1564.02,243.56 L1566.03,243.76 L1568,244.03 L1569.94,244.38 L1571.83,244.85 L1573.67,245.44 L1575.44,246.17 L1577.15,247.05 L1578.79,248.09 L1580.35,249.25 L1581.84,250.53 L1583.25,251.91 L1584.59,253.36 L1585.84,254.87 L1587.03,256.42 L1588.13,258.01 L1589.16,259.65 L1590.13,261.32 L1591.03,263.02 L1591.87,264.76 L1592.64,266.53 L1593.37,268.34 L1594.04,270.17 L1594.66,272.02 L1595.23,273.9 L1595.76,275.81 L1596.26,277.73 L1596.71,279.67 L1597.13,281.63 L1597.53,283.61 L1597.89,285.6 L1598.23,287.59 L1598.55,289.6 L1598.86,291.62 L1599.15,293.64 L1599.43,295.67 L1599.7,297.7 L1599.96,299.73 L1600.23,301.76 L1600.49,303.78 L1600.75,305.81 L1601.01,307.83 L1601.27,309.85 L1601.53,311.87 L1601.79,313.89 L1602.04,315.91 L1602.29,317.93 L1602.54,319.94 L1602.79,321.96 L1603.04,323.97 L1603.29,325.98 L1603.53,327.99 L1603.78,330 L1604.02,332.01 L1604.26,334.02 L1604.5,336.02 L1604.74,338.03 L1604.97,340.03 L1605.21,342.04 L1605.44,344.04 L1605.67,346.04 L1605.9,348.04 L1606.13,350.04 L1606.36,352.04 L1606.59,354.03 L1606.81,356.03 L1607.03,358.03 L1607.25,360.02 L1607.47,362.02 L1607.69,364.01 L1607.91,366 L1608.12,367.99 L1608.33,369.99 L1608.54,371.98 L1608.75,373.97 L1608.96,375.96 L1609.17,377.94 L1609.37,379.93 L1609.58,381.92 L1609.78,383.91 L1609.98,385.9 L1610.18,387.88 L1610.37,389.87 L1610.57,391.85 L1610.76,393.84 L1610.96,395.82 L1611.15,397.81 L1611.33,399.79 L1611.52,401.78 L1611.71,403.76 L1611.89,405.75 L1612.07,407.73 L1612.25,409.71 L1612.43,411.69 L1612.61,413.68 L1612.79,415.66 L1612.96,417.64 L1613.13,419.63 L1613.3,421.61 L1613.47,423.59 L1613.64,425.57 L1613.81,427.56 L1613.97,429.54 L1614.13,431.52 L1614.29,433.51 L1614.45,435.49 L1614.61,437.47 L1614.77,439.46 L1614.92,441.44 L1615.07,443.42 L1615.22,445.41 L1615.37,447.39 L1615.52,449.38 L1615.66,451.36 L1615.81,453.35 L1615.95,455.33 L1616.09,457.32 L1616.23,459.31 L1616.36,461.29 L1616.5,463.28 L1616.63,465.27 L1616.76,467.26 L1616.89,469.25 L1617.02,471.24 L1617.15,473.23 L1617.27,475.22 L1617.4,477.21 L1617.52,479.2 L1617.64,481.19 L1617.76,483.19 L1617.87,485.18 L1617.99,487.17 L1618.1,489.16 L1618.22,491.16 L1618.33,493.15 L1618.44,495.15 L1618.54,497.14 L1618.65,499.14 L1618.76,501.13 L1618.86,503.13 L1618.96,505.13 L1619.06,507.12 L1619.16,509.12 L1619.26,511.12 L1619.36,513.12 L1619.45,515.11 L1619.55,517.11 L1619.64,519.11 L1619.74,521.11 L1619.83,523.11 L1619.92,525.11 L1620,527.11 L1620.09,529.11 L1620.18,531.11 L1620.26,533.11 L1620.35,535.11 L1620.43,537.11 L1620.51,539.11 L1620.59,541.12 L1620.67,543.12 L1620.75,545.12 L1620.83,547.12 L1620.91,549.12 L1620.98,551.13 L1621.06,553.13 L1621.13,555.13 L1621.2,557.14 L1621.28,559.14 L1621.35,561.14 L1621.42,563.15 L1621.49,565.15 L1621.56,567.15 L1621.63,569.16 L1621.69,571.16 L1621.76,573.16 L1621.83,575.17 L1621.89,577.17 L1621.96,579.18 L1622.02,581.18 L1622.08,583.19 L1622.14,585.19 L1622.21,587.2 L1622.27,589.2 L1622.33,591.2 L1622.39,593.21 L1622.45,595.21 L1622.51,597.22 L1622.56,599.22 L1622.62,601.23 L1622.68,603.23 L1622.74,605.24 L1622.79,607.24 L1622.85,609.25 L1622.9,611.25 L1622.96,613.26 L1623.01,615.26 L1623.07,617.26 L1623.12,619.27 L1623.18,621.27 L1623.23,623.28 L1623.28,625.28 L1623.34,627.28 L1623.39,629.29 L1623.44,631.29 L1623.49,633.3 L1623.54,635.3 L1623.6,637.3 L1623.65,639.31 L1623.7,641.31 L1623.75,643.31 L1623.8,645.31 L1623.85,647.32 L1623.9,649.32 L1623.95,651.32 L1624,653.32 L1624.05,655.33 L1624.11,657.33 L1624.16,659.33 L1624.21,661.33 L1624.26,663.33 L1624.31,665.33 L1624.36,667.34 L1624.41,669.34 L1624.46,671.34 L1624.51,673.34 L1624.56,675.34 L1624.61,677.34 L1624.66,679.34 L1624.71,681.34 L1624.75,683.34 L1624.8,685.34 L1624.85,687.34 L1624.9,689.35 L1624.95,691.35 L1625,693.35 L1625.05,695.35 L1625.1,697.35 L1625.15,699.35 L1625.2,701.35 L1625.25,703.35 L1625.3,705.35 L1625.35,707.35 L1625.4,709.35 L1625.45,711.35 L1625.5,713.35 L1625.55,715.35 L1625.6,717.35 L1625.65,719.35 L1625.7,721.35 L1625.76,723.35 L1625.81,725.35 L1625.86,727.35 L1625.91,729.34 L1625.96,731.34 L1626.01,733.34 L1626,733.34 L1626.05,735.34 L1626.11,737.34 L1626.16,739.34 L1626.21,741.33 L1626.27,743.33 L1626.32,745.33 L1626.38,747.33 L1626.43,749.33 L1626.48,751.32 L1626.54,753.32 L1626.59,755.32 L1626.65,757.32 L1626.7,759.32 L1626.75,761.31 L1626.81,763.31 L1626.86,765.31 L1626.92,767.31 L1626.97,769.31 L1627.03,771.31 L1627.08,773.3 L1627.14,775.3 L1627.19,777.3 L1627.25,779.3 L1627.3,781.3 L1627.36,783.3 L1627.41,785.29 L1627.47,787.29 L1627.52,789.29 L1627.58,791.29 L1627.63,793.29 L1627.69,795.29 L1627.74,797.28 L1627.8,799.28 L1627.85,801.28 L1627.91,803.28 L1627.96,805.28 L1628.02,807.28 L1628.07,809.28 L1628.13,811.27 L1628.18,813.27 L1628.24,815.27 L1628.3,817.27 L1628.35,819.27 L1628.41,821.27 L1628.46,823.27 L1628.52,825.26 L1628.57,827.26 L1628.63,829.26 L1628.69,831.26 L1628.74,833.26 L1628.8,835.26 L1628.85,837.26 L1628.91,839.25 L1628.97,841.25 L1629.02,843.25 L1629.08,845.25 L1629.13,847.25 L1629.19,849.25 L1629.25,851.25 L1629.3,853.25 L1629.36,855.24 L1629.42,857.24 L1629.47,859.24 L1629.53,861.24 L1629.58,863.24 L1629.64,865.24 L1629.7,867.24 L1629.75,869.23 L1629.81,871.23 L1629.87,873.23 L1629.92,875.23 L1629.98,877.23 L1630.04,879.23 L1630.09,881.23 L1630.15,883.23 L1630.21,885.22 L1630.26,887.22 L1630.32,889.22 L1630.38,891.22 L1630.43,893.22 L1630.49,895.22 L1630.55,897.21 L1630.6,899.21 L1630.66,901.21 L1630.72,903.21 L1630.78,905.21 L1630.83,907.21 L1630.89,909.2 L1630.95,911.2 L1631,913.2 L1631.06,915.2 L1631.12,917.2 L1631.18,919.2 L1631.23,921.19 L1631.29,923.19 L1631.35,925.19 L1631.41,927.19 L1631.47,929.18 L1631.52,931.18 L1631.58,933.18 L1631.64,935.18 L1631.7,937.17 L1631.76,939.17 L1631.81,941.17 L1631.87,943.17 L1631.93,945.16 L1631.99,947.16 L1632.05,949.16 L1632.11,951.15 L1632.17,953.15 L1632.23,955.15 L1632.29,957.14 L1632.35,959.14 L1632.41,961.13 L1632.47,963.13 L1632.53,965.13 L1632.59,967.12 L1632.65,969.12 L1632.71,971.11 L1632.77,973.11 L1632.83,975.1 L1632.89,977.1 L1632.96,979.09 L1633.02,981.08 L1633.08,983.08 L1633.14,985.07 L1633.21,987.06 L1633.27,989.06 L1633.33,991.05 L1633.4,993.04 L1633.46,995.03 L1633.53,997.02 L1633.6,999.02 L1633.66,1001.01 L1633.73,1003 L1633.8,1004.98 L1633.87,1006.97 L1633.93,1008.96 L1634,1010.95 L1634.08,1012.94 L1634.15,1014.92 L1634.22,1016.91 L1634.29,1018.89 L1634.37,1020.87 L1634.44,1022.86 L1634.52,1024.84 L1634.6,1026.82 L1634.68,1028.79 L1634.76,1030.77 L1634.84,1032.74 L1634.93,1034.72 L1635.02,1036.69 L1635.11,1038.65 L1635.2,1040.62 L1635.3,1042.58 L1635.4,1044.53 L1635.5,1046.48 L1635.61,1048.42 L1635.73,1050.36 L1635.85,1052.28 L1635.99,1054.19 L1636.14,1056.07 L1636.3,1057.92 L1636.49,1059.72 L1636.73,1061.39 L1637.08,1062.7 L1638.04,1059.61 L1638.28,1057.34 L1638.47,1055.18 L1638.63,1053.08 L1638.78,1050.99 L1638.92,1048.93 L1639.05,1046.88 L1639.17,1044.83 L1639.28,1042.79 L1639.39,1040.76 L1639.5,1038.73 L1639.6,1036.7 L1639.7,1034.68 L1639.8,1032.66 L1639.89,1030.64 L1639.99,1028.62 L1640.08,1026.61 L1640.17,1024.59 L1640.26,1022.58 L1640.34,1020.57 L1640.43,1018.56 L1640.52,1016.55 L1640.6,1014.54 L1640.68,1012.53 L1640.77,1010.53 L1640.85,1008.52 L1640.93,1006.52 L1641.01,1004.51 L1641.09,1002.51 L1641.17,1000.5 L1641.25,998.5 L1641.33,996.5 L1641.41,994.5 L1641.49,992.5 L1641.57,990.49 L1641.65,988.49 L1641.73,986.49 L1641.8,984.49 L1641.88,982.49 L1641.96,980.49 L1642.04,978.49 L1642.11,976.49 L1642.19,974.49 L1642.27,972.5 L1642.35,970.5 L1642.42,968.5 L1642.5,966.5 L1642.58,964.5 L1642.66,962.51 L1642.73,960.51 L1642.81,958.51 L1642.89,956.51 L1642.97,954.52 L1643.05,952.52 L1643.13,950.53 L1643.2,948.53 L1643.28,946.53 L1643.36,944.54 L1643.44,942.54 L1643.52,940.55 L1643.6,938.55 L1643.68,936.55 L1643.76,934.56 L1643.84,932.56 L1643.92,930.57 L1644,928.57 L1644.08,926.58 L1644.16,924.59 L1644.24,922.59 L1644.33,920.6 L1644.41,918.6 L1644.49,916.61 L1644.58,914.61 L1644.66,912.62 L1644.74,910.63 L1644.83,908.63 L1644.91,906.64 L1645,904.65 L1645.08,902.65 L1645.17,900.66 L1645.25,898.67 L1645.34,896.67 L1645.43,894.68 L1645.52,892.69 L1645.6,890.7 L1645.69,888.7 L1645.78,886.71 L1645.87,884.72 L1645.96,882.73 L1646.05,880.73 L1646.14,878.74 L1646.23,876.75 L1646.33,874.76 L1646.42,872.77 L1646.51,870.78 L1646.61,868.79 L1646.7,866.79 L1646.8,864.8 L1646.89,862.81 L1646.99,860.82 L1647.09,858.83 L1647.18,856.84 L1647.28,854.85 L1647.38,852.86 L1647.48,850.87 L1647.58,848.88 L1647.68,846.89 L1647.79,844.9 L1647.89,842.91 L1647.99,840.92 L1648.1,838.93 L1648.2,836.94 L1648.31,834.95 L1648.42,832.96 L1648.52,830.97 L1648.63,828.98 L1648.74,826.99 L1648.85,825.01 L1648.96,823.02 L1649.08,821.03 L1649.19,819.04 L1649.3,817.05 L1649.42,815.07 L1649.54,813.08 L1649.65,811.09 L1649.77,809.1 L1649.89,807.12 L1650.01,805.13 L1650.14,803.14 L1650.26,801.16 L1650.38,799.17 L1650.51,797.19 L1650.64,795.2 L1650.76,793.22 L1650.89,791.23 L1651.03,789.25 L1651.16,787.26 L1651.29,785.28 L1651.43,783.29 L1651.57,781.31 L1651.7,779.32 L1651.84,777.34 L1651.99,775.36 L1652.13,773.38 L1652.28,771.39 L1652.42,769.41 L1652.57,767.43 L1652.72,765.45 L1652.88,763.47 L1653.03,761.49 L1653.19,759.51 L1653.35,757.53 L1653.51,755.55 L1653.67,753.57 L1653.84,751.59 L1654.01,749.61 L1654.18,747.64 L1654.35,745.66 L1654.53,743.68 L1654.71,741.71 L1654.89,739.73 L1655.08,737.76 L1655.27,735.78 L1655.46,733.81 L1655.66,731.84 L1655.85,729.87 L1656.06,727.9 L1656.26,725.93 L1656.48,723.96 L1656.69,721.99 L1656.91,720.02 L1657.14,718.06 L1657.36,716.09 L1657.6,714.13 L1657.84,712.17 L1658.08,710.21 L1658.34,708.25 L1658.59,706.29 L1658.86,704.33 L1659.13,702.38 L1659.41,700.42 L1659.69,698.47 L1659.98,696.52 L1660,696.42 L1659.98,696.42 L1660.27,694.43 L1660.57,692.45 L1660.87,690.47 L1661.17,688.49 L1661.49,686.51 L1661.81,684.54 L1662.14,682.56 L1662.47,680.58 L1662.82,678.61 L1663.17,676.64 L1663.53,674.67 L1663.9,672.7 L1664.28,670.74 L1664.67,668.77 L1665.07,666.81 L1665.48,664.85 L1665.9,662.9 L1666.34,660.94 L1666.78,658.99 L1667.24,657.04 L1667.71,655.1 L1668.19,653.16 L1668.69,651.22 L1669.2,649.28 L1669.73,647.35 L1670.26,645.43 L1670.82,643.5 L1671.39,641.58 L1671.97,639.67 L1672.57,637.76 L1673.19,635.85 L1673.82,633.95 L1674.47,632.05 L1675.14,630.16 L1675.82,628.27 L1676.53,626.39 L1677.25,624.51 L1677.99,622.64 L1678.75,620.77 L1679.53,618.91 L1680.33,617.05 L1681.15,615.2 L1681.99,613.36 L1682.86,611.52 L1683.74,609.69 L1684.65,607.87 L1685.6,606.08 L1686.57,604.3 L1687.58,602.56 L1688.63,600.84 L1689.72,599.16 L1690.85,597.53 L1692.03,595.94 L1693.26,594.4 L1694.55,592.91 L1695.89,591.49 L1697.29,590.12 L1698.74,588.82 L1700.25,587.57 L1701.8,586.39 L1703.4,585.25 L1705.05,584.17 L1706.74,583.15 L1708.46,582.17 L1710.23,581.24 L1712.02,580.36 L1713.85,579.53 L1715.71,578.74 L1717.6,577.99 L1719.51,577.29 L1721.44,576.62 L1723.39,576 L1725.35,575.41 L1727.33,574.85 L1729.32,574.33 L1731.32,573.84 L1733.32,573.39 L1735.33,572.96 L1737.34,572.56 L1739.35,572.18 L1741.35,571.83 L1743.36,571.5 L1745.36,571.2 L1747.36,570.92 L1749.36,570.65 L1751.36,570.41 L1753.35,570.19 L1755.35,569.98 L1757.34,569.79 L1759.33,569.61 L1761.33,569.45 L1763.32,569.3 L1765.3,569.16 L1767.29,569.03 L1769.28,568.91 L1771.27,568.8 L1773.25,568.7 L1775.24,568.6 L1777.22,568.51 L1779.2,568.43 L1781.19,568.34 L1783.17,568.26 L1785.15,568.18 L1787.14,568.09 L1789.12,568.01 L1791.1,567.92 L1793.09,567.83 L1795.07,567.74 L1797.05,567.64 L1799.03,567.53 L1801.02,567.41 L1803,567.29 L1804.99,567.15 L1806.97,567.01 L1808.96,566.85 L1810.94,566.67 L1812.93,566.49 L1814.92,566.28 L1816.91,566.07 L1818.9,565.83 L1820.89,565.58 L1822.87,565.32 L1824.86,565.04 L1826.85,564.74 L1828.83,564.42 L1830.82,564.09 L1832.8,563.75 L1834.78,563.39 L1836.76,563.01 L1838.73,562.61 L1840.71,562.2 L1842.67,561.77 L1844.64,561.33 L1846.6,560.86 L1848.56,560.38 L1850.51,559.89 L1852.46,559.37 L1854.41,558.84 L1856.34,558.29 L1858.28,557.73 L1860.2,557.15 L1862.13,556.54 L1864.04,555.93 L1865.95,555.29 L1867.85,554.64 L1869.75,553.96 L1871.63,553.27 L1873.51,552.56 L1875.38,551.84 L1877.25,551.09 L1879.1,550.33 L1880.95,549.55 L1882.78,548.74 L1884.61,547.92 L1886.43,547.09 L1888.23,546.23 L1890.03,545.35 L1891.82,544.46 L1893.59,543.54 L1895.35,542.61 L1897.11,541.66 L1898.85,540.68 L1900.58,539.69 L1902.29,538.68 L1904,537.65 L1905.69,536.6 L1907.37,535.53 L1909.04,534.45 L1910.7,533.34 L1912.35,532.22 L1913.99,531.09 L1915.61,529.93 L1917.23,528.76 L1918.83,527.58 L1920.43,526.38 L1922.01,525.16 L1923.58,523.93 L1925.15,522.69 L1926.7,521.43 L1928.24,520.16 L1929.78,518.87 L1931.3,517.58 L1932.82,516.27 L1934.32,514.95 L1935.82,513.62 L1937.31,512.27 L1938.79,510.92 L1940.26,509.55 L1941.72,508.18 L1943.17,506.8 L1944.62,505.4 L1946.06,504 L1947.49,502.59 L1948.91,501.17 L1950.33,499.74 L1951.74,498.31 L1953.14,496.87 L1954.53,495.42 L1955.92,493.97 L1957.29,492.5 L1958.67,491.03 L1960.03,489.56 L1961.38,488.07 L1962.73,486.58 L1964.07,485.09 L1965.41,483.58 L1966.73,482.07 L1968.05,480.56 L1969.36,479.03 L1970.67,477.5 L1971.97,475.97 L1973.25,474.43 L1974.54,472.88 L1975.81,471.33 L1977.08,469.77 L1978.34,468.2 L1979.59,466.63 L1980.83,465.05 L1982.07,463.47 L1983.3,461.88 L1984.52,460.29 L1985.73,458.69 L1986.94,457.08 L1988.14,455.47 L1989.33,453.86 L1990.52,452.24 L1991.69,450.61 L1992.86,448.99 L1994.02,447.35 L1995.18,445.71 L1996.32,444.07 L1997.46,442.42 L1998.6,440.77 L1999.72,439.11 L2000.84,437.45 L2001.94,435.78 L2003.05,434.11 L2004.14,432.43 L2005.23,430.75 L2006.3,429.07 L2007.38,427.39 L2008.44,425.69 L2009.5,424 L2010.54,422.3 L2011.59,420.6 L2012.62,418.89 L2013.65,417.19 L2014.67,415.47 L2015.68,413.76 L2016.69,412.04 L2017.69,410.31 L2018.69,408.59 L2019.67,406.86 L2020.66,405.12 L2021.63,403.39 L2022.6,401.65 L2023.57,399.9 L2024.53,398.16 L2025.48,396.41 L2026.43,394.66 L2027.37,392.9 L2028.31,391.14 L2029.25,389.38 L2030.17,387.62 L2031.1,385.85 L2032.02,384.08 L2032.93,382.31 L2033.84,380.54 L2034.75,378.76 L2035.65,376.98 L2036.54,375.2 L2037.44,373.41 L2038.33,371.63 L2039.21,369.84 L2040.1,368.05 L2040.97,366.25 L2041.85,364.46 L2042.72,362.66 L2043.59,360.86 L2044.46,359.05 L2045.32,357.25 L2046.18,355.44 L2047.04,353.63 L2047.9,351.82 L2048.75,350.01 L2049.6,348.2 L2050.45,346.38 L2051.3,344.56 L2052.14,342.74 L2052.98,340.92 L2053.83,339.1 L2054.67,337.27 L2055.5,335.45 L2056.34,333.62 L2057.18,331.79 L2058.01,329.96 L2058.85,328.13 L2059.68,326.3 L2060.51,324.47 L2061.35,322.63 L2062.18,320.79 L2063.01,318.96 L2063.84,317.12 L2064.67,315.28 L2065.5,313.44 L2066.34,311.6 L2067.17,309.76 L2068,307.92 L2068.83,306.07 L2069.67,304.23 L2070.5,302.38 L2071.33,300.54 L2072.17,298.69 L2073.01,296.85 L2073.85,295 L2074.69,293.15 L2075.53,291.3 L2076.37,289.46 L2077.22,287.61 L2078.07,285.77 L2078.93,283.93 L2079.8,282.1 L2080.69,280.28 L2081.59,278.48 L2082.51,276.68 L2083.44,274.9 L2084.4,273.14 L2085.38,271.4 L2086.39,269.68 L2087.43,267.98 L2088.49,266.31 L2089.59,264.67 L2090.73,263.05 L2091.9,261.47 L2093.11,259.92 L2094.36,258.4 L2095.66,256.93 L2097.01,255.49 L2098.4,254.09 L2099.84,252.74 L2101.34,251.43 L2102.89,250.17 L2104.49,248.96 L2106.16,247.8 L2107.88,246.78 L2109.63,246.02 L2111.41,245.64 L2113.19,245.76 L2114.96,246.36 L2116.7,247.35 L2118.38,248.61 L2119.98,250.05 L2121.48,251.56 L2122.88,253.13 L2124.2,254.73 L2125.43,256.38 L2126.6,258.06 L2127.7,259.77 L2128.75,261.5 L2129.76,263.26 L2130.74,265.03 L2131.69,266.8 L2132.62,268.58 L2133.55,270.36 L2134.48,272.14 L2135.42,273.9 L2136.38,275.65 L2137.37,277.38 L2138.4,279.09 L2139.47,280.76 L2140.6,282.4 L2141.8,284"/>
</g>
<rect x="273.3" y="223.4" width="1868.8" height="1600.8" fill="none" stroke="#000" stroke-width="5.4"/>
<g stroke="#000" stroke-width="5" stroke-linecap="round" fill="none">
<path d="M273.3,543.56 H302.6"/>
<path d="M273.3,863.72 H302.6"/>
<path d="M273.3,1183.88 H302.6"/>
<path d="M273.3,1504.04 H302.6"/>
<path d="M647.05,1824.2 V1794.9"/>
<path d="M1020.8,1824.2 V1794.9"/>
<path d="M1394.55,1824.2 V1794.9"/>
<path d="M1768.3,1824.2 V1794.9"/>
</g>
<g stroke="#000" fill="none" stroke-linecap="round">
<path d="M1202.7,229.4 L1202.7,485.7" stroke-width="5.4" stroke-dasharray="16.6 22.85"/>
<path d="M801,485.7 L1606.3,485.7" stroke-width="5.4" stroke-dasharray="16.6 22.85"/>
<path d="M787,411.5 L787,783.6" stroke-width="5.4" stroke-dasharray="16.6 22.85"/>
<path d="M787,789.15 L787,1816.3" stroke-width="5.4" stroke-dasharray="16.6 22.85"/>
<path d="M1606.4,433.4 L1606.4,1815.6" stroke-width="5.4" stroke-dasharray="16.6 22.85"/>
<ellipse cx="451.5" cy="470" rx="34.5" ry="82" stroke-width="3.3" stroke-dasharray="10.4 15.6" stroke-dashoffset="0"/>
<ellipse cx="1191.5" cy="1096.3" rx="34" ry="81.5" stroke-width="3.3" stroke-dasharray="10.4 15.6" stroke-dashoffset="0"/>
</g>
<g fill="#000" stroke="none">
<path d="M844.55,437.8 H1152.4" stroke="#000" stroke-width="5.8" fill="none"/>
<path d="M798.75,437.8 L870.45,422.8 L846.55,437.8 L870.45,452.8 Z"/>
<path d="M1198.2,437.8 L1126.5,422.8 L1150.4,437.8 L1126.5,452.8 Z"/>
<path d="M1251.8,437.8 H1552.95" stroke="#000" stroke-width="5.8" fill="none"/>
<path d="M1206,437.8 L1277.7,422.8 L1253.8,437.8 L1277.7,452.8 Z"/>
<path d="M1598.75,437.8 L1527.05,422.8 L1550.95,437.8 L1527.05,452.8 Z"/>
</g>
<g font-family="'DejaVu Sans', 'Liberation Sans', sans-serif" fill="#000" style="font-kerning:none;font-variant-ligatures:none" text-rendering="geometricPrecision">
<text><tspan x="122.77" y="128.1" font-size="90">S</tspan><tspan x="167.53 198.3" y="139.9" font-size="61">21</tspan><tspan x="229.06" y="128.1" font-size="90">,</tspan><tspan x="262" y="128.1" font-size="90"> </tspan><tspan x="273.67" y="128.1" font-size="90">S</tspan><tspan x="318.2 348.2" y="139.9" font-size="61">11</tspan><tspan x="378.96" y="128.1" font-size="90">,</tspan><tspan x="410" y="128.1" font-size="90"> </tspan><tspan x="422.93 467.97" y="128.1" font-size="90">dB</tspan></text>
<text><tspan x="196.82" y="270" font-size="90">0</tspan></text>
<text><tspan x="69.86 145.01 202.67" y="578.9" font-size="90">−10</tspan></text>
<text><tspan x="70.26 145.41 202.67" y="904.9" font-size="90">−20</tspan></text>
<text><tspan x="69.86 144.64 202.67" y="1225.3" font-size="90">−30</tspan></text>
<text><tspan x="69.86 144.81 202.67" y="1540.1" font-size="90">−40</tspan></text>
<text><tspan x="68.96 143.96 201.77" y="1857.2" font-size="90">−50</tspan></text>
<text><tspan x="259.67" y="1902.7" font-size="90">0</tspan></text>
<text><tspan x="587.97 632.88 655.16" y="1903.2" font-size="90">0.5</tspan></text>
<text><tspan x="965.61 1010.78 1033.57" y="1903" font-size="90">1.0</tspan></text>
<text><tspan x="1341.81 1386.88 1408.66" y="1903" font-size="90">1.5</tspan></text>
<text><tspan x="1716.71 1761.68 1784.57" y="1905.6" font-size="90">2.0</tspan></text>
<text><tspan x="2087.71 2132.58 2154.56" y="1903" font-size="90">2.5</tspan></text>
<text><tspan x="769.83" y="1897.9" font-size="90">f</tspan><tspan x="794.65" y="1909.9" font-size="61">l</tspan></text>
<text><tspan x="1578.83" y="1903" font-size="90">f</tspan><tspan x="1604.56" y="1915" font-size="61">h</tspan></text>
<text><tspan x="1075.73 1102.26" y="2031" font-size="90">f,</tspan><tspan x="1135" y="2031" font-size="90"> </tspan><tspan x="1158.65 1227.57 1295.83" y="2031" font-size="90">GHz</tspan></text>
<text><tspan x="472.47" y="390.1" font-size="90">S</tspan><tspan x="517.63 549.4" y="402.2" font-size="61">21</tspan></text>
<text><tspan x="1211.27" y="1227.2" font-size="90">S</tspan><tspan x="1257.4 1287.1" y="1237.9" font-size="61">11</tspan></text>
<text><tspan x="921 978.93 1015.9 1047.81" y="413.95" font-size="90">Δf/2</tspan></text>
<text><tspan x="1332.95 1390.93 1428 1459.81" y="413.95" font-size="90">Δf/2</tspan></text>
<text><tspan x="1181.93" y="570.8" font-size="90">f</tspan><tspan x="1206.48" y="582.9" font-size="61">0</tspan></text>
</g>
</svg>
</body>
</html>
